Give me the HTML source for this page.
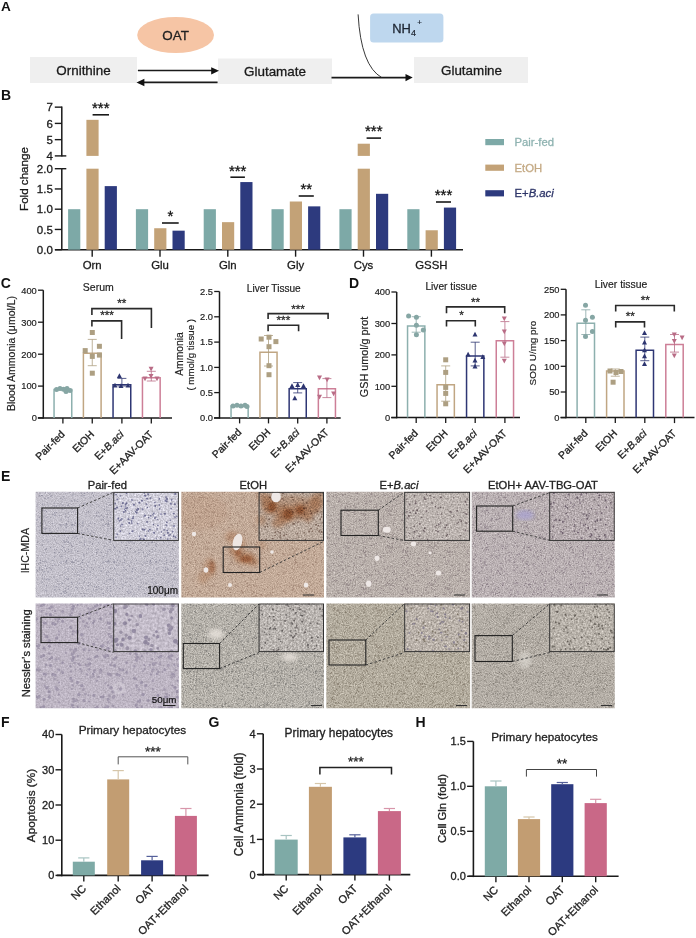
<!DOCTYPE html>
<html><head><meta charset="utf-8"><style>
html,body{margin:0;padding:0;background:#fff;}
svg{display:block;font-family:"Liberation Sans", sans-serif;will-change:transform;}
</style></head><body>
<svg width="696" height="938" viewBox="0 0 696 938">
<text x="1.1" y="10.8" font-size="13.6" text-anchor="start" font-weight="bold" fill="#111" stroke="#111" stroke-width="0" >A</text>
<rect x="30" y="57" width="107" height="26" fill="#efefef" />
<text x="83.5" y="74.5" font-size="13.4" text-anchor="middle" font-weight="normal" fill="#1a1a1a" stroke="#1a1a1a" stroke-width="0.3" >Ornithine</text>
<ellipse cx="175.6" cy="35" rx="38.4" ry="18.1" fill="#f6c5a5"/>
<text x="175.6" y="40.2" font-size="13.4" text-anchor="middle" font-weight="normal" fill="#222" stroke="#222" stroke-width="0.3" >OAT</text>
<rect x="218" y="58.5" width="114" height="25.5" fill="#efefef" />
<text x="275" y="76" font-size="13.45" text-anchor="middle" font-weight="normal" fill="#1a1a1a" stroke="#1a1a1a" stroke-width="0.3" >Glutamate</text>
<rect x="414" y="57" width="114" height="26" fill="#efefef" />
<text x="471.5" y="74.5" font-size="13.4" text-anchor="middle" font-weight="normal" fill="#1a1a1a" stroke="#1a1a1a" stroke-width="0.3" >Glutamine</text>
<rect x="370.1" y="13.6" width="73.3" height="28.8" rx="3.5" fill="#bed7ee"/>
<text x="392.3" y="33" font-size="12.9" text-anchor="start" font-weight="normal" fill="#1c2430" stroke="#1c2430" stroke-width="0.3" >NH</text>
<text x="411" y="35.8" font-size="9" text-anchor="start" font-weight="normal" fill="#1c2430" stroke="#1c2430" stroke-width="0.18" >4</text>
<text x="417.3" y="24.5" font-size="8" text-anchor="start" font-weight="normal" fill="#1c2430" stroke="#1c2430" stroke-width="0.18" >+</text>
<line x1="137.9" y1="70.5" x2="212" y2="70.5" stroke="#1a1a1a" stroke-width="1.6" />
<polygon points="219,70.8 211.2,67.2 211.2,74.4" fill="#111"/>
<line x1="144" y1="82.4" x2="217.6" y2="82.4" stroke="#1a1a1a" stroke-width="1.6" />
<polygon points="136.5,82.5 144.4,78.7 144.4,86.3" fill="#111"/>
<line x1="331.5" y1="77.6" x2="406" y2="77.6" stroke="#1a1a1a" stroke-width="1.6" />
<polygon points="412.7,77.6 405.5,74 405.5,81.2" fill="#111"/>
<path d="M358.1,14.4 Q361,66 381.8,77.6" fill="none" stroke="#222" stroke-width="0.9"/>
<text x="0.9" y="99.8" font-size="14" text-anchor="start" font-weight="bold" fill="#111" stroke="#111" stroke-width="0" >B</text>
<line x1="61.8" y1="106.5" x2="61.8" y2="156.6" stroke="#1a1a1a" stroke-width="1.5" />
<line x1="61.8" y1="168.3" x2="61.8" y2="250" stroke="#1a1a1a" stroke-width="1.5" />
<line x1="54.8" y1="107.15" x2="61.8" y2="107.15" stroke="#1a1a1a" stroke-width="1.4" />
<text x="52.8" y="111.25" font-size="11.5" text-anchor="end" font-weight="normal" fill="#1a1a1a" stroke="#1a1a1a" stroke-width="0.3" >7</text>
<line x1="54.8" y1="123.4" x2="61.8" y2="123.4" stroke="#1a1a1a" stroke-width="1.4" />
<text x="52.8" y="127.5" font-size="11.5" text-anchor="end" font-weight="normal" fill="#1a1a1a" stroke="#1a1a1a" stroke-width="0.3" >6</text>
<line x1="54.8" y1="139.65" x2="61.8" y2="139.65" stroke="#1a1a1a" stroke-width="1.4" />
<text x="52.8" y="143.75" font-size="11.5" text-anchor="end" font-weight="normal" fill="#1a1a1a" stroke="#1a1a1a" stroke-width="0.3" >5</text>
<line x1="54.8" y1="155.9" x2="61.8" y2="155.9" stroke="#1a1a1a" stroke-width="1.4" />
<text x="52.8" y="160.0" font-size="11.5" text-anchor="end" font-weight="normal" fill="#1a1a1a" stroke="#1a1a1a" stroke-width="0.3" >4</text>
<line x1="61.8" y1="155.9" x2="66.3" y2="155.9" stroke="#1a1a1a" stroke-width="1.4" />
<line x1="54.8" y1="168.7" x2="61.8" y2="168.7" stroke="#1a1a1a" stroke-width="1.4" />
<text x="52.8" y="172.79999999999998" font-size="11.5" text-anchor="end" font-weight="normal" fill="#1a1a1a" stroke="#1a1a1a" stroke-width="0.3" >2.0</text>
<line x1="54.8" y1="188.95" x2="61.8" y2="188.95" stroke="#1a1a1a" stroke-width="1.4" />
<text x="52.8" y="193.04999999999998" font-size="11.5" text-anchor="end" font-weight="normal" fill="#1a1a1a" stroke="#1a1a1a" stroke-width="0.3" >1.5</text>
<line x1="54.8" y1="209.2" x2="61.8" y2="209.2" stroke="#1a1a1a" stroke-width="1.4" />
<text x="52.8" y="213.29999999999998" font-size="11.5" text-anchor="end" font-weight="normal" fill="#1a1a1a" stroke="#1a1a1a" stroke-width="0.3" >1.0</text>
<line x1="54.8" y1="229.45" x2="61.8" y2="229.45" stroke="#1a1a1a" stroke-width="1.4" />
<text x="52.8" y="233.54999999999998" font-size="11.5" text-anchor="end" font-weight="normal" fill="#1a1a1a" stroke="#1a1a1a" stroke-width="0.3" >0.5</text>
<line x1="54.8" y1="249.7" x2="61.8" y2="249.7" stroke="#1a1a1a" stroke-width="1.4" />
<text x="52.8" y="253.79999999999998" font-size="11.5" text-anchor="end" font-weight="normal" fill="#1a1a1a" stroke="#1a1a1a" stroke-width="0.3" >0.0</text>
<line x1="61.8" y1="168.7" x2="66.3" y2="168.7" stroke="#1a1a1a" stroke-width="1.4" />
<line x1="55" y1="249.7" x2="463" y2="249.7" stroke="#1a1a1a" stroke-width="1.5" />
<text x="28" y="179" font-size="11.6" text-anchor="middle" font-weight="normal" fill="#1a1a1a" stroke="#1a1a1a" stroke-width="0.3" transform="rotate(-90 28 179)" >Fold change</text>
<line x1="92.2" y1="249.7" x2="92.2" y2="256.7" stroke="#1a1a1a" stroke-width="1.4" />
<text x="92.2" y="268.7" font-size="11.4" text-anchor="middle" font-weight="normal" fill="#1a1a1a" stroke="#1a1a1a" stroke-width="0.3" >Orn</text>
<rect x="68.1" y="209.2" width="12.2" height="40.5" fill="#7da9a7" />
<rect x="86.39999999999999" y="168.7" width="12.2" height="81.0" fill="#c3a277" />
<rect x="86.39999999999999" y="119.82500000000002" width="12.2" height="36.074999999999996" fill="#c3a277" />
<rect x="104.69999999999999" y="186.11499999999998" width="12.2" height="63.585" fill="#2d3a7e" />
<line x1="160.0" y1="249.7" x2="160.0" y2="256.7" stroke="#1a1a1a" stroke-width="1.4" />
<text x="160.0" y="268.7" font-size="11.4" text-anchor="middle" font-weight="normal" fill="#1a1a1a" stroke="#1a1a1a" stroke-width="0.3" >Glu</text>
<rect x="135.9" y="209.2" width="12.2" height="40.5" fill="#7da9a7" />
<rect x="154.20000000000002" y="228.23499999999999" width="12.2" height="21.465" fill="#c3a277" />
<rect x="172.5" y="230.665" width="12.2" height="19.035" fill="#2d3a7e" />
<line x1="227.8" y1="249.7" x2="227.8" y2="256.7" stroke="#1a1a1a" stroke-width="1.4" />
<text x="227.8" y="268.7" font-size="11.4" text-anchor="middle" font-weight="normal" fill="#1a1a1a" stroke="#1a1a1a" stroke-width="0.3" >Gln</text>
<rect x="203.70000000000002" y="209.2" width="12.2" height="40.5" fill="#7da9a7" />
<rect x="222.00000000000003" y="222.16" width="12.2" height="27.540000000000003" fill="#c3a277" />
<rect x="240.3" y="182.065" width="12.2" height="67.63499999999999" fill="#2d3a7e" />
<line x1="295.6" y1="249.7" x2="295.6" y2="256.7" stroke="#1a1a1a" stroke-width="1.4" />
<text x="295.6" y="268.7" font-size="11.4" text-anchor="middle" font-weight="normal" fill="#1a1a1a" stroke="#1a1a1a" stroke-width="0.3" >Gly</text>
<rect x="271.5" y="209.2" width="12.2" height="40.5" fill="#7da9a7" />
<rect x="289.8" y="201.505" width="12.2" height="48.195" fill="#c3a277" />
<rect x="308.1" y="206.36499999999998" width="12.2" height="43.335" fill="#2d3a7e" />
<line x1="363.5" y1="249.7" x2="363.5" y2="256.7" stroke="#1a1a1a" stroke-width="1.4" />
<text x="363.5" y="268.7" font-size="11.4" text-anchor="middle" font-weight="normal" fill="#1a1a1a" stroke="#1a1a1a" stroke-width="0.3" >Cys</text>
<rect x="339.4" y="209.2" width="12.2" height="40.5" fill="#7da9a7" />
<rect x="357.7" y="168.7" width="12.2" height="81.0" fill="#c3a277" />
<rect x="357.7" y="143.7125" width="12.2" height="12.1875" fill="#c3a277" />
<rect x="376.0" y="193.81" width="12.2" height="55.88999999999999" fill="#2d3a7e" />
<line x1="431.4" y1="249.7" x2="431.4" y2="256.7" stroke="#1a1a1a" stroke-width="1.4" />
<text x="431.4" y="268.7" font-size="11.4" text-anchor="middle" font-weight="normal" fill="#1a1a1a" stroke="#1a1a1a" stroke-width="0.3" >GSSH</text>
<rect x="407.29999999999995" y="209.2" width="12.2" height="40.5" fill="#7da9a7" />
<rect x="425.59999999999997" y="230.26" width="12.2" height="19.439999999999998" fill="#c3a277" />
<rect x="443.9" y="207.57999999999998" width="12.2" height="42.120000000000005" fill="#2d3a7e" />
<line x1="92.6" y1="114.8" x2="109" y2="114.8" stroke="#1a1a1a" stroke-width="1.6" />
<text x="100.8" y="113.1" font-size="15" text-anchor="middle" font-weight="normal" fill="#111" stroke="#111" stroke-width="0.3" >***</text>
<line x1="162" y1="223" x2="178.7" y2="223" stroke="#1a1a1a" stroke-width="1.6" />
<text x="170.35" y="221.3" font-size="15" text-anchor="middle" font-weight="normal" fill="#111" stroke="#111" stroke-width="0.3" >*</text>
<line x1="230.4" y1="177.2" x2="244.9" y2="177.2" stroke="#1a1a1a" stroke-width="1.6" />
<text x="237.65" y="175.5" font-size="15" text-anchor="middle" font-weight="normal" fill="#111" stroke="#111" stroke-width="0.3" >***</text>
<line x1="298.7" y1="196" x2="313.8" y2="196" stroke="#1a1a1a" stroke-width="1.6" />
<text x="306.25" y="194.3" font-size="15" text-anchor="middle" font-weight="normal" fill="#111" stroke="#111" stroke-width="0.3" >**</text>
<line x1="366.6" y1="138.1" x2="381" y2="138.1" stroke="#1a1a1a" stroke-width="1.6" />
<text x="373.8" y="136.4" font-size="15" text-anchor="middle" font-weight="normal" fill="#111" stroke="#111" stroke-width="0.3" >***</text>
<line x1="436" y1="202" x2="451" y2="202" stroke="#1a1a1a" stroke-width="1.6" />
<text x="443.5" y="200.3" font-size="15" text-anchor="middle" font-weight="normal" fill="#111" stroke="#111" stroke-width="0.3" >***</text>
<rect x="485.3" y="139.0" width="18.7" height="6.2" fill="#7da9a7" />
<text x="514.5" y="146.1" font-size="11.3" text-anchor="start" font-weight="normal" fill="#8fb3b1" stroke="#8fb3b1" stroke-width="0.3" >Pair-fed</text>
<rect x="485.3" y="164.6" width="18.7" height="6.2" fill="#c3a277" />
<text x="514.5" y="171.7" font-size="11.3" text-anchor="start" font-weight="normal" fill="#c4aa85" stroke="#c4aa85" stroke-width="0.3" >EtOH</text>
<rect x="485.3" y="190.20000000000002" width="18.7" height="6.2" fill="#2d3a7e" />
<text x="514.5" y="197.3" font-size="11.3" text-anchor="start" font-weight="normal" fill="#2d3468" stroke="#2d3468" stroke-width="0.3" >E+<tspan font-style="italic">B.aci</tspan></text>
<text x="0.7" y="287.7" font-size="14" text-anchor="start" font-weight="bold" fill="#111" stroke="#111" stroke-width="0" >C</text>
<text x="349" y="287.7" font-size="14" text-anchor="start" font-weight="bold" fill="#111" stroke="#111" stroke-width="0" >D</text>
<line x1="43.3" y1="290.2" x2="43.3" y2="418.59999999999997" stroke="#1a1a1a" stroke-width="1.5" />
<line x1="37.8" y1="417.9" x2="172" y2="417.9" stroke="#1a1a1a" stroke-width="1.5" />
<line x1="38.0" y1="290.2" x2="43.3" y2="290.2" stroke="#1a1a1a" stroke-width="1.3" />
<text x="36.8" y="293.5" font-size="9.3" text-anchor="end" font-weight="normal" fill="#222" stroke="#222" stroke-width="0.18" >400</text>
<line x1="38.0" y1="322.2" x2="43.3" y2="322.2" stroke="#1a1a1a" stroke-width="1.3" />
<text x="36.8" y="325.5" font-size="9.3" text-anchor="end" font-weight="normal" fill="#222" stroke="#222" stroke-width="0.18" >300</text>
<line x1="38.0" y1="354.2" x2="43.3" y2="354.2" stroke="#1a1a1a" stroke-width="1.3" />
<text x="36.8" y="357.5" font-size="9.3" text-anchor="end" font-weight="normal" fill="#222" stroke="#222" stroke-width="0.18" >200</text>
<line x1="38.0" y1="386.1" x2="43.3" y2="386.1" stroke="#1a1a1a" stroke-width="1.3" />
<text x="36.8" y="389.40000000000003" font-size="9.3" text-anchor="end" font-weight="normal" fill="#222" stroke="#222" stroke-width="0.18" >100</text>
<line x1="38.0" y1="417.9" x2="43.3" y2="417.9" stroke="#1a1a1a" stroke-width="1.3" />
<text x="36.8" y="421.2" font-size="9.3" text-anchor="end" font-weight="normal" fill="#222" stroke="#222" stroke-width="0.18" >0</text>
<line x1="62.9" y1="417.9" x2="62.9" y2="423.4" stroke="#1a1a1a" stroke-width="1.3" />
<path d="M54.05,417.9 L54.05,389.45 L71.75,389.45 L71.75,417.9" fill="none" stroke="#8db0ae" stroke-width="1.5"/>
<circle cx="56.5" cy="389.5" r="2.5" fill="#86a6a4"/>
<circle cx="60" cy="388.5" r="2.5" fill="#86a6a4"/>
<circle cx="63.5" cy="389.3" r="2.5" fill="#86a6a4"/>
<circle cx="67" cy="388.5" r="2.5" fill="#86a6a4"/>
<circle cx="70" cy="390.5" r="2.5" fill="#86a6a4"/>
<circle cx="66" cy="391.5" r="2.5" fill="#86a6a4"/>
<line x1="92.25" y1="417.9" x2="92.25" y2="423.4" stroke="#1a1a1a" stroke-width="1.3" />
<path d="M83.4,417.9 L83.4,353.25 L101.1,353.25 L101.1,417.9" fill="none" stroke="#c0a683" stroke-width="1.5"/>
<line x1="92.25" y1="339.4" x2="92.25" y2="365.7" stroke="#ad9f82" stroke-width="0.8" />
<line x1="87.75" y1="339.4" x2="96.75" y2="339.4" stroke="#ad9f82" stroke-width="0.8" />
<line x1="87.75" y1="365.7" x2="96.75" y2="365.7" stroke="#ad9f82" stroke-width="0.8" />
<rect x="89.8" y="330.0" width="5.0" height="5.0" fill="#ad9f82"/>
<rect x="96.9" y="343.8" width="5.0" height="5.0" fill="#ad9f82"/>
<rect x="82.7" y="348.1" width="5.0" height="5.0" fill="#ad9f82"/>
<rect x="89.8" y="353.9" width="5.0" height="5.0" fill="#ad9f82"/>
<rect x="96.9" y="352.6" width="5.0" height="5.0" fill="#ad9f82"/>
<rect x="89.8" y="370.7" width="5.0" height="5.0" fill="#ad9f82"/>
<line x1="121.9" y1="417.9" x2="121.9" y2="423.4" stroke="#1a1a1a" stroke-width="1.3" />
<path d="M113.05000000000001,417.9 L113.05000000000001,384.75 L130.75,384.75 L130.75,417.9" fill="none" stroke="#2e3674" stroke-width="1.5"/>
<line x1="121.9" y1="378.4" x2="121.9" y2="386" stroke="#2d3570" stroke-width="0.8" />
<line x1="117.4" y1="378.4" x2="126.4" y2="378.4" stroke="#2d3570" stroke-width="0.8" />
<line x1="117.4" y1="386" x2="126.4" y2="386" stroke="#2d3570" stroke-width="0.8" />
<polygon points="119.4,373.34999999999997 116.9,378.09999999999997 121.9,378.09999999999997" fill="#2d3570"/>
<polygon points="115,382.65 112.5,387.4 117.5,387.4" fill="#2d3570"/>
<polygon points="128,382.65 125.5,387.4 130.5,387.4" fill="#2d3570"/>
<polygon points="121,383.15 118.5,387.9 123.5,387.9" fill="#2d3570"/>
<line x1="151.3" y1="417.9" x2="151.3" y2="423.4" stroke="#1a1a1a" stroke-width="1.3" />
<path d="M142.45000000000002,417.9 L142.45000000000002,377.85 L160.15,377.85 L160.15,417.9" fill="none" stroke="#cd7f97" stroke-width="1.5"/>
<line x1="151.3" y1="371.3" x2="151.3" y2="381" stroke="#b96c86" stroke-width="0.8" />
<line x1="146.8" y1="371.3" x2="155.8" y2="371.3" stroke="#b96c86" stroke-width="0.8" />
<line x1="146.8" y1="381" x2="155.8" y2="381" stroke="#b96c86" stroke-width="0.8" />
<polygon points="151.1,371.55 148.6,366.8 153.6,366.8" fill="#b96c86"/>
<polygon points="145,381.35 142.5,376.6 147.5,376.6" fill="#b96c86"/>
<polygon points="157,381.35 154.5,376.6 159.5,376.6" fill="#b96c86"/>
<polygon points="151,378.85 148.5,374.1 153.5,374.1" fill="#b96c86"/>
<text x="98.3" y="290.8" font-size="10.5" text-anchor="middle" font-weight="normal" fill="#222" stroke="#222" stroke-width="0.18" >Serum</text>
<text x="15.2" y="353.5" font-size="10.5" text-anchor="middle" font-weight="normal" fill="#222" stroke="#222" stroke-width="0.18" transform="rotate(-90 15.2 353.5)" >Blood Ammonia (μmol/L)</text>
<path d="M91.9,326.4 L91.9,320.9 L121.6,320.9 L121.6,339" fill="none" stroke="#2a2a2a" stroke-width="1.6"/>
<text x="107" y="319.3" font-size="11.7" text-anchor="middle" font-weight="normal" fill="#2a2a2a" stroke="#2a2a2a" stroke-width="0.3" >***</text>
<path d="M91.9,315 L91.9,308.6 L151.4,308.6 L151.4,328" fill="none" stroke="#2a2a2a" stroke-width="1.6"/>
<text x="121.7" y="306.8" font-size="11.7" text-anchor="middle" font-weight="normal" fill="#2a2a2a" stroke="#2a2a2a" stroke-width="0.3" >**</text>
<text x="65.4" y="435" font-size="10.4" text-anchor="end" fill="#222" stroke="#222" stroke-width="0.3" transform="rotate(-45 65.4 435)">Pair-fed</text>
<text x="94.75" y="435" font-size="10.4" text-anchor="end" fill="#222" stroke="#222" stroke-width="0.3" transform="rotate(-45 94.75 435)">EtOH</text>
<text x="124.4" y="435" font-size="10.4" text-anchor="end" fill="#222" stroke="#222" stroke-width="0.3" transform="rotate(-45 124.4 435)">E+<tspan font-style="italic">B.aci</tspan></text>
<text x="153.8" y="435" font-size="10.4" text-anchor="end" fill="#222" stroke="#222" stroke-width="0.3" transform="rotate(-45 153.8 435)">E+AAV-OAT</text>
<line x1="219.5" y1="291.5" x2="219.5" y2="418.59999999999997" stroke="#1a1a1a" stroke-width="1.5" />
<line x1="214.0" y1="417.9" x2="340.7" y2="417.9" stroke="#1a1a1a" stroke-width="1.5" />
<line x1="214.2" y1="291.5" x2="219.5" y2="291.5" stroke="#1a1a1a" stroke-width="1.3" />
<text x="213.0" y="294.8" font-size="9.3" text-anchor="end" font-weight="normal" fill="#222" stroke="#222" stroke-width="0.18" >2.5</text>
<line x1="214.2" y1="316.8" x2="219.5" y2="316.8" stroke="#1a1a1a" stroke-width="1.3" />
<text x="213.0" y="320.1" font-size="9.3" text-anchor="end" font-weight="normal" fill="#222" stroke="#222" stroke-width="0.18" >2.0</text>
<line x1="214.2" y1="342.1" x2="219.5" y2="342.1" stroke="#1a1a1a" stroke-width="1.3" />
<text x="213.0" y="345.40000000000003" font-size="9.3" text-anchor="end" font-weight="normal" fill="#222" stroke="#222" stroke-width="0.18" >1.5</text>
<line x1="214.2" y1="367.4" x2="219.5" y2="367.4" stroke="#1a1a1a" stroke-width="1.3" />
<text x="213.0" y="370.7" font-size="9.3" text-anchor="end" font-weight="normal" fill="#222" stroke="#222" stroke-width="0.18" >1.0</text>
<line x1="214.2" y1="392.6" x2="219.5" y2="392.6" stroke="#1a1a1a" stroke-width="1.3" />
<text x="213.0" y="395.90000000000003" font-size="9.3" text-anchor="end" font-weight="normal" fill="#222" stroke="#222" stroke-width="0.18" >0.5</text>
<line x1="214.2" y1="417.9" x2="219.5" y2="417.9" stroke="#1a1a1a" stroke-width="1.3" />
<text x="213.0" y="421.2" font-size="9.3" text-anchor="end" font-weight="normal" fill="#222" stroke="#222" stroke-width="0.18" >0.0</text>
<line x1="239.6" y1="417.9" x2="239.6" y2="423.4" stroke="#1a1a1a" stroke-width="1.3" />
<path d="M231.04999999999998,417.9 L231.04999999999998,406.05 L248.15,406.05 L248.15,417.9" fill="none" stroke="#8db0ae" stroke-width="1.5"/>
<circle cx="233" cy="406" r="2.5" fill="#86a6a4"/>
<circle cx="237" cy="405.3" r="2.5" fill="#86a6a4"/>
<circle cx="241" cy="406" r="2.5" fill="#86a6a4"/>
<circle cx="245" cy="405.3" r="2.5" fill="#86a6a4"/>
<circle cx="247" cy="406.5" r="2.5" fill="#86a6a4"/>
<line x1="268.5" y1="417.9" x2="268.5" y2="423.4" stroke="#1a1a1a" stroke-width="1.3" />
<path d="M259.95,417.9 L259.95,352.35 L277.05,352.35 L277.05,417.9" fill="none" stroke="#c0a683" stroke-width="1.5"/>
<line x1="268.5" y1="335.5" x2="268.5" y2="366" stroke="#ad9f82" stroke-width="0.8" />
<line x1="264.0" y1="335.5" x2="273.0" y2="335.5" stroke="#ad9f82" stroke-width="0.8" />
<line x1="264.0" y1="366" x2="273.0" y2="366" stroke="#ad9f82" stroke-width="0.8" />
<rect x="258.7" y="336.5" width="5.0" height="5.0" fill="#ad9f82"/>
<rect x="266.5" y="334.7" width="5.0" height="5.0" fill="#ad9f82"/>
<rect x="273.4" y="339.1" width="5.0" height="5.0" fill="#ad9f82"/>
<rect x="266.5" y="344.2" width="5.0" height="5.0" fill="#ad9f82"/>
<rect x="266.5" y="363.2" width="5.0" height="5.0" fill="#ad9f82"/>
<rect x="266.5" y="372.2" width="5.0" height="5.0" fill="#ad9f82"/>
<line x1="297.7" y1="417.9" x2="297.7" y2="423.4" stroke="#1a1a1a" stroke-width="1.3" />
<path d="M289.15,417.9 L289.15,388.85 L306.25,388.85 L306.25,417.9" fill="none" stroke="#2e3674" stroke-width="1.5"/>
<line x1="297.7" y1="382.6" x2="297.7" y2="392.9" stroke="#2d3570" stroke-width="0.8" />
<line x1="293.2" y1="382.6" x2="302.2" y2="382.6" stroke="#2d3570" stroke-width="0.8" />
<line x1="293.2" y1="392.9" x2="302.2" y2="392.9" stroke="#2d3570" stroke-width="0.8" />
<polygon points="292,383.15 289.5,387.9 294.5,387.9" fill="#2d3570"/>
<polygon points="297.7,382.15 295.2,386.9 300.2,386.9" fill="#2d3570"/>
<polygon points="303.5,383.15 301.0,387.9 306.0,387.9" fill="#2d3570"/>
<polygon points="294.8,395.54999999999995 292.3,400.29999999999995 297.3,400.29999999999995" fill="#2d3570"/>
<line x1="326.9" y1="417.9" x2="326.9" y2="423.4" stroke="#1a1a1a" stroke-width="1.3" />
<path d="M318.34999999999997,417.9 L318.34999999999997,388.85 L335.45,388.85 L335.45,417.9" fill="none" stroke="#cd7f97" stroke-width="1.5"/>
<line x1="326.9" y1="378.6" x2="326.9" y2="397.6" stroke="#b96c86" stroke-width="0.8" />
<line x1="322.4" y1="378.6" x2="331.4" y2="378.6" stroke="#b96c86" stroke-width="0.8" />
<line x1="322.4" y1="397.6" x2="331.4" y2="397.6" stroke="#b96c86" stroke-width="0.8" />
<polygon points="319.5,380.25 317.0,375.5 322.0,375.5" fill="#b96c86"/>
<polygon points="327.1,382.35 324.6,377.6 329.6,377.6" fill="#b96c86"/>
<polygon points="319.5,399.55 317.0,394.8 322.0,394.8" fill="#b96c86"/>
<polygon points="333.6,396.15000000000003 331.1,391.40000000000003 336.1,391.40000000000003" fill="#b96c86"/>
<text x="273.8" y="291.5" font-size="10.1" text-anchor="middle" font-weight="normal" fill="#222" stroke="#222" stroke-width="0.18" >Liver Tissue</text>
<text x="182.5" y="354" font-size="10.3" text-anchor="middle" font-weight="normal" fill="#222" stroke="#222" stroke-width="0.18" transform="rotate(-90 182.5 354)" >Ammonia</text>
<text x="194.5" y="354.8" font-size="9.7" text-anchor="middle" font-weight="normal" fill="#222" stroke="#222" stroke-width="0.18" transform="rotate(-90 194.5 354.8)" >( mmol/g tissue )</text>
<path d="M268.1,331.2 L268.1,325.2 L298.6,325.2 L298.6,331.2" fill="none" stroke="#2a2a2a" stroke-width="1.6"/>
<text x="283.4" y="323.6" font-size="11.7" text-anchor="middle" font-weight="normal" fill="#2a2a2a" stroke="#2a2a2a" stroke-width="0.3" >***</text>
<path d="M268.1,319.1 L268.1,313.6 L328.1,313.6 L328.1,319.1" fill="none" stroke="#2a2a2a" stroke-width="1.6"/>
<text x="298" y="312.6" font-size="11.7" text-anchor="middle" font-weight="normal" fill="#2a2a2a" stroke="#2a2a2a" stroke-width="0.3" >***</text>
<text x="242.1" y="433" font-size="10.4" text-anchor="end" fill="#222" stroke="#222" stroke-width="0.3" transform="rotate(-45 242.1 433)">Pair-fed</text>
<text x="271.0" y="433" font-size="10.4" text-anchor="end" fill="#222" stroke="#222" stroke-width="0.3" transform="rotate(-45 271.0 433)">EtOH</text>
<text x="300.2" y="433" font-size="10.4" text-anchor="end" fill="#222" stroke="#222" stroke-width="0.3" transform="rotate(-45 300.2 433)">E+<tspan font-style="italic">B.aci</tspan></text>
<text x="329.4" y="433" font-size="10.4" text-anchor="end" fill="#222" stroke="#222" stroke-width="0.3" transform="rotate(-45 329.4 433)">E+AAV-OAT</text>
<line x1="396.7" y1="292" x2="396.7" y2="418.3" stroke="#1a1a1a" stroke-width="1.5" />
<line x1="391.2" y1="417.6" x2="520" y2="417.6" stroke="#1a1a1a" stroke-width="1.5" />
<line x1="391.4" y1="292" x2="396.7" y2="292" stroke="#1a1a1a" stroke-width="1.3" />
<text x="390.2" y="295.3" font-size="9.3" text-anchor="end" font-weight="normal" fill="#222" stroke="#222" stroke-width="0.18" >400</text>
<line x1="391.4" y1="323.5" x2="396.7" y2="323.5" stroke="#1a1a1a" stroke-width="1.3" />
<text x="390.2" y="326.8" font-size="9.3" text-anchor="end" font-weight="normal" fill="#222" stroke="#222" stroke-width="0.18" >300</text>
<line x1="391.4" y1="354.9" x2="396.7" y2="354.9" stroke="#1a1a1a" stroke-width="1.3" />
<text x="390.2" y="358.2" font-size="9.3" text-anchor="end" font-weight="normal" fill="#222" stroke="#222" stroke-width="0.18" >200</text>
<line x1="391.4" y1="386.3" x2="396.7" y2="386.3" stroke="#1a1a1a" stroke-width="1.3" />
<text x="390.2" y="389.6" font-size="9.3" text-anchor="end" font-weight="normal" fill="#222" stroke="#222" stroke-width="0.18" >100</text>
<line x1="391.4" y1="417.6" x2="396.7" y2="417.6" stroke="#1a1a1a" stroke-width="1.3" />
<text x="390.2" y="420.90000000000003" font-size="9.3" text-anchor="end" font-weight="normal" fill="#222" stroke="#222" stroke-width="0.18" >0</text>
<line x1="416.2" y1="417.6" x2="416.2" y2="423.1" stroke="#1a1a1a" stroke-width="1.3" />
<path d="M407.55,417.6 L407.55,326.05 L424.84999999999997,326.05 L424.84999999999997,417.6" fill="none" stroke="#8db0ae" stroke-width="1.5"/>
<line x1="416.2" y1="316.7" x2="416.2" y2="332.2" stroke="#86a6a4" stroke-width="0.8" />
<line x1="411.7" y1="316.7" x2="420.7" y2="316.7" stroke="#86a6a4" stroke-width="0.8" />
<line x1="411.7" y1="332.2" x2="420.7" y2="332.2" stroke="#86a6a4" stroke-width="0.8" />
<circle cx="408.6" cy="315.9" r="2.5" fill="#86a6a4"/>
<circle cx="416.4" cy="317.2" r="2.5" fill="#86a6a4"/>
<circle cx="416.4" cy="325.3" r="2.5" fill="#86a6a4"/>
<circle cx="423.3" cy="330" r="2.5" fill="#86a6a4"/>
<circle cx="416.4" cy="334.8" r="2.5" fill="#86a6a4"/>
<line x1="445.7" y1="417.6" x2="445.7" y2="423.1" stroke="#1a1a1a" stroke-width="1.3" />
<path d="M437.05,417.6 L437.05,384.75 L454.34999999999997,384.75 L454.34999999999997,417.6" fill="none" stroke="#c0a683" stroke-width="1.5"/>
<line x1="445.7" y1="365.9" x2="445.7" y2="401.2" stroke="#ad9f82" stroke-width="0.8" />
<line x1="441.2" y1="365.9" x2="450.2" y2="365.9" stroke="#ad9f82" stroke-width="0.8" />
<line x1="441.2" y1="401.2" x2="450.2" y2="401.2" stroke="#ad9f82" stroke-width="0.8" />
<rect x="443.2" y="357.3" width="5.0" height="5.0" fill="#ad9f82"/>
<rect x="443.2" y="369.9" width="5.0" height="5.0" fill="#ad9f82"/>
<rect x="443.2" y="384.9" width="5.0" height="5.0" fill="#ad9f82"/>
<rect x="443.2" y="390.9" width="5.0" height="5.0" fill="#ad9f82"/>
<rect x="443.2" y="401.3" width="5.0" height="5.0" fill="#ad9f82"/>
<line x1="475.2" y1="417.6" x2="475.2" y2="423.1" stroke="#1a1a1a" stroke-width="1.3" />
<path d="M466.55,417.6 L466.55,355.95 L483.84999999999997,355.95 L483.84999999999997,417.6" fill="none" stroke="#2e3674" stroke-width="1.5"/>
<line x1="475.2" y1="342.2" x2="475.2" y2="365.9" stroke="#2d3570" stroke-width="0.8" />
<line x1="470.7" y1="342.2" x2="479.7" y2="342.2" stroke="#2d3570" stroke-width="0.8" />
<line x1="470.7" y1="365.9" x2="479.7" y2="365.9" stroke="#2d3570" stroke-width="0.8" />
<polygon points="475,331.65 472.5,336.4 477.5,336.4" fill="#2d3570"/>
<polygon points="468.1,351.84999999999997 465.6,356.59999999999997 470.6,356.59999999999997" fill="#2d3570"/>
<polygon points="482.8,354.34999999999997 480.3,359.09999999999997 485.3,359.09999999999997" fill="#2d3570"/>
<polygon points="475,357.84999999999997 472.5,362.59999999999997 477.5,362.59999999999997" fill="#2d3570"/>
<polygon points="475,363.84999999999997 472.5,368.59999999999997 477.5,368.59999999999997" fill="#2d3570"/>
<line x1="504.9" y1="417.6" x2="504.9" y2="423.1" stroke="#1a1a1a" stroke-width="1.3" />
<path d="M496.25,417.6 L496.25,340.75 L513.55,340.75 L513.55,417.6" fill="none" stroke="#cd7f97" stroke-width="1.5"/>
<line x1="504.9" y1="321.6" x2="504.9" y2="357.2" stroke="#b96c86" stroke-width="0.8" />
<line x1="500.4" y1="321.6" x2="509.4" y2="321.6" stroke="#b96c86" stroke-width="0.8" />
<line x1="500.4" y1="357.2" x2="509.4" y2="357.2" stroke="#b96c86" stroke-width="0.8" />
<polygon points="504.3,321.25 501.8,316.5 506.8,316.5" fill="#b96c86"/>
<polygon points="504.3,334.25 501.8,329.5 506.8,329.5" fill="#b96c86"/>
<polygon points="504.3,346.25 501.8,341.5 506.8,341.5" fill="#b96c86"/>
<polygon points="504.3,363.55 501.8,358.8 506.8,358.8" fill="#b96c86"/>
<text x="451.2" y="289.5" font-size="10.2" text-anchor="middle" font-weight="normal" fill="#222" stroke="#222" stroke-width="0.18" >Liver tissue</text>
<text x="367.5" y="357" font-size="10.8" text-anchor="middle" font-weight="normal" fill="#222" stroke="#222" stroke-width="0.18" transform="rotate(-90 367.5 357)" >GSH umol/g prot</text>
<path d="M446.5,326.6 L446.5,320.7 L475.3,320.7 L475.3,326.6" fill="none" stroke="#2a2a2a" stroke-width="1.6"/>
<text x="461.6" y="318.8" font-size="11.7" text-anchor="middle" font-weight="normal" fill="#2a2a2a" stroke="#2a2a2a" stroke-width="0.3" >*</text>
<path d="M446.5,313.3 L446.5,306.9 L504.7,306.9 L504.7,313.3" fill="none" stroke="#2a2a2a" stroke-width="1.6"/>
<text x="475.6" y="306.1" font-size="11.7" text-anchor="middle" font-weight="normal" fill="#2a2a2a" stroke="#2a2a2a" stroke-width="0.3" >**</text>
<text x="418.7" y="434" font-size="10.4" text-anchor="end" fill="#222" stroke="#222" stroke-width="0.3" transform="rotate(-45 418.7 434)">Pair-fed</text>
<text x="448.2" y="434" font-size="10.4" text-anchor="end" fill="#222" stroke="#222" stroke-width="0.3" transform="rotate(-45 448.2 434)">EtOH</text>
<text x="477.7" y="434" font-size="10.4" text-anchor="end" fill="#222" stroke="#222" stroke-width="0.3" transform="rotate(-45 477.7 434)">E+<tspan font-style="italic">B.aci</tspan></text>
<text x="507.4" y="434" font-size="10.4" text-anchor="end" fill="#222" stroke="#222" stroke-width="0.3" transform="rotate(-45 507.4 434)">E+AAV-OAT</text>
<line x1="566" y1="289.3" x2="566" y2="418.3" stroke="#1a1a1a" stroke-width="1.5" />
<line x1="560.5" y1="417.6" x2="694.5" y2="417.6" stroke="#1a1a1a" stroke-width="1.5" />
<line x1="560.7" y1="289.3" x2="566" y2="289.3" stroke="#1a1a1a" stroke-width="1.3" />
<text x="559.5" y="292.6" font-size="9.3" text-anchor="end" font-weight="normal" fill="#222" stroke="#222" stroke-width="0.18" >250</text>
<line x1="560.7" y1="314.9" x2="566" y2="314.9" stroke="#1a1a1a" stroke-width="1.3" />
<text x="559.5" y="318.2" font-size="9.3" text-anchor="end" font-weight="normal" fill="#222" stroke="#222" stroke-width="0.18" >200</text>
<line x1="560.7" y1="340.6" x2="566" y2="340.6" stroke="#1a1a1a" stroke-width="1.3" />
<text x="559.5" y="343.90000000000003" font-size="9.3" text-anchor="end" font-weight="normal" fill="#222" stroke="#222" stroke-width="0.18" >150</text>
<line x1="560.7" y1="366.3" x2="566" y2="366.3" stroke="#1a1a1a" stroke-width="1.3" />
<text x="559.5" y="369.6" font-size="9.3" text-anchor="end" font-weight="normal" fill="#222" stroke="#222" stroke-width="0.18" >100</text>
<line x1="560.7" y1="392" x2="566" y2="392" stroke="#1a1a1a" stroke-width="1.3" />
<text x="559.5" y="395.3" font-size="9.3" text-anchor="end" font-weight="normal" fill="#222" stroke="#222" stroke-width="0.18" >50</text>
<line x1="560.7" y1="417.6" x2="566" y2="417.6" stroke="#1a1a1a" stroke-width="1.3" />
<text x="559.5" y="420.90000000000003" font-size="9.3" text-anchor="end" font-weight="normal" fill="#222" stroke="#222" stroke-width="0.18" >0</text>
<line x1="585.8" y1="417.6" x2="585.8" y2="423.1" stroke="#1a1a1a" stroke-width="1.3" />
<path d="M577.0999999999999,417.6 L577.0999999999999,323.15 L594.5,323.15 L594.5,417.6" fill="none" stroke="#8db0ae" stroke-width="1.5"/>
<line x1="585.8" y1="309.8" x2="585.8" y2="334.5" stroke="#86a6a4" stroke-width="0.8" />
<line x1="581.3" y1="309.8" x2="590.3" y2="309.8" stroke="#86a6a4" stroke-width="0.8" />
<line x1="581.3" y1="334.5" x2="590.3" y2="334.5" stroke="#86a6a4" stroke-width="0.8" />
<circle cx="585.5" cy="305.2" r="2.5" fill="#86a6a4"/>
<circle cx="592.4" cy="317.2" r="2.5" fill="#86a6a4"/>
<circle cx="585.5" cy="320.2" r="2.5" fill="#86a6a4"/>
<circle cx="592.4" cy="331.4" r="2.5" fill="#86a6a4"/>
<circle cx="585.5" cy="336.6" r="2.5" fill="#86a6a4"/>
<line x1="615.3" y1="417.6" x2="615.3" y2="423.1" stroke="#1a1a1a" stroke-width="1.3" />
<path d="M606.5999999999999,417.6 L606.5999999999999,370.95 L624.0,370.95 L624.0,417.6" fill="none" stroke="#c0a683" stroke-width="1.5"/>
<line x1="615.3" y1="369" x2="615.3" y2="376.2" stroke="#ad9f82" stroke-width="0.8" />
<line x1="610.8" y1="369" x2="619.8" y2="369" stroke="#ad9f82" stroke-width="0.8" />
<line x1="610.8" y1="376.2" x2="619.8" y2="376.2" stroke="#ad9f82" stroke-width="0.8" />
<rect x="607.5" y="368.5" width="5.0" height="5.0" fill="#ad9f82"/>
<rect x="613.5" y="370.0" width="5.0" height="5.0" fill="#ad9f82"/>
<rect x="618.5" y="369.0" width="5.0" height="5.0" fill="#ad9f82"/>
<rect x="610.6" y="379.7" width="5.0" height="5.0" fill="#ad9f82"/>
<line x1="644.8" y1="417.6" x2="644.8" y2="423.1" stroke="#1a1a1a" stroke-width="1.3" />
<path d="M636.0999999999999,417.6 L636.0999999999999,350.25 L653.5,350.25 L653.5,417.6" fill="none" stroke="#2e3674" stroke-width="1.5"/>
<line x1="644.8" y1="337.1" x2="644.8" y2="360.7" stroke="#2d3570" stroke-width="0.8" />
<line x1="640.3" y1="337.1" x2="649.3" y2="337.1" stroke="#2d3570" stroke-width="0.8" />
<line x1="640.3" y1="360.7" x2="649.3" y2="360.7" stroke="#2d3570" stroke-width="0.8" />
<polygon points="644.5,330.25 642.0,335.0 647.0,335.0" fill="#2d3570"/>
<polygon points="644.5,339.75 642.0,344.5 647.0,344.5" fill="#2d3570"/>
<polygon points="644.5,347.45 642.0,352.2 647.0,352.2" fill="#2d3570"/>
<polygon points="644.5,353.54999999999995 642.0,358.29999999999995 647.0,358.29999999999995" fill="#2d3570"/>
<polygon points="644.5,361.25 642.0,366.0 647.0,366.0" fill="#2d3570"/>
<line x1="674.5" y1="417.6" x2="674.5" y2="423.1" stroke="#1a1a1a" stroke-width="1.3" />
<path d="M665.8,417.6 L665.8,344.55 L683.2,344.55 L683.2,417.6" fill="none" stroke="#cd7f97" stroke-width="1.5"/>
<line x1="674.5" y1="334.5" x2="674.5" y2="352.1" stroke="#b96c86" stroke-width="0.8" />
<line x1="670.0" y1="334.5" x2="679.0" y2="334.5" stroke="#b96c86" stroke-width="0.8" />
<line x1="670.0" y1="352.1" x2="679.0" y2="352.1" stroke="#b96c86" stroke-width="0.8" />
<polygon points="674.3,337.35 671.8,332.6 676.8,332.6" fill="#b96c86"/>
<polygon points="682.1,340.25 679.6,335.5 684.6,335.5" fill="#b96c86"/>
<polygon points="674.3,343.75 671.8,339.0 676.8,339.0" fill="#b96c86"/>
<polygon points="674.3,358.35 671.8,353.6 676.8,353.6" fill="#b96c86"/>
<text x="621" y="287.5" font-size="10.4" text-anchor="middle" font-weight="normal" fill="#222" stroke="#222" stroke-width="0.18" >Liver tissue</text>
<text x="536" y="353" font-size="9.9" text-anchor="middle" font-weight="normal" fill="#222" stroke="#222" stroke-width="0.18" transform="rotate(-90 536 353)" >SOD U/mg pro</text>
<path d="M615.7,327.6 L615.7,321.9 L644.5,321.9 L644.5,327.6" fill="none" stroke="#2a2a2a" stroke-width="1.6"/>
<text x="630.3" y="320.3" font-size="11.7" text-anchor="middle" font-weight="normal" fill="#2a2a2a" stroke="#2a2a2a" stroke-width="0.3" >**</text>
<path d="M615.7,311.6 L615.7,305.5 L674.3,305.5 L674.3,311.6" fill="none" stroke="#2a2a2a" stroke-width="1.6"/>
<text x="645.2" y="303.8" font-size="11.7" text-anchor="middle" font-weight="normal" fill="#2a2a2a" stroke="#2a2a2a" stroke-width="0.3" >**</text>
<text x="588.3" y="434" font-size="10.4" text-anchor="end" fill="#222" stroke="#222" stroke-width="0.3" transform="rotate(-45 588.3 434)">Pair-fed</text>
<text x="617.8" y="434" font-size="10.4" text-anchor="end" fill="#222" stroke="#222" stroke-width="0.3" transform="rotate(-45 617.8 434)">EtOH</text>
<text x="647.3" y="434" font-size="10.4" text-anchor="end" fill="#222" stroke="#222" stroke-width="0.3" transform="rotate(-45 647.3 434)">E+<tspan font-style="italic">B.aci</tspan></text>
<text x="677.0" y="434" font-size="10.4" text-anchor="end" fill="#222" stroke="#222" stroke-width="0.3" transform="rotate(-45 677.0 434)">E+AAV-OAT</text>
<text x="0.9" y="480.7" font-size="14" text-anchor="start" font-weight="bold" fill="#111" stroke="#111" stroke-width="0" >E</text>
<text x="107.3" y="488.5" font-size="11.2" text-anchor="middle" font-weight="normal" fill="#222" stroke="#222" stroke-width="0.3" >Pair-fed</text>
<text x="253.3" y="488.5" font-size="11.2" text-anchor="middle" font-weight="normal" fill="#222" stroke="#222" stroke-width="0.3" >EtOH</text>
<text x="399" y="488.5" font-size="11.2" text-anchor="middle" font-weight="normal" fill="#222" stroke="#222" stroke-width="0.3" >E+<tspan font-style="italic">B.aci</tspan></text>
<text x="543" y="488.5" font-size="11.2" text-anchor="middle" font-weight="normal" fill="#222" stroke="#222" stroke-width="0.3" >EtOH+ AAV-TBG-OAT</text>
<text x="29.5" y="550.7" font-size="10.6" text-anchor="middle" font-weight="normal" fill="#222" stroke="#222" stroke-width="0.18" transform="rotate(-90 29.5 550.7)" >IHC-MDA</text>
<text x="30" y="653.3" font-size="11.2" text-anchor="middle" font-weight="normal" fill="#222" stroke="#222" stroke-width="0.3" transform="rotate(-90 30 653.3)" >Nessler’s  staining</text>
<defs>
<filter id="pf1" x="0" y="0" width="100%" height="100%" filterUnits="objectBoundingBox" color-interpolation-filters="sRGB"><feTurbulence type="fractalNoise" baseFrequency="0.9" numOctaves="2" seed="7"/><feColorMatrix type="matrix" values="0.333 0 0 0 0.6020  0.333 0 0 0 0.5902  0.333 0 0 0 0.6294  0 0 0 0 1"/></filter>
<filter id="pf1i" x="0" y="0" width="100%" height="100%" filterUnits="objectBoundingBox" color-interpolation-filters="sRGB"><feTurbulence type="fractalNoise" baseFrequency="0.6" numOctaves="2" seed="8"/><feColorMatrix type="matrix" values="0.467 0 0 0 0.5824  0.467 0 0 0 0.5745  0.467 0 0 0 0.6216  0 0 0 0 1"/></filter>
<filter id="et1" x="0" y="0" width="100%" height="100%" filterUnits="objectBoundingBox" color-interpolation-filters="sRGB"><feTurbulence type="fractalNoise" baseFrequency="0.9" numOctaves="2" seed="9"/><feColorMatrix type="matrix" values="0.333 0 0 0 0.6020  0.333 0 0 0 0.5078  0.333 0 0 0 0.4373  0 0 0 0 1"/></filter>
<filter id="et1i" x="0" y="0" width="100%" height="100%" filterUnits="objectBoundingBox" color-interpolation-filters="sRGB"><feTurbulence type="fractalNoise" baseFrequency="0.65" numOctaves="2" seed="10"/><feColorMatrix type="matrix" values="0.467 0 0 0 0.4961  0.467 0 0 0 0.4333  0.467 0 0 0 0.3863  0 0 0 0 1"/></filter>
<filter id="ba1" x="0" y="0" width="100%" height="100%" filterUnits="objectBoundingBox" color-interpolation-filters="sRGB"><feTurbulence type="fractalNoise" baseFrequency="0.9" numOctaves="2" seed="11"/><feColorMatrix type="matrix" values="0.367 0 0 0 0.5461  0.367 0 0 0 0.5108  0.367 0 0 0 0.4912  0 0 0 0 1"/></filter>
<filter id="ba1i" x="0" y="0" width="100%" height="100%" filterUnits="objectBoundingBox" color-interpolation-filters="sRGB"><feTurbulence type="fractalNoise" baseFrequency="0.65" numOctaves="2" seed="12"/><feColorMatrix type="matrix" values="0.467 0 0 0 0.5039  0.467 0 0 0 0.4725  0.467 0 0 0 0.4569  0 0 0 0 1"/></filter>
<filter id="aa1" x="0" y="0" width="100%" height="100%" filterUnits="objectBoundingBox" color-interpolation-filters="sRGB"><feTurbulence type="fractalNoise" baseFrequency="0.9" numOctaves="2" seed="13"/><feColorMatrix type="matrix" values="0.367 0 0 0 0.5500  0.367 0 0 0 0.5147  0.367 0 0 0 0.5225  0 0 0 0 1"/></filter>
<filter id="aa1i" x="0" y="0" width="100%" height="100%" filterUnits="objectBoundingBox" color-interpolation-filters="sRGB"><feTurbulence type="fractalNoise" baseFrequency="0.65" numOctaves="2" seed="14"/><feColorMatrix type="matrix" values="0.467 0 0 0 0.4804  0.467 0 0 0 0.4412  0.467 0 0 0 0.4529  0 0 0 0 1"/></filter>
<filter id="pf2" x="0" y="0" width="100%" height="100%" filterUnits="objectBoundingBox" color-interpolation-filters="sRGB"><feTurbulence type="fractalNoise" baseFrequency="0.6" numOctaves="2" seed="15"/><feColorMatrix type="matrix" values="0.267 0 0 0 0.6118  0.267 0 0 0 0.5804  0.267 0 0 0 0.6353  0 0 0 0 1"/></filter>
<filter id="pf2i" x="0" y="0" width="100%" height="100%" filterUnits="objectBoundingBox" color-interpolation-filters="sRGB"><feTurbulence type="fractalNoise" baseFrequency="0.4" numOctaves="2" seed="16"/><feColorMatrix type="matrix" values="0.300 0 0 0 0.6186  0.300 0 0 0 0.5912  0.300 0 0 0 0.6422  0 0 0 0 1"/></filter>
<filter id="et2" x="0" y="0" width="100%" height="100%" filterUnits="objectBoundingBox" color-interpolation-filters="sRGB"><feTurbulence type="fractalNoise" baseFrequency="0.9" numOctaves="2" seed="17"/><feColorMatrix type="matrix" values="0.433 0 0 0 0.4971  0.433 0 0 0 0.4814  0.433 0 0 0 0.4539  0 0 0 0 1"/></filter>
<filter id="et2i" x="0" y="0" width="100%" height="100%" filterUnits="objectBoundingBox" color-interpolation-filters="sRGB"><feTurbulence type="fractalNoise" baseFrequency="0.55" numOctaves="2" seed="18"/><feColorMatrix type="matrix" values="0.500 0 0 0 0.4794  0.500 0 0 0 0.4598  0.500 0 0 0 0.4441  0 0 0 0 1"/></filter>
<filter id="ba2" x="0" y="0" width="100%" height="100%" filterUnits="objectBoundingBox" color-interpolation-filters="sRGB"><feTurbulence type="fractalNoise" baseFrequency="0.9" numOctaves="2" seed="19"/><feColorMatrix type="matrix" values="0.433 0 0 0 0.4892  0.433 0 0 0 0.4618  0.433 0 0 0 0.4069  0 0 0 0 1"/></filter>
<filter id="ba2i" x="0" y="0" width="100%" height="100%" filterUnits="objectBoundingBox" color-interpolation-filters="sRGB"><feTurbulence type="fractalNoise" baseFrequency="0.55" numOctaves="2" seed="20"/><feColorMatrix type="matrix" values="0.500 0 0 0 0.4794  0.500 0 0 0 0.4480  0.500 0 0 0 0.4167  0 0 0 0 1"/></filter>
<filter id="aa2" x="0" y="0" width="100%" height="100%" filterUnits="objectBoundingBox" color-interpolation-filters="sRGB"><feTurbulence type="fractalNoise" baseFrequency="0.9" numOctaves="2" seed="21"/><feColorMatrix type="matrix" values="0.400 0 0 0 0.5059  0.400 0 0 0 0.4824  0.400 0 0 0 0.4510  0 0 0 0 1"/></filter>
<filter id="aa2i" x="0" y="0" width="100%" height="100%" filterUnits="objectBoundingBox" color-interpolation-filters="sRGB"><feTurbulence type="fractalNoise" baseFrequency="0.55" numOctaves="2" seed="22"/><feColorMatrix type="matrix" values="0.467 0 0 0 0.4882  0.467 0 0 0 0.4647  0.467 0 0 0 0.4333  0 0 0 0 1"/></filter>
<pattern id="pf1s0" patternUnits="userSpaceOnUse" width="42" height="37"><g fill="#66667e"><circle cx="6.1" cy="16.8" r="0.68"/><circle cx="29.6" cy="27.1" r="0.58"/><circle cx="33.6" cy="19.7" r="0.47"/><circle cx="19.1" cy="1.8" r="0.73"/><circle cx="39.8" cy="12.4" r="0.54"/><circle cx="32.3" cy="7.5" r="0.50"/><circle cx="7.9" cy="12.8" r="0.64"/><circle cx="40.5" cy="7.8" r="0.74"/><circle cx="23.3" cy="33.3" r="0.70"/><circle cx="6.7" cy="24.0" r="0.49"/><circle cx="0.2" cy="14.6" r="0.68"/><circle cx="42.2" cy="14.6" r="0.68"/><circle cx="23.8" cy="7.1" r="0.70"/><circle cx="38.4" cy="8.8" r="0.58"/><circle cx="26.8" cy="33.4" r="0.49"/><circle cx="23.3" cy="35.8" r="0.63"/><circle cx="30.1" cy="28.7" r="0.60"/><circle cx="12.2" cy="21.8" r="0.61"/><circle cx="14.4" cy="31.6" r="0.56"/><circle cx="20.3" cy="28.2" r="0.69"/><circle cx="37.4" cy="24.1" r="0.53"/><circle cx="35.6" cy="33.6" r="0.66"/><circle cx="32.2" cy="19.0" r="0.60"/><circle cx="24.5" cy="5.4" r="0.65"/><circle cx="36.2" cy="6.1" r="0.68"/><circle cx="29.7" cy="4.5" r="0.47"/><circle cx="25.0" cy="8.1" r="0.54"/><circle cx="26.1" cy="24.1" r="0.67"/><circle cx="23.9" cy="12.3" r="0.45"/><circle cx="4.8" cy="7.1" r="0.61"/><circle cx="30.2" cy="7.7" r="0.57"/><circle cx="39.3" cy="14.8" r="0.66"/><circle cx="26.0" cy="24.4" r="0.59"/><circle cx="22.9" cy="25.9" r="0.50"/><circle cx="33.5" cy="32.3" r="0.46"/><circle cx="8.3" cy="9.2" r="0.48"/><circle cx="5.9" cy="23.7" r="0.49"/><circle cx="2.8" cy="35.0" r="0.57"/><circle cx="22.7" cy="17.5" r="0.55"/><circle cx="19.1" cy="7.2" r="0.62"/><circle cx="10.6" cy="5.4" r="0.51"/><circle cx="17.3" cy="34.4" r="0.63"/><circle cx="41.2" cy="14.8" r="0.53"/><circle cx="29.8" cy="7.0" r="0.75"/><circle cx="16.4" cy="10.0" r="0.53"/><circle cx="12.8" cy="34.7" r="0.75"/><circle cx="23.5" cy="8.6" r="0.45"/><circle cx="3.4" cy="11.0" r="0.64"/><circle cx="26.3" cy="31.6" r="0.70"/><circle cx="14.8" cy="24.9" r="0.58"/><circle cx="30.6" cy="6.8" r="0.74"/><circle cx="1.0" cy="22.9" r="0.56"/><circle cx="33.6" cy="5.3" r="0.72"/><circle cx="0.1" cy="27.2" r="0.66"/><circle cx="42.1" cy="27.2" r="0.66"/><circle cx="21.3" cy="6.5" r="0.56"/><circle cx="18.8" cy="7.9" r="0.50"/><circle cx="35.4" cy="20.3" r="0.53"/><circle cx="26.3" cy="23.4" r="0.49"/><circle cx="24.6" cy="21.6" r="0.48"/><circle cx="12.6" cy="31.9" r="0.62"/><circle cx="9.4" cy="14.6" r="0.59"/><circle cx="29.7" cy="31.8" r="0.48"/><circle cx="2.0" cy="16.3" r="0.46"/><circle cx="6.5" cy="3.9" r="0.48"/><circle cx="26.3" cy="3.5" r="0.62"/><circle cx="40.6" cy="5.2" r="0.68"/><circle cx="24.5" cy="6.3" r="0.73"/><circle cx="30.9" cy="14.0" r="0.72"/><circle cx="4.4" cy="30.8" r="0.70"/></g></pattern>
<pattern id="pf1s1" patternUnits="userSpaceOnUse" width="64" height="51"><g fill="#74748a"><circle cx="37.2" cy="9.9" r="0.79"/><circle cx="59.1" cy="23.8" r="0.68"/><circle cx="13.7" cy="11.3" r="0.55"/><circle cx="44.3" cy="10.8" r="0.79"/><circle cx="4.5" cy="9.9" r="0.48"/><circle cx="49.3" cy="18.7" r="0.62"/><circle cx="20.9" cy="32.5" r="0.59"/><circle cx="13.3" cy="21.9" r="0.56"/><circle cx="7.1" cy="42.0" r="0.69"/><circle cx="42.5" cy="45.0" r="0.59"/><circle cx="24.3" cy="21.6" r="0.59"/><circle cx="42.8" cy="0.3" r="0.61"/><circle cx="42.8" cy="51.3" r="0.61"/><circle cx="34.2" cy="17.6" r="0.46"/><circle cx="45.1" cy="0.5" r="0.65"/><circle cx="45.1" cy="51.5" r="0.65"/><circle cx="9.8" cy="1.8" r="0.51"/><circle cx="4.2" cy="7.7" r="0.69"/><circle cx="46.6" cy="18.5" r="0.68"/><circle cx="30.4" cy="25.4" r="0.76"/><circle cx="19.9" cy="44.4" r="0.69"/><circle cx="43.7" cy="0.3" r="0.48"/><circle cx="43.7" cy="51.3" r="0.48"/><circle cx="2.0" cy="17.6" r="0.78"/><circle cx="56.0" cy="42.8" r="0.49"/><circle cx="45.2" cy="39.5" r="0.73"/><circle cx="50.7" cy="7.2" r="0.51"/><circle cx="50.7" cy="37.6" r="0.76"/><circle cx="28.6" cy="45.4" r="0.50"/><circle cx="61.3" cy="45.1" r="0.57"/><circle cx="4.3" cy="28.0" r="0.69"/><circle cx="22.4" cy="2.9" r="0.55"/><circle cx="52.8" cy="4.6" r="0.78"/><circle cx="16.0" cy="10.4" r="0.49"/><circle cx="62.8" cy="46.0" r="0.56"/><circle cx="6.1" cy="33.3" r="0.76"/><circle cx="0.8" cy="32.3" r="0.75"/><circle cx="29.4" cy="29.0" r="0.73"/><circle cx="15.3" cy="13.9" r="0.68"/><circle cx="35.3" cy="27.3" r="0.57"/><circle cx="60.0" cy="14.7" r="0.69"/><circle cx="57.2" cy="20.4" r="0.47"/><circle cx="14.1" cy="3.4" r="0.50"/><circle cx="7.7" cy="17.5" r="0.58"/><circle cx="28.6" cy="33.9" r="0.69"/><circle cx="44.0" cy="18.6" r="0.68"/><circle cx="35.2" cy="6.5" r="0.64"/><circle cx="20.4" cy="34.5" r="0.71"/><circle cx="15.4" cy="22.2" r="0.61"/><circle cx="19.0" cy="2.1" r="0.47"/><circle cx="-0.5" cy="37.7" r="0.60"/><circle cx="63.5" cy="37.7" r="0.60"/><circle cx="42.7" cy="13.7" r="0.70"/><circle cx="60.9" cy="39.4" r="0.61"/><circle cx="62.9" cy="47.0" r="0.47"/><circle cx="26.4" cy="23.1" r="0.55"/><circle cx="39.5" cy="7.3" r="0.71"/><circle cx="54.9" cy="3.1" r="0.69"/><circle cx="17.0" cy="32.6" r="0.69"/><circle cx="62.5" cy="40.7" r="0.57"/><circle cx="46.7" cy="7.5" r="0.70"/><circle cx="26.7" cy="13.5" r="0.53"/><circle cx="13.9" cy="40.6" r="0.48"/><circle cx="14.9" cy="9.8" r="0.51"/><circle cx="46.7" cy="30.0" r="0.68"/><circle cx="57.6" cy="22.9" r="0.46"/><circle cx="12.1" cy="26.3" r="0.70"/><circle cx="58.8" cy="26.1" r="0.53"/><circle cx="37.9" cy="47.7" r="0.57"/><circle cx="59.6" cy="46.1" r="0.65"/><circle cx="30.8" cy="6.6" r="0.49"/><circle cx="2.6" cy="31.2" r="0.70"/><circle cx="-0.4" cy="30.7" r="0.80"/><circle cx="63.6" cy="30.7" r="0.80"/><circle cx="25.8" cy="6.8" r="0.47"/><circle cx="18.4" cy="27.1" r="0.80"/><circle cx="19.0" cy="12.0" r="0.70"/><circle cx="24.9" cy="28.5" r="0.50"/><circle cx="54.6" cy="46.9" r="0.71"/><circle cx="59.9" cy="17.0" r="0.46"/><circle cx="19.5" cy="45.8" r="0.61"/><circle cx="12.8" cy="7.7" r="0.51"/></g></pattern>
<pattern id="pf1is0" patternUnits="userSpaceOnUse" width="64" height="51"><g fill="#464676"><circle cx="15.8" cy="29.6" r="1.09"/><circle cx="42.1" cy="24.6" r="0.82"/><circle cx="8.8" cy="-0.1" r="1.00"/><circle cx="8.8" cy="50.9" r="1.00"/><circle cx="16.0" cy="30.3" r="0.98"/><circle cx="58.0" cy="14.3" r="0.83"/><circle cx="12.0" cy="30.1" r="1.07"/><circle cx="47.0" cy="7.1" r="0.85"/><circle cx="4.9" cy="8.2" r="0.90"/><circle cx="9.8" cy="13.8" r="0.80"/><circle cx="27.0" cy="43.6" r="0.79"/><circle cx="39.2" cy="20.4" r="0.82"/><circle cx="19.1" cy="39.7" r="1.04"/><circle cx="46.9" cy="45.3" r="0.99"/><circle cx="19.1" cy="11.9" r="0.93"/><circle cx="39.0" cy="40.0" r="1.06"/><circle cx="51.1" cy="49.8" r="0.97"/><circle cx="43.7" cy="40.8" r="0.90"/><circle cx="51.1" cy="44.6" r="0.90"/><circle cx="21.9" cy="19.4" r="0.94"/><circle cx="36.2" cy="25.2" r="0.86"/><circle cx="47.2" cy="34.9" r="1.07"/><circle cx="61.6" cy="0.7" r="0.86"/><circle cx="61.6" cy="51.7" r="0.86"/><circle cx="47.6" cy="27.3" r="0.95"/><circle cx="16.4" cy="19.7" r="1.04"/><circle cx="42.9" cy="44.8" r="1.07"/><circle cx="58.9" cy="44.1" r="1.07"/><circle cx="57.4" cy="47.4" r="0.87"/><circle cx="26.1" cy="22.7" r="1.01"/><circle cx="62.6" cy="34.3" r="0.87"/><circle cx="5.2" cy="6.7" r="0.73"/><circle cx="9.6" cy="0.0" r="0.86"/><circle cx="9.6" cy="51.0" r="0.86"/><circle cx="19.5" cy="48.4" r="0.76"/><circle cx="5.9" cy="45.8" r="1.07"/><circle cx="32.8" cy="27.5" r="0.84"/><circle cx="25.4" cy="14.4" r="0.74"/><circle cx="62.5" cy="44.2" r="1.05"/><circle cx="9.5" cy="32.5" r="0.72"/><circle cx="45.8" cy="3.6" r="0.94"/><circle cx="10.2" cy="49.9" r="1.07"/><circle cx="27.2" cy="46.9" r="1.01"/><circle cx="11.4" cy="43.8" r="1.05"/><circle cx="16.3" cy="34.1" r="0.82"/><circle cx="1.7" cy="23.4" r="0.75"/><circle cx="52.2" cy="35.7" r="0.80"/><circle cx="25.8" cy="3.3" r="0.84"/><circle cx="38.5" cy="42.3" r="1.09"/><circle cx="39.8" cy="22.7" r="1.05"/><circle cx="37.3" cy="41.4" r="0.84"/><circle cx="56.9" cy="9.9" r="0.86"/><circle cx="14.6" cy="19.2" r="0.95"/><circle cx="59.8" cy="2.0" r="0.93"/><circle cx="14.0" cy="41.8" r="1.00"/><circle cx="62.0" cy="49.2" r="0.96"/><circle cx="16.6" cy="36.6" r="0.88"/><circle cx="17.0" cy="5.5" r="1.06"/><circle cx="27.9" cy="7.2" r="0.79"/><circle cx="8.7" cy="2.8" r="1.00"/><circle cx="30.0" cy="15.4" r="0.83"/><circle cx="17.5" cy="26.0" r="0.93"/><circle cx="4.5" cy="21.2" r="1.05"/><circle cx="45.7" cy="26.2" r="0.86"/><circle cx="20.7" cy="7.5" r="0.82"/><circle cx="7.5" cy="1.8" r="0.75"/><circle cx="-0.6" cy="48.8" r="0.72"/><circle cx="63.4" cy="48.8" r="0.72"/><circle cx="22.6" cy="5.8" r="0.84"/><circle cx="38.9" cy="12.3" r="0.88"/><circle cx="11.3" cy="26.2" r="0.76"/><circle cx="20.5" cy="21.1" r="0.81"/><circle cx="31.4" cy="39.8" r="0.87"/><circle cx="54.3" cy="8.6" r="0.98"/><circle cx="53.0" cy="48.5" r="0.98"/><circle cx="20.1" cy="35.2" r="0.95"/><circle cx="25.5" cy="30.6" r="0.72"/><circle cx="0.6" cy="9.3" r="1.07"/><circle cx="64.6" cy="9.3" r="1.07"/><circle cx="1.3" cy="13.1" r="1.01"/><circle cx="56.4" cy="21.2" r="0.90"/><circle cx="58.1" cy="14.7" r="0.74"/><circle cx="17.7" cy="36.9" r="0.83"/><circle cx="36.8" cy="3.8" r="1.03"/><circle cx="61.5" cy="45.9" r="0.76"/><circle cx="61.6" cy="45.3" r="0.79"/><circle cx="26.8" cy="8.1" r="0.85"/></g></pattern>
<pattern id="pf1is1" patternUnits="userSpaceOnUse" width="81" height="68"><g fill="#5a5a86"><circle cx="10.6" cy="55.5" r="0.95"/><circle cx="31.2" cy="18.8" r="0.68"/><circle cx="6.6" cy="14.6" r="0.68"/><circle cx="69.2" cy="13.0" r="0.68"/><circle cx="75.2" cy="62.4" r="0.64"/><circle cx="26.1" cy="67.2" r="0.76"/><circle cx="50.8" cy="47.0" r="0.86"/><circle cx="4.5" cy="49.2" r="0.93"/><circle cx="36.3" cy="23.5" r="0.89"/><circle cx="80.1" cy="64.1" r="0.68"/><circle cx="61.5" cy="33.3" r="0.99"/><circle cx="78.6" cy="32.9" r="0.96"/><circle cx="71.7" cy="7.6" r="0.76"/><circle cx="76.7" cy="16.0" r="0.78"/><circle cx="51.0" cy="24.0" r="0.91"/><circle cx="14.8" cy="40.6" r="0.82"/><circle cx="2.2" cy="53.8" r="0.92"/><circle cx="69.0" cy="13.0" r="0.81"/><circle cx="12.2" cy="49.9" r="0.85"/><circle cx="72.2" cy="9.3" r="0.70"/><circle cx="5.8" cy="63.0" r="0.86"/><circle cx="11.4" cy="50.2" r="0.78"/><circle cx="32.6" cy="53.2" r="0.89"/><circle cx="39.3" cy="19.9" r="0.76"/><circle cx="31.5" cy="12.6" r="0.67"/><circle cx="45.3" cy="66.0" r="0.83"/><circle cx="32.7" cy="2.1" r="0.97"/><circle cx="25.7" cy="20.0" r="0.89"/><circle cx="71.5" cy="7.5" r="0.63"/><circle cx="17.5" cy="-0.4" r="0.81"/><circle cx="17.5" cy="67.6" r="0.81"/><circle cx="8.3" cy="44.2" r="0.80"/><circle cx="8.6" cy="4.5" r="0.75"/><circle cx="78.4" cy="29.1" r="1.00"/><circle cx="30.4" cy="22.0" r="0.64"/><circle cx="49.0" cy="11.0" r="0.98"/><circle cx="50.5" cy="1.4" r="0.85"/><circle cx="38.3" cy="44.8" r="0.84"/><circle cx="9.1" cy="32.6" r="0.85"/><circle cx="6.9" cy="59.6" r="0.88"/><circle cx="15.5" cy="5.1" r="0.76"/><circle cx="50.9" cy="42.8" r="0.65"/><circle cx="48.2" cy="37.4" r="0.67"/><circle cx="40.8" cy="42.8" r="0.89"/><circle cx="9.1" cy="5.0" r="0.88"/><circle cx="80.0" cy="38.1" r="0.96"/><circle cx="30.8" cy="10.9" r="0.87"/><circle cx="22.5" cy="58.4" r="0.90"/><circle cx="4.1" cy="21.2" r="0.92"/><circle cx="4.4" cy="15.2" r="0.61"/><circle cx="56.2" cy="65.7" r="0.88"/><circle cx="72.3" cy="13.4" r="0.92"/><circle cx="-0.6" cy="55.8" r="0.69"/><circle cx="80.4" cy="55.8" r="0.69"/><circle cx="24.1" cy="63.9" r="0.88"/><circle cx="33.2" cy="17.8" r="0.62"/><circle cx="62.9" cy="40.6" r="0.66"/><circle cx="10.4" cy="-0.7" r="0.97"/><circle cx="10.4" cy="67.3" r="0.97"/><circle cx="0.6" cy="11.5" r="0.95"/><circle cx="81.6" cy="11.5" r="0.95"/><circle cx="36.3" cy="58.4" r="0.79"/><circle cx="30.7" cy="65.0" r="0.72"/><circle cx="76.2" cy="52.7" r="0.65"/><circle cx="75.4" cy="64.8" r="0.65"/><circle cx="43.5" cy="33.3" r="0.70"/><circle cx="59.7" cy="62.8" r="0.95"/><circle cx="65.5" cy="28.2" r="0.86"/><circle cx="69.5" cy="22.0" r="0.90"/><circle cx="35.1" cy="61.6" r="0.74"/><circle cx="44.2" cy="30.7" r="0.66"/><circle cx="39.6" cy="50.0" r="0.85"/><circle cx="76.0" cy="53.9" r="0.65"/><circle cx="40.4" cy="30.4" r="0.61"/><circle cx="76.4" cy="43.6" r="0.73"/><circle cx="50.6" cy="45.0" r="0.91"/><circle cx="72.0" cy="38.9" r="0.81"/></g></pattern>
<pattern id="et1s0" patternUnits="userSpaceOnUse" width="42" height="37"><g fill="#806050"><circle cx="10.1" cy="3.6" r="0.65"/><circle cx="10.2" cy="23.1" r="0.50"/><circle cx="41.2" cy="25.0" r="0.54"/><circle cx="2.7" cy="31.0" r="0.72"/><circle cx="14.2" cy="3.9" r="0.74"/><circle cx="37.6" cy="17.1" r="0.48"/><circle cx="31.6" cy="35.9" r="0.54"/><circle cx="15.5" cy="32.2" r="0.67"/><circle cx="38.5" cy="23.0" r="0.52"/><circle cx="39.9" cy="30.0" r="0.71"/><circle cx="14.1" cy="11.2" r="0.74"/><circle cx="38.9" cy="3.7" r="0.47"/><circle cx="5.6" cy="24.5" r="0.53"/><circle cx="7.0" cy="19.2" r="0.74"/><circle cx="20.1" cy="3.0" r="0.49"/><circle cx="12.6" cy="12.3" r="0.51"/><circle cx="3.5" cy="12.6" r="0.52"/><circle cx="8.7" cy="3.1" r="0.62"/><circle cx="31.8" cy="13.0" r="0.48"/><circle cx="17.8" cy="2.8" r="0.49"/><circle cx="11.0" cy="33.4" r="0.47"/><circle cx="20.5" cy="0.5" r="0.56"/><circle cx="20.5" cy="37.5" r="0.56"/><circle cx="41.2" cy="31.1" r="0.59"/><circle cx="11.1" cy="9.7" r="0.61"/><circle cx="18.4" cy="9.8" r="0.46"/><circle cx="32.8" cy="-0.0" r="0.74"/><circle cx="32.8" cy="37.0" r="0.74"/><circle cx="21.3" cy="14.8" r="0.48"/><circle cx="41.5" cy="16.2" r="0.47"/><circle cx="40.7" cy="24.1" r="0.67"/><circle cx="22.6" cy="7.9" r="0.69"/><circle cx="31.3" cy="18.9" r="0.73"/><circle cx="7.5" cy="35.5" r="0.62"/><circle cx="4.7" cy="31.0" r="0.71"/><circle cx="34.4" cy="16.3" r="0.63"/><circle cx="25.4" cy="26.5" r="0.57"/><circle cx="5.1" cy="12.5" r="0.56"/><circle cx="1.8" cy="6.5" r="0.65"/><circle cx="21.7" cy="7.0" r="0.70"/><circle cx="2.0" cy="0.0" r="0.65"/><circle cx="2.0" cy="37.0" r="0.65"/><circle cx="37.6" cy="31.7" r="0.64"/><circle cx="19.0" cy="9.5" r="0.73"/><circle cx="27.7" cy="7.4" r="0.71"/><circle cx="31.3" cy="35.9" r="0.56"/><circle cx="18.4" cy="21.3" r="0.54"/><circle cx="12.5" cy="34.4" r="0.70"/><circle cx="37.2" cy="27.9" r="0.65"/><circle cx="1.7" cy="30.3" r="0.51"/><circle cx="26.5" cy="24.0" r="0.51"/><circle cx="30.0" cy="2.9" r="0.48"/><circle cx="32.0" cy="12.0" r="0.60"/><circle cx="26.7" cy="19.9" r="0.71"/><circle cx="34.1" cy="9.6" r="0.48"/><circle cx="20.1" cy="34.5" r="0.52"/><circle cx="33.1" cy="16.8" r="0.74"/><circle cx="2.3" cy="7.4" r="0.68"/><circle cx="41.1" cy="35.2" r="0.71"/><circle cx="12.1" cy="19.8" r="0.45"/><circle cx="19.5" cy="18.3" r="0.48"/><circle cx="7.8" cy="32.3" r="0.61"/><circle cx="28.1" cy="31.4" r="0.73"/><circle cx="40.0" cy="8.8" r="0.63"/><circle cx="3.3" cy="8.9" r="0.56"/><circle cx="1.8" cy="4.6" r="0.64"/><circle cx="34.2" cy="14.0" r="0.50"/><circle cx="27.3" cy="5.5" r="0.71"/><circle cx="1.0" cy="8.3" r="0.72"/><circle cx="29.8" cy="11.6" r="0.47"/><circle cx="27.1" cy="17.2" r="0.47"/></g></pattern>
<pattern id="et1s1" patternUnits="userSpaceOnUse" width="64" height="51"><g fill="#8a6a5a"><circle cx="57.3" cy="10.0" r="0.49"/><circle cx="7.2" cy="38.5" r="0.75"/><circle cx="-0.5" cy="34.6" r="0.67"/><circle cx="63.5" cy="34.6" r="0.67"/><circle cx="44.0" cy="24.6" r="0.64"/><circle cx="9.2" cy="2.1" r="0.75"/><circle cx="51.3" cy="49.2" r="0.71"/><circle cx="37.6" cy="8.4" r="0.75"/><circle cx="33.9" cy="44.3" r="0.72"/><circle cx="50.3" cy="32.2" r="0.73"/><circle cx="27.4" cy="36.4" r="0.63"/><circle cx="39.0" cy="49.7" r="0.76"/><circle cx="45.8" cy="30.6" r="0.53"/><circle cx="53.7" cy="20.9" r="0.58"/><circle cx="55.2" cy="24.3" r="0.69"/><circle cx="11.8" cy="38.4" r="0.78"/><circle cx="39.3" cy="43.2" r="0.65"/><circle cx="46.0" cy="22.7" r="0.56"/><circle cx="59.7" cy="33.2" r="0.77"/><circle cx="21.3" cy="13.1" r="0.64"/><circle cx="37.9" cy="3.0" r="0.48"/><circle cx="38.6" cy="1.3" r="0.50"/><circle cx="60.8" cy="48.8" r="0.77"/><circle cx="18.6" cy="49.6" r="0.58"/><circle cx="51.8" cy="15.1" r="0.78"/><circle cx="10.9" cy="3.2" r="0.52"/><circle cx="38.7" cy="3.5" r="0.68"/><circle cx="52.5" cy="41.1" r="0.74"/><circle cx="43.7" cy="25.9" r="0.64"/><circle cx="17.1" cy="27.6" r="0.66"/><circle cx="31.9" cy="45.6" r="0.73"/><circle cx="19.6" cy="45.6" r="0.57"/><circle cx="32.7" cy="5.3" r="0.69"/><circle cx="3.8" cy="7.9" r="0.76"/><circle cx="58.9" cy="26.7" r="0.73"/><circle cx="31.4" cy="1.8" r="0.50"/><circle cx="39.1" cy="40.6" r="0.62"/><circle cx="60.0" cy="46.8" r="0.46"/><circle cx="5.8" cy="34.1" r="0.78"/><circle cx="37.2" cy="38.8" r="0.66"/><circle cx="41.6" cy="4.1" r="0.74"/><circle cx="52.6" cy="43.6" r="0.79"/><circle cx="46.8" cy="6.2" r="0.65"/><circle cx="0.7" cy="37.8" r="0.78"/><circle cx="64.7" cy="37.8" r="0.78"/><circle cx="14.7" cy="6.0" r="0.74"/><circle cx="58.1" cy="12.3" r="0.74"/><circle cx="47.0" cy="4.3" r="0.66"/><circle cx="62.4" cy="18.6" r="0.45"/><circle cx="0.7" cy="32.4" r="0.79"/><circle cx="64.7" cy="32.4" r="0.79"/><circle cx="12.2" cy="33.7" r="0.63"/><circle cx="30.0" cy="33.1" r="0.59"/><circle cx="21.5" cy="23.1" r="0.71"/><circle cx="38.9" cy="14.7" r="0.57"/><circle cx="5.3" cy="43.0" r="0.60"/><circle cx="8.9" cy="47.8" r="0.67"/><circle cx="52.7" cy="20.8" r="0.53"/><circle cx="14.6" cy="32.6" r="0.78"/><circle cx="18.8" cy="24.8" r="0.62"/><circle cx="38.6" cy="41.6" r="0.67"/><circle cx="0.5" cy="34.9" r="0.61"/><circle cx="64.5" cy="34.9" r="0.61"/><circle cx="58.8" cy="42.0" r="0.72"/><circle cx="63.4" cy="43.9" r="0.53"/><circle cx="61.1" cy="30.6" r="0.64"/><circle cx="21.1" cy="42.2" r="0.66"/><circle cx="37.6" cy="27.7" r="0.78"/><circle cx="35.8" cy="33.3" r="0.45"/><circle cx="1.0" cy="18.6" r="0.73"/><circle cx="50.1" cy="26.0" r="0.56"/><circle cx="39.0" cy="47.9" r="0.56"/><circle cx="43.9" cy="3.6" r="0.63"/><circle cx="14.3" cy="-0.4" r="0.64"/><circle cx="14.3" cy="50.6" r="0.64"/><circle cx="48.7" cy="46.3" r="0.63"/><circle cx="36.3" cy="29.2" r="0.71"/><circle cx="55.5" cy="28.8" r="0.63"/><circle cx="15.1" cy="39.5" r="0.78"/><circle cx="47.6" cy="11.4" r="0.80"/><circle cx="35.3" cy="44.9" r="0.50"/><circle cx="36.1" cy="7.0" r="0.65"/></g></pattern>
<pattern id="et1is0" patternUnits="userSpaceOnUse" width="64" height="51"><g fill="#5a4034"><circle cx="5.6" cy="29.8" r="0.76"/><circle cx="58.5" cy="31.3" r="0.81"/><circle cx="60.0" cy="14.6" r="0.94"/><circle cx="27.0" cy="34.5" r="0.99"/><circle cx="51.6" cy="30.8" r="0.92"/><circle cx="1.6" cy="21.9" r="0.94"/><circle cx="48.2" cy="23.0" r="0.69"/><circle cx="22.2" cy="21.9" r="0.65"/><circle cx="60.0" cy="33.0" r="0.81"/><circle cx="11.7" cy="16.4" r="0.77"/><circle cx="9.3" cy="17.1" r="0.75"/><circle cx="47.1" cy="46.3" r="0.60"/><circle cx="8.7" cy="43.6" r="0.60"/><circle cx="16.5" cy="28.7" r="0.81"/><circle cx="13.9" cy="38.4" r="0.89"/><circle cx="0.3" cy="36.3" r="0.75"/><circle cx="64.3" cy="36.3" r="0.75"/><circle cx="31.5" cy="29.4" r="0.86"/><circle cx="51.3" cy="9.2" r="0.68"/><circle cx="13.1" cy="9.3" r="0.92"/><circle cx="55.0" cy="18.5" r="0.87"/><circle cx="50.7" cy="43.9" r="0.91"/><circle cx="37.2" cy="40.7" r="0.73"/><circle cx="38.0" cy="13.8" r="0.76"/><circle cx="24.3" cy="25.4" r="0.60"/><circle cx="28.0" cy="25.4" r="0.96"/><circle cx="45.4" cy="7.7" r="0.76"/><circle cx="48.4" cy="4.3" r="0.95"/><circle cx="3.0" cy="34.4" r="0.83"/><circle cx="61.3" cy="18.8" r="0.72"/><circle cx="11.5" cy="14.2" r="0.73"/><circle cx="37.0" cy="14.2" r="0.67"/><circle cx="55.5" cy="3.5" r="0.98"/><circle cx="16.5" cy="39.0" r="0.89"/><circle cx="61.1" cy="39.3" r="0.60"/><circle cx="48.6" cy="49.4" r="0.92"/><circle cx="33.2" cy="2.4" r="0.61"/><circle cx="15.8" cy="36.8" r="0.66"/><circle cx="35.9" cy="38.3" r="0.83"/><circle cx="46.7" cy="40.8" r="0.89"/><circle cx="0.4" cy="33.7" r="0.83"/><circle cx="64.4" cy="33.7" r="0.83"/><circle cx="52.5" cy="13.2" r="0.66"/><circle cx="3.3" cy="23.0" r="0.67"/><circle cx="49.4" cy="29.7" r="0.75"/><circle cx="21.8" cy="4.6" r="0.65"/><circle cx="57.0" cy="8.7" r="0.81"/><circle cx="36.6" cy="38.3" r="0.67"/><circle cx="25.2" cy="6.9" r="0.65"/><circle cx="24.0" cy="27.1" r="0.73"/><circle cx="24.9" cy="28.5" r="0.61"/><circle cx="54.6" cy="0.9" r="0.76"/><circle cx="45.7" cy="0.4" r="0.66"/><circle cx="45.7" cy="51.4" r="0.66"/><circle cx="1.3" cy="7.0" r="0.83"/><circle cx="47.6" cy="49.3" r="0.81"/><circle cx="56.3" cy="21.2" r="0.81"/><circle cx="61.3" cy="1.4" r="0.96"/><circle cx="19.3" cy="22.4" r="0.97"/><circle cx="28.0" cy="47.0" r="0.87"/><circle cx="9.4" cy="49.8" r="0.61"/></g></pattern>
<pattern id="et1is1" patternUnits="userSpaceOnUse" width="81" height="68"><g fill="#6a5046"><circle cx="41.3" cy="40.6" r="0.72"/><circle cx="75.3" cy="49.6" r="0.90"/><circle cx="37.1" cy="56.8" r="0.89"/><circle cx="48.0" cy="7.2" r="0.78"/><circle cx="78.6" cy="37.9" r="0.75"/><circle cx="50.9" cy="9.7" r="0.73"/><circle cx="63.1" cy="32.0" r="0.75"/><circle cx="78.9" cy="35.5" r="0.78"/><circle cx="6.6" cy="40.5" r="0.80"/><circle cx="22.9" cy="63.4" r="0.85"/><circle cx="43.7" cy="58.6" r="0.76"/><circle cx="79.2" cy="46.7" r="0.75"/><circle cx="36.9" cy="65.8" r="0.84"/><circle cx="1.1" cy="58.0" r="0.77"/><circle cx="24.3" cy="32.9" r="0.68"/><circle cx="54.0" cy="42.1" r="0.78"/><circle cx="39.0" cy="22.7" r="0.88"/><circle cx="67.5" cy="3.5" r="0.85"/><circle cx="65.3" cy="-0.6" r="0.91"/><circle cx="65.3" cy="67.4" r="0.91"/><circle cx="77.2" cy="43.4" r="0.94"/><circle cx="59.8" cy="17.1" r="0.89"/><circle cx="50.2" cy="36.2" r="0.70"/><circle cx="76.4" cy="55.0" r="0.91"/><circle cx="19.7" cy="11.5" r="0.67"/><circle cx="30.8" cy="23.1" r="0.90"/><circle cx="32.3" cy="-0.4" r="0.62"/><circle cx="32.3" cy="67.6" r="0.62"/><circle cx="32.1" cy="59.6" r="0.80"/><circle cx="54.4" cy="57.7" r="0.85"/><circle cx="13.9" cy="3.5" r="0.99"/><circle cx="33.4" cy="35.2" r="0.64"/><circle cx="40.9" cy="24.0" r="0.67"/><circle cx="55.0" cy="46.2" r="0.84"/><circle cx="67.4" cy="65.8" r="0.94"/><circle cx="5.8" cy="35.6" r="0.87"/><circle cx="72.1" cy="36.7" r="0.78"/><circle cx="23.4" cy="15.4" r="0.93"/><circle cx="1.4" cy="50.3" r="0.99"/><circle cx="4.4" cy="12.5" r="0.71"/><circle cx="66.0" cy="55.4" r="0.97"/><circle cx="49.3" cy="35.4" r="0.80"/><circle cx="45.2" cy="49.9" r="0.72"/><circle cx="73.3" cy="12.7" r="0.99"/><circle cx="38.0" cy="2.5" r="0.64"/><circle cx="53.9" cy="61.8" r="0.63"/><circle cx="1.9" cy="22.7" r="0.91"/><circle cx="15.9" cy="27.2" r="0.71"/><circle cx="0.2" cy="7.3" r="0.74"/><circle cx="81.2" cy="7.3" r="0.74"/><circle cx="50.8" cy="47.9" r="0.86"/></g></pattern>
<pattern id="ba1s0" patternUnits="userSpaceOnUse" width="42" height="37"><g fill="#605058"><circle cx="39.5" cy="8.8" r="0.60"/><circle cx="5.6" cy="1.1" r="0.50"/><circle cx="26.8" cy="9.3" r="0.65"/><circle cx="30.0" cy="20.5" r="0.47"/><circle cx="4.7" cy="10.8" r="0.56"/><circle cx="38.2" cy="26.5" r="0.58"/><circle cx="7.0" cy="14.8" r="0.73"/><circle cx="35.3" cy="12.0" r="0.55"/><circle cx="14.6" cy="25.1" r="0.70"/><circle cx="8.3" cy="20.9" r="0.45"/><circle cx="23.6" cy="2.5" r="0.62"/><circle cx="11.2" cy="28.3" r="0.56"/><circle cx="31.0" cy="21.0" r="0.55"/><circle cx="33.6" cy="14.9" r="0.49"/><circle cx="0.3" cy="16.6" r="0.53"/><circle cx="42.3" cy="16.6" r="0.53"/><circle cx="13.3" cy="29.9" r="0.68"/><circle cx="39.3" cy="15.3" r="0.70"/><circle cx="17.7" cy="24.9" r="0.60"/><circle cx="32.5" cy="33.8" r="0.53"/><circle cx="27.5" cy="34.0" r="0.61"/><circle cx="7.9" cy="29.2" r="0.63"/><circle cx="27.4" cy="5.7" r="0.48"/><circle cx="2.9" cy="20.4" r="0.72"/><circle cx="31.7" cy="10.7" r="0.56"/><circle cx="2.8" cy="1.1" r="0.71"/><circle cx="25.1" cy="8.0" r="0.50"/><circle cx="27.3" cy="33.0" r="0.64"/><circle cx="22.4" cy="22.1" r="0.72"/><circle cx="30.0" cy="9.6" r="0.46"/><circle cx="40.2" cy="3.5" r="0.62"/><circle cx="25.2" cy="32.3" r="0.69"/><circle cx="16.4" cy="31.6" r="0.48"/><circle cx="29.6" cy="-0.1" r="0.71"/><circle cx="29.6" cy="36.9" r="0.71"/><circle cx="30.0" cy="17.6" r="0.66"/><circle cx="29.4" cy="29.7" r="0.71"/><circle cx="28.7" cy="6.8" r="0.61"/><circle cx="24.8" cy="2.3" r="0.74"/><circle cx="14.6" cy="28.2" r="0.52"/><circle cx="29.7" cy="5.8" r="0.50"/><circle cx="9.5" cy="13.0" r="0.52"/><circle cx="5.7" cy="35.4" r="0.59"/><circle cx="15.2" cy="6.1" r="0.50"/><circle cx="9.4" cy="27.7" r="0.65"/><circle cx="35.6" cy="20.3" r="0.60"/><circle cx="11.5" cy="25.3" r="0.56"/><circle cx="30.4" cy="14.9" r="0.65"/><circle cx="11.3" cy="32.8" r="0.63"/><circle cx="30.2" cy="1.2" r="0.50"/><circle cx="30.1" cy="22.3" r="0.46"/><circle cx="12.5" cy="34.1" r="0.67"/><circle cx="33.7" cy="20.0" r="0.75"/><circle cx="20.0" cy="12.5" r="0.53"/><circle cx="14.6" cy="17.5" r="0.60"/><circle cx="11.2" cy="15.8" r="0.55"/><circle cx="18.8" cy="23.2" r="0.55"/><circle cx="10.3" cy="29.8" r="0.67"/><circle cx="6.4" cy="13.7" r="0.56"/><circle cx="6.9" cy="7.2" r="0.59"/><circle cx="40.3" cy="25.7" r="0.67"/><circle cx="29.9" cy="33.3" r="0.70"/><circle cx="18.4" cy="30.1" r="0.64"/><circle cx="27.4" cy="24.5" r="0.55"/><circle cx="41.0" cy="35.5" r="0.48"/><circle cx="13.0" cy="11.4" r="0.59"/><circle cx="28.8" cy="34.5" r="0.75"/><circle cx="18.3" cy="19.2" r="0.59"/><circle cx="32.3" cy="36.2" r="0.51"/><circle cx="12.2" cy="29.9" r="0.74"/></g></pattern>
<pattern id="ba1s1" patternUnits="userSpaceOnUse" width="64" height="51"><g fill="#6a5a62"><circle cx="37.5" cy="39.9" r="0.55"/><circle cx="56.6" cy="45.3" r="0.78"/><circle cx="40.4" cy="16.8" r="0.74"/><circle cx="7.2" cy="28.0" r="0.50"/><circle cx="50.4" cy="28.9" r="0.72"/><circle cx="8.9" cy="37.2" r="0.73"/><circle cx="8.6" cy="5.3" r="0.48"/><circle cx="16.7" cy="37.2" r="0.48"/><circle cx="59.8" cy="21.5" r="0.53"/><circle cx="11.2" cy="5.0" r="0.62"/><circle cx="3.4" cy="31.5" r="0.56"/><circle cx="9.4" cy="24.6" r="0.67"/><circle cx="54.2" cy="5.2" r="0.63"/><circle cx="9.3" cy="46.6" r="0.51"/><circle cx="28.5" cy="32.3" r="0.71"/><circle cx="21.9" cy="45.5" r="0.58"/><circle cx="58.5" cy="16.7" r="0.57"/><circle cx="42.6" cy="26.6" r="0.58"/><circle cx="43.2" cy="38.4" r="0.45"/><circle cx="9.9" cy="13.6" r="0.77"/><circle cx="34.6" cy="4.4" r="0.67"/><circle cx="10.1" cy="10.0" r="0.78"/><circle cx="23.2" cy="9.0" r="0.50"/><circle cx="32.6" cy="28.8" r="0.58"/><circle cx="16.6" cy="19.6" r="0.75"/><circle cx="19.9" cy="11.9" r="0.52"/><circle cx="1.4" cy="19.1" r="0.65"/><circle cx="44.0" cy="9.8" r="0.61"/><circle cx="59.0" cy="24.1" r="0.52"/><circle cx="7.5" cy="42.0" r="0.68"/><circle cx="7.5" cy="33.6" r="0.49"/><circle cx="28.2" cy="28.8" r="0.61"/><circle cx="35.9" cy="3.8" r="0.49"/><circle cx="15.8" cy="35.9" r="0.60"/><circle cx="44.3" cy="31.9" r="0.70"/><circle cx="57.9" cy="28.1" r="0.58"/><circle cx="16.2" cy="33.3" r="0.51"/><circle cx="60.6" cy="47.5" r="0.68"/><circle cx="61.5" cy="27.3" r="0.80"/><circle cx="41.9" cy="28.5" r="0.56"/><circle cx="61.4" cy="20.7" r="0.52"/><circle cx="22.1" cy="0.9" r="0.64"/><circle cx="7.0" cy="7.1" r="0.46"/><circle cx="30.5" cy="19.9" r="0.66"/><circle cx="0.7" cy="50.3" r="0.46"/><circle cx="45.6" cy="44.7" r="0.75"/><circle cx="37.5" cy="34.6" r="0.77"/><circle cx="21.0" cy="17.8" r="0.64"/><circle cx="18.8" cy="4.8" r="0.77"/><circle cx="19.8" cy="39.9" r="0.59"/><circle cx="35.7" cy="48.5" r="0.68"/><circle cx="50.3" cy="42.8" r="0.58"/><circle cx="12.5" cy="17.4" r="0.56"/><circle cx="1.4" cy="16.8" r="0.66"/><circle cx="39.3" cy="9.3" r="0.64"/><circle cx="26.8" cy="30.4" r="0.46"/><circle cx="59.0" cy="12.3" r="0.80"/><circle cx="33.7" cy="2.3" r="0.59"/><circle cx="21.1" cy="45.8" r="0.49"/><circle cx="19.0" cy="42.0" r="0.71"/><circle cx="3.1" cy="42.4" r="0.54"/><circle cx="41.6" cy="4.1" r="0.49"/><circle cx="51.2" cy="35.6" r="0.78"/><circle cx="26.6" cy="44.6" r="0.61"/><circle cx="51.0" cy="28.7" r="0.52"/><circle cx="25.3" cy="48.5" r="0.65"/><circle cx="52.0" cy="35.5" r="0.62"/><circle cx="18.0" cy="9.9" r="0.63"/><circle cx="3.2" cy="13.0" r="0.62"/><circle cx="2.0" cy="24.0" r="0.66"/><circle cx="35.1" cy="11.7" r="0.62"/><circle cx="29.0" cy="44.9" r="0.55"/><circle cx="51.3" cy="20.9" r="0.76"/><circle cx="53.6" cy="28.7" r="0.49"/><circle cx="20.7" cy="47.3" r="0.56"/><circle cx="3.8" cy="4.9" r="0.75"/><circle cx="18.2" cy="29.6" r="0.58"/></g></pattern>
<pattern id="ba1is0" patternUnits="userSpaceOnUse" width="64" height="51"><g fill="#4a3a40"><circle cx="42.9" cy="31.9" r="0.83"/><circle cx="31.2" cy="41.9" r="0.65"/><circle cx="18.1" cy="30.3" r="0.66"/><circle cx="40.7" cy="18.4" r="0.94"/><circle cx="17.4" cy="42.7" r="0.97"/><circle cx="18.0" cy="13.1" r="0.61"/><circle cx="18.1" cy="12.9" r="0.81"/><circle cx="62.7" cy="15.1" r="0.89"/><circle cx="22.7" cy="17.5" r="0.69"/><circle cx="54.0" cy="49.3" r="0.69"/><circle cx="46.0" cy="36.6" r="0.88"/><circle cx="24.9" cy="6.0" r="0.89"/><circle cx="30.3" cy="21.7" r="0.92"/><circle cx="10.3" cy="12.2" r="0.72"/><circle cx="-0.6" cy="24.6" r="0.81"/><circle cx="63.4" cy="24.6" r="0.81"/><circle cx="51.0" cy="16.8" r="0.63"/><circle cx="18.4" cy="4.1" r="0.89"/><circle cx="52.1" cy="20.5" r="0.61"/><circle cx="5.4" cy="6.2" r="0.67"/><circle cx="33.0" cy="0.6" r="0.78"/><circle cx="33.0" cy="51.6" r="0.78"/><circle cx="23.8" cy="7.9" r="0.69"/><circle cx="42.5" cy="35.3" r="0.69"/><circle cx="31.6" cy="44.4" r="0.81"/><circle cx="51.4" cy="47.5" r="0.78"/><circle cx="9.1" cy="0.9" r="0.84"/><circle cx="61.4" cy="31.2" r="0.74"/><circle cx="5.7" cy="39.0" r="0.64"/><circle cx="40.2" cy="38.3" r="0.83"/><circle cx="53.8" cy="4.3" r="0.64"/><circle cx="62.4" cy="26.0" r="0.71"/><circle cx="48.2" cy="43.7" r="0.73"/><circle cx="13.3" cy="11.1" r="0.86"/><circle cx="56.9" cy="13.1" r="0.81"/><circle cx="9.1" cy="13.3" r="0.77"/><circle cx="31.7" cy="3.2" r="0.95"/><circle cx="56.8" cy="38.6" r="0.99"/><circle cx="35.7" cy="13.6" r="0.69"/><circle cx="30.4" cy="16.4" r="0.82"/><circle cx="25.5" cy="23.6" r="0.72"/><circle cx="39.5" cy="20.4" r="0.85"/><circle cx="22.6" cy="40.2" r="0.67"/><circle cx="61.1" cy="17.4" r="0.91"/><circle cx="57.6" cy="3.9" r="0.65"/><circle cx="30.2" cy="36.8" r="0.68"/><circle cx="52.8" cy="15.5" r="0.78"/><circle cx="37.7" cy="7.5" r="0.69"/><circle cx="12.0" cy="9.8" r="0.80"/><circle cx="41.7" cy="40.2" r="0.76"/><circle cx="12.2" cy="25.8" r="0.69"/><circle cx="29.6" cy="27.9" r="0.71"/><circle cx="53.2" cy="32.8" r="0.66"/><circle cx="2.3" cy="1.9" r="0.97"/><circle cx="15.8" cy="2.2" r="0.76"/><circle cx="30.7" cy="36.4" r="0.73"/><circle cx="56.6" cy="48.4" r="0.76"/><circle cx="29.1" cy="0.5" r="0.65"/><circle cx="29.1" cy="51.5" r="0.65"/><circle cx="19.3" cy="40.0" r="0.70"/><circle cx="33.3" cy="0.1" r="0.90"/><circle cx="33.3" cy="51.1" r="0.90"/></g></pattern>
<pattern id="ba1is1" patternUnits="userSpaceOnUse" width="81" height="68"><g fill="#5a4a52"><circle cx="46.6" cy="35.9" r="0.77"/><circle cx="61.9" cy="28.7" r="0.66"/><circle cx="51.6" cy="3.2" r="1.00"/><circle cx="57.1" cy="3.6" r="0.68"/><circle cx="78.4" cy="53.5" r="0.85"/><circle cx="32.9" cy="55.6" r="0.91"/><circle cx="5.8" cy="51.9" r="0.70"/><circle cx="61.9" cy="2.1" r="0.92"/><circle cx="14.5" cy="60.3" r="0.98"/><circle cx="41.4" cy="13.9" r="0.70"/><circle cx="70.9" cy="45.4" r="0.90"/><circle cx="65.7" cy="17.8" r="0.86"/><circle cx="5.1" cy="36.4" r="0.82"/><circle cx="1.9" cy="35.8" r="0.86"/><circle cx="19.9" cy="23.0" r="0.89"/><circle cx="73.7" cy="10.1" r="0.60"/><circle cx="55.1" cy="31.8" r="0.64"/><circle cx="78.2" cy="15.2" r="0.85"/><circle cx="15.8" cy="65.0" r="0.79"/><circle cx="19.4" cy="55.5" r="0.72"/><circle cx="10.7" cy="27.4" r="0.97"/><circle cx="11.9" cy="54.7" r="0.79"/><circle cx="76.3" cy="33.5" r="0.74"/><circle cx="60.3" cy="37.3" r="0.63"/><circle cx="64.6" cy="54.9" r="0.95"/><circle cx="74.1" cy="32.5" r="0.68"/><circle cx="66.5" cy="39.8" r="0.63"/><circle cx="40.0" cy="3.3" r="0.83"/><circle cx="14.8" cy="48.2" r="0.83"/><circle cx="4.5" cy="28.5" r="0.95"/><circle cx="22.5" cy="63.4" r="0.69"/><circle cx="67.0" cy="44.6" r="0.74"/><circle cx="77.0" cy="60.6" r="0.81"/><circle cx="65.4" cy="36.5" r="0.78"/><circle cx="1.5" cy="66.0" r="0.68"/><circle cx="56.2" cy="5.6" r="0.88"/><circle cx="69.3" cy="32.8" r="0.74"/><circle cx="42.8" cy="64.0" r="0.81"/><circle cx="60.4" cy="54.5" r="0.91"/><circle cx="78.0" cy="51.0" r="0.64"/><circle cx="21.5" cy="35.2" r="0.84"/><circle cx="33.8" cy="48.4" r="0.87"/><circle cx="28.9" cy="21.4" r="0.66"/><circle cx="74.9" cy="13.8" r="0.83"/><circle cx="68.0" cy="37.7" r="0.77"/><circle cx="71.1" cy="5.1" r="0.76"/><circle cx="37.7" cy="61.5" r="0.62"/><circle cx="67.1" cy="16.7" r="0.98"/></g></pattern>
<pattern id="aa1s0" patternUnits="userSpaceOnUse" width="42" height="37"><g fill="#605060"><circle cx="24.5" cy="25.2" r="0.60"/><circle cx="20.4" cy="12.8" r="0.70"/><circle cx="11.0" cy="3.6" r="0.50"/><circle cx="23.4" cy="32.1" r="0.61"/><circle cx="1.6" cy="9.2" r="0.48"/><circle cx="13.2" cy="12.2" r="0.72"/><circle cx="20.3" cy="30.3" r="0.69"/><circle cx="5.0" cy="5.0" r="0.73"/><circle cx="0.2" cy="16.3" r="0.69"/><circle cx="42.2" cy="16.3" r="0.69"/><circle cx="10.2" cy="28.1" r="0.71"/><circle cx="35.3" cy="10.9" r="0.53"/><circle cx="14.7" cy="1.1" r="0.46"/><circle cx="9.9" cy="6.9" r="0.67"/><circle cx="14.1" cy="2.0" r="0.54"/><circle cx="5.3" cy="0.8" r="0.63"/><circle cx="10.1" cy="9.9" r="0.51"/><circle cx="25.5" cy="29.3" r="0.73"/><circle cx="38.7" cy="8.7" r="0.64"/><circle cx="12.0" cy="4.7" r="0.60"/><circle cx="39.2" cy="12.8" r="0.60"/><circle cx="32.3" cy="3.1" r="0.45"/><circle cx="36.6" cy="32.5" r="0.64"/><circle cx="33.7" cy="33.0" r="0.67"/><circle cx="40.5" cy="30.6" r="0.74"/><circle cx="34.8" cy="1.4" r="0.59"/><circle cx="3.1" cy="26.9" r="0.46"/><circle cx="30.9" cy="28.4" r="0.46"/><circle cx="3.1" cy="19.1" r="0.74"/><circle cx="41.0" cy="28.5" r="0.69"/><circle cx="13.6" cy="28.8" r="0.62"/><circle cx="19.0" cy="24.9" r="0.46"/><circle cx="13.7" cy="17.7" r="0.51"/><circle cx="29.8" cy="36.2" r="0.53"/><circle cx="11.5" cy="25.2" r="0.63"/><circle cx="16.4" cy="18.1" r="0.54"/><circle cx="30.2" cy="0.7" r="0.69"/><circle cx="30.2" cy="37.7" r="0.69"/><circle cx="9.9" cy="15.4" r="0.58"/><circle cx="24.2" cy="12.0" r="0.51"/><circle cx="37.4" cy="0.3" r="0.74"/><circle cx="37.4" cy="37.3" r="0.74"/><circle cx="11.5" cy="14.0" r="0.62"/><circle cx="12.6" cy="27.3" r="0.52"/><circle cx="30.1" cy="8.6" r="0.59"/><circle cx="23.2" cy="6.9" r="0.74"/><circle cx="38.3" cy="19.3" r="0.74"/><circle cx="6.9" cy="2.7" r="0.68"/><circle cx="15.7" cy="15.9" r="0.49"/><circle cx="25.1" cy="14.6" r="0.63"/><circle cx="13.2" cy="-0.2" r="0.73"/><circle cx="13.2" cy="36.8" r="0.73"/><circle cx="28.9" cy="2.1" r="0.56"/><circle cx="24.6" cy="10.3" r="0.58"/><circle cx="19.3" cy="9.0" r="0.55"/><circle cx="33.6" cy="1.8" r="0.62"/><circle cx="7.7" cy="34.9" r="0.54"/><circle cx="17.6" cy="17.4" r="0.57"/><circle cx="37.5" cy="18.3" r="0.53"/><circle cx="18.8" cy="6.1" r="0.74"/><circle cx="23.2" cy="9.8" r="0.68"/><circle cx="26.4" cy="31.8" r="0.68"/><circle cx="22.7" cy="8.7" r="0.63"/><circle cx="36.9" cy="34.3" r="0.57"/><circle cx="3.7" cy="26.1" r="0.49"/><circle cx="31.7" cy="28.8" r="0.66"/><circle cx="19.0" cy="16.1" r="0.57"/><circle cx="24.6" cy="29.5" r="0.68"/><circle cx="31.5" cy="20.5" r="0.56"/><circle cx="35.1" cy="17.7" r="0.56"/><circle cx="2.1" cy="6.9" r="0.52"/><circle cx="36.5" cy="16.3" r="0.69"/></g></pattern>
<pattern id="aa1s1" patternUnits="userSpaceOnUse" width="64" height="51"><g fill="#6a5a6a"><circle cx="58.0" cy="43.4" r="0.47"/><circle cx="14.5" cy="12.5" r="0.71"/><circle cx="31.7" cy="29.2" r="0.72"/><circle cx="37.5" cy="42.9" r="0.48"/><circle cx="38.9" cy="48.9" r="0.67"/><circle cx="7.3" cy="44.1" r="0.79"/><circle cx="18.6" cy="23.6" r="0.60"/><circle cx="6.0" cy="31.1" r="0.56"/><circle cx="12.5" cy="32.5" r="0.75"/><circle cx="38.3" cy="39.5" r="0.69"/><circle cx="32.7" cy="48.4" r="0.72"/><circle cx="36.7" cy="18.1" r="0.54"/><circle cx="59.6" cy="36.6" r="0.57"/><circle cx="8.5" cy="25.7" r="0.48"/><circle cx="6.7" cy="22.4" r="0.46"/><circle cx="53.2" cy="8.1" r="0.78"/><circle cx="36.6" cy="1.0" r="0.68"/><circle cx="2.4" cy="1.3" r="0.62"/><circle cx="33.0" cy="28.0" r="0.72"/><circle cx="13.7" cy="22.6" r="0.73"/><circle cx="58.9" cy="27.6" r="0.62"/><circle cx="62.0" cy="0.1" r="0.71"/><circle cx="62.0" cy="51.1" r="0.71"/><circle cx="51.9" cy="11.4" r="0.46"/><circle cx="21.2" cy="20.8" r="0.80"/><circle cx="33.6" cy="5.9" r="0.67"/><circle cx="12.7" cy="35.9" r="0.56"/><circle cx="62.8" cy="29.3" r="0.70"/><circle cx="15.3" cy="36.9" r="0.75"/><circle cx="22.5" cy="5.0" r="0.71"/><circle cx="18.9" cy="40.4" r="0.78"/><circle cx="60.9" cy="42.5" r="0.70"/><circle cx="39.0" cy="16.4" r="0.56"/><circle cx="27.1" cy="25.3" r="0.56"/><circle cx="13.0" cy="16.9" r="0.61"/><circle cx="49.9" cy="9.5" r="0.69"/><circle cx="57.5" cy="48.0" r="0.63"/><circle cx="12.4" cy="42.2" r="0.68"/><circle cx="30.9" cy="18.2" r="0.55"/><circle cx="2.8" cy="9.2" r="0.54"/><circle cx="24.0" cy="6.9" r="0.67"/><circle cx="23.8" cy="29.6" r="0.60"/><circle cx="14.5" cy="44.4" r="0.49"/><circle cx="53.2" cy="34.0" r="0.49"/><circle cx="26.1" cy="49.3" r="0.78"/><circle cx="2.8" cy="3.4" r="0.49"/><circle cx="11.7" cy="49.1" r="0.74"/><circle cx="28.9" cy="33.6" r="0.64"/><circle cx="50.0" cy="48.2" r="0.66"/><circle cx="8.5" cy="24.6" r="0.46"/><circle cx="39.5" cy="34.4" r="0.52"/><circle cx="36.1" cy="30.3" r="0.63"/><circle cx="4.8" cy="21.8" r="0.72"/><circle cx="47.3" cy="38.2" r="0.46"/><circle cx="54.3" cy="2.7" r="0.46"/><circle cx="45.8" cy="31.3" r="0.54"/><circle cx="9.9" cy="40.9" r="0.58"/><circle cx="43.3" cy="10.6" r="0.67"/><circle cx="46.9" cy="28.8" r="0.80"/><circle cx="21.0" cy="3.5" r="0.69"/><circle cx="12.5" cy="12.3" r="0.62"/><circle cx="27.0" cy="20.2" r="0.52"/><circle cx="8.6" cy="48.7" r="0.78"/><circle cx="42.4" cy="16.7" r="0.77"/><circle cx="39.9" cy="18.2" r="0.72"/><circle cx="57.6" cy="38.6" r="0.78"/><circle cx="9.3" cy="16.4" r="0.69"/><circle cx="25.7" cy="15.0" r="0.56"/><circle cx="19.1" cy="36.0" r="0.72"/><circle cx="26.5" cy="28.7" r="0.63"/><circle cx="53.6" cy="36.1" r="0.74"/><circle cx="30.2" cy="19.6" r="0.53"/><circle cx="3.4" cy="22.7" r="0.64"/><circle cx="50.0" cy="34.7" r="0.59"/><circle cx="33.7" cy="20.2" r="0.63"/><circle cx="43.5" cy="9.0" r="0.69"/><circle cx="17.8" cy="47.8" r="0.47"/><circle cx="23.6" cy="42.3" r="0.67"/></g></pattern>
<pattern id="aa1is0" patternUnits="userSpaceOnUse" width="64" height="51"><g fill="#4a3a4c"><circle cx="4.6" cy="12.8" r="0.66"/><circle cx="3.5" cy="41.0" r="0.83"/><circle cx="25.6" cy="3.1" r="0.92"/><circle cx="12.0" cy="7.0" r="0.75"/><circle cx="10.1" cy="20.7" r="0.79"/><circle cx="62.4" cy="21.0" r="0.86"/><circle cx="9.4" cy="14.5" r="0.74"/><circle cx="62.0" cy="9.8" r="0.68"/><circle cx="23.2" cy="26.5" r="0.83"/><circle cx="10.4" cy="34.4" r="0.74"/><circle cx="38.3" cy="21.5" r="0.72"/><circle cx="10.5" cy="5.5" r="0.89"/><circle cx="18.0" cy="32.2" r="0.70"/><circle cx="53.7" cy="38.5" r="0.62"/><circle cx="50.8" cy="23.1" r="0.98"/><circle cx="47.5" cy="10.3" r="0.96"/><circle cx="55.9" cy="40.4" r="0.69"/><circle cx="5.3" cy="35.2" r="0.83"/><circle cx="15.8" cy="25.0" r="0.96"/><circle cx="34.8" cy="43.9" r="0.85"/><circle cx="12.3" cy="18.0" r="0.88"/><circle cx="55.7" cy="49.2" r="0.61"/><circle cx="49.0" cy="21.8" r="0.85"/><circle cx="1.4" cy="39.3" r="0.80"/><circle cx="54.2" cy="3.4" r="0.82"/><circle cx="19.3" cy="11.4" r="0.92"/><circle cx="12.1" cy="31.5" r="0.61"/><circle cx="22.8" cy="46.2" r="0.78"/><circle cx="53.6" cy="47.2" r="1.00"/><circle cx="1.3" cy="38.4" r="0.93"/><circle cx="7.8" cy="15.1" r="0.84"/><circle cx="56.1" cy="6.9" r="0.72"/><circle cx="51.6" cy="19.4" r="0.74"/><circle cx="21.3" cy="10.3" r="0.99"/><circle cx="29.6" cy="41.2" r="0.94"/><circle cx="41.4" cy="16.5" r="0.91"/><circle cx="41.9" cy="34.4" r="0.70"/><circle cx="62.5" cy="15.0" r="0.78"/><circle cx="53.2" cy="9.0" r="0.62"/><circle cx="35.1" cy="20.7" r="0.87"/><circle cx="20.9" cy="3.0" r="0.80"/><circle cx="4.1" cy="44.2" r="0.83"/><circle cx="11.1" cy="8.9" r="0.89"/><circle cx="23.1" cy="38.8" r="0.74"/><circle cx="14.9" cy="23.7" r="0.69"/><circle cx="41.8" cy="43.7" r="0.84"/><circle cx="23.6" cy="36.3" r="0.95"/><circle cx="42.1" cy="10.6" r="0.73"/><circle cx="13.2" cy="3.6" r="0.72"/><circle cx="29.8" cy="14.6" r="0.83"/><circle cx="19.6" cy="31.4" r="0.99"/><circle cx="28.8" cy="24.9" r="0.86"/><circle cx="55.1" cy="48.7" r="0.65"/><circle cx="40.1" cy="47.7" r="0.82"/><circle cx="19.4" cy="19.5" r="0.89"/><circle cx="23.9" cy="29.7" r="0.92"/><circle cx="38.9" cy="45.0" r="0.94"/><circle cx="18.4" cy="40.7" r="0.67"/></g></pattern>
<pattern id="aa1is1" patternUnits="userSpaceOnUse" width="81" height="68"><g fill="#5a4a5c"><circle cx="66.7" cy="60.9" r="0.68"/><circle cx="24.6" cy="32.5" r="0.67"/><circle cx="7.4" cy="50.6" r="0.73"/><circle cx="60.0" cy="63.3" r="0.78"/><circle cx="60.8" cy="3.5" r="0.93"/><circle cx="11.3" cy="56.5" r="0.80"/><circle cx="76.8" cy="46.2" r="0.79"/><circle cx="10.4" cy="3.8" r="0.92"/><circle cx="46.0" cy="14.0" r="0.71"/><circle cx="50.5" cy="33.6" r="0.82"/><circle cx="44.7" cy="58.1" r="0.61"/><circle cx="70.0" cy="43.8" r="0.99"/><circle cx="13.8" cy="2.3" r="0.72"/><circle cx="16.1" cy="37.9" r="0.72"/><circle cx="1.4" cy="18.4" r="0.98"/><circle cx="76.6" cy="45.4" r="0.72"/><circle cx="10.7" cy="56.4" r="0.65"/><circle cx="21.8" cy="39.1" r="0.67"/><circle cx="36.7" cy="4.5" r="0.74"/><circle cx="63.3" cy="58.3" r="0.93"/><circle cx="53.6" cy="66.6" r="0.64"/><circle cx="14.5" cy="18.5" r="0.93"/><circle cx="66.7" cy="39.2" r="0.75"/><circle cx="29.7" cy="62.8" r="0.84"/><circle cx="16.5" cy="1.2" r="0.63"/><circle cx="3.9" cy="27.0" r="0.72"/><circle cx="53.9" cy="1.7" r="0.74"/><circle cx="14.7" cy="62.3" r="0.92"/><circle cx="46.6" cy="-0.4" r="0.72"/><circle cx="46.6" cy="67.6" r="0.72"/><circle cx="67.7" cy="17.0" r="0.99"/><circle cx="38.7" cy="61.0" r="0.85"/><circle cx="12.1" cy="53.8" r="0.71"/><circle cx="33.7" cy="43.7" r="0.97"/><circle cx="15.9" cy="24.1" r="0.67"/><circle cx="77.7" cy="45.3" r="0.61"/><circle cx="22.2" cy="60.3" r="0.61"/><circle cx="44.9" cy="31.8" r="0.69"/><circle cx="70.2" cy="11.0" r="0.65"/><circle cx="14.7" cy="44.0" r="0.71"/><circle cx="23.6" cy="60.4" r="0.88"/><circle cx="66.9" cy="10.9" r="0.64"/><circle cx="6.0" cy="30.7" r="0.73"/><circle cx="39.4" cy="31.2" r="0.88"/><circle cx="30.4" cy="17.4" r="0.63"/><circle cx="66.7" cy="61.0" r="0.73"/><circle cx="7.4" cy="29.0" r="0.77"/><circle cx="51.4" cy="7.9" r="0.68"/><circle cx="17.6" cy="37.9" r="0.68"/></g></pattern>
<pattern id="pf2s0" patternUnits="userSpaceOnUse" width="64" height="51"><g fill="#7e7490"><circle cx="31.2" cy="45.3" r="1.20"/><circle cx="22.9" cy="11.4" r="1.13"/><circle cx="58.8" cy="6.9" r="1.45"/><circle cx="24.1" cy="47.3" r="1.07"/><circle cx="8.6" cy="22.3" r="1.03"/><circle cx="25.2" cy="38.6" r="1.00"/><circle cx="36.8" cy="33.8" r="1.08"/><circle cx="50.5" cy="2.6" r="1.68"/><circle cx="9.3" cy="45.4" r="1.72"/><circle cx="16.1" cy="2.1" r="1.06"/><circle cx="9.8" cy="38.4" r="1.21"/><circle cx="8.1" cy="42.1" r="1.50"/><circle cx="6.4" cy="3.2" r="1.20"/><circle cx="51.7" cy="45.7" r="1.55"/><circle cx="30.3" cy="8.8" r="1.27"/><circle cx="41.1" cy="44.8" r="1.62"/><circle cx="21.7" cy="2.1" r="1.05"/><circle cx="25.5" cy="1.0" r="1.76"/><circle cx="25.5" cy="52.0" r="1.76"/><circle cx="33.0" cy="44.3" r="1.53"/><circle cx="6.7" cy="15.4" r="1.57"/><circle cx="29.8" cy="32.4" r="1.48"/><circle cx="56.7" cy="26.0" r="1.63"/><circle cx="58.9" cy="31.6" r="1.01"/><circle cx="17.8" cy="22.8" r="1.77"/><circle cx="29.1" cy="11.1" r="1.24"/><circle cx="11.7" cy="37.6" r="1.45"/><circle cx="36.7" cy="6.7" r="1.50"/><circle cx="-1.4" cy="9.5" r="1.40"/><circle cx="62.6" cy="9.5" r="1.40"/><circle cx="53.1" cy="11.4" r="1.76"/><circle cx="38.9" cy="33.3" r="1.15"/><circle cx="62.6" cy="-0.4" r="1.34"/><circle cx="62.6" cy="50.6" r="1.34"/><circle cx="49.1" cy="28.7" r="1.63"/><circle cx="15.0" cy="31.5" r="1.76"/><circle cx="39.5" cy="33.5" r="1.12"/><circle cx="13.4" cy="19.5" r="1.65"/><circle cx="8.6" cy="48.0" r="1.76"/><circle cx="49.3" cy="34.3" r="1.44"/><circle cx="44.4" cy="22.5" r="1.06"/><circle cx="46.3" cy="1.9" r="1.14"/><circle cx="25.3" cy="6.5" r="1.31"/><circle cx="8.5" cy="42.6" r="1.12"/><circle cx="58.9" cy="19.5" r="1.01"/><circle cx="16.4" cy="6.2" r="1.10"/><circle cx="47.0" cy="24.8" r="1.73"/><circle cx="43.6" cy="43.6" r="1.60"/><circle cx="55.3" cy="12.4" r="1.41"/><circle cx="13.7" cy="43.9" r="1.11"/><circle cx="45.5" cy="11.3" r="1.50"/><circle cx="20.1" cy="37.5" r="1.55"/><circle cx="49.5" cy="47.2" r="1.17"/><circle cx="44.1" cy="36.2" r="1.51"/><circle cx="38.0" cy="34.3" r="1.46"/><circle cx="44.0" cy="11.0" r="1.38"/></g></pattern>
<pattern id="pf2s1" patternUnits="userSpaceOnUse" width="81" height="68"><g fill="#8a8098"><circle cx="49.5" cy="15.3" r="0.91"/><circle cx="28.3" cy="15.7" r="1.47"/><circle cx="7.3" cy="15.2" r="0.97"/><circle cx="8.9" cy="47.1" r="1.51"/><circle cx="31.7" cy="25.9" r="1.11"/><circle cx="55.6" cy="6.9" r="1.23"/><circle cx="13.7" cy="58.3" r="1.35"/><circle cx="58.9" cy="22.5" r="1.14"/><circle cx="75.5" cy="38.9" r="1.32"/><circle cx="19.7" cy="59.7" r="1.51"/><circle cx="71.1" cy="59.5" r="1.14"/><circle cx="70.5" cy="37.4" r="1.26"/><circle cx="2.4" cy="9.5" r="1.40"/><circle cx="78.9" cy="52.0" r="1.43"/><circle cx="58.1" cy="9.5" r="1.34"/><circle cx="30.0" cy="63.2" r="1.39"/><circle cx="38.5" cy="36.2" r="1.01"/><circle cx="22.3" cy="43.7" r="1.10"/><circle cx="34.8" cy="3.1" r="1.13"/><circle cx="74.9" cy="51.0" r="1.36"/><circle cx="55.9" cy="47.6" r="1.40"/><circle cx="16.3" cy="27.6" r="1.14"/><circle cx="30.8" cy="50.9" r="0.99"/><circle cx="19.3" cy="60.5" r="1.24"/><circle cx="25.3" cy="37.7" r="1.17"/><circle cx="6.2" cy="53.3" r="1.59"/><circle cx="66.0" cy="40.9" r="1.11"/><circle cx="16.5" cy="37.8" r="1.42"/><circle cx="71.9" cy="0.7" r="1.36"/><circle cx="71.9" cy="68.7" r="1.36"/><circle cx="75.7" cy="57.4" r="0.95"/><circle cx="12.4" cy="64.3" r="1.29"/><circle cx="27.8" cy="22.1" r="1.19"/><circle cx="9.7" cy="65.2" r="1.27"/><circle cx="73.4" cy="19.2" r="1.44"/><circle cx="24.7" cy="42.7" r="1.07"/><circle cx="32.9" cy="16.4" r="1.42"/><circle cx="38.4" cy="56.7" r="1.12"/><circle cx="41.7" cy="-0.9" r="1.12"/><circle cx="41.7" cy="67.1" r="1.12"/><circle cx="71.8" cy="9.1" r="1.04"/><circle cx="0.5" cy="59.8" r="1.12"/><circle cx="81.5" cy="59.8" r="1.12"/><circle cx="73.9" cy="40.8" r="1.44"/><circle cx="17.5" cy="65.0" r="1.27"/><circle cx="61.7" cy="59.2" r="1.05"/><circle cx="49.2" cy="41.6" r="1.47"/><circle cx="39.4" cy="57.9" r="1.58"/><circle cx="26.9" cy="30.5" r="1.38"/><circle cx="54.9" cy="-1.1" r="1.22"/><circle cx="54.9" cy="66.9" r="1.22"/><circle cx="24.5" cy="3.0" r="1.12"/><circle cx="58.8" cy="46.7" r="1.17"/><circle cx="76.9" cy="20.4" r="1.30"/><circle cx="4.4" cy="14.1" r="1.39"/><circle cx="2.2" cy="27.9" r="0.96"/><circle cx="15.7" cy="0.8" r="1.21"/><circle cx="15.7" cy="68.8" r="1.21"/></g></pattern>
<pattern id="pf2is0" patternUnits="userSpaceOnUse" width="68" height="64"><g fill="#7e7490"><circle cx="36.8" cy="29.3" r="1.98"/><circle cx="33.5" cy="57.4" r="1.68"/><circle cx="24.0" cy="23.3" r="1.54"/><circle cx="12.1" cy="3.7" r="1.47"/><circle cx="10.1" cy="61.6" r="2.13"/><circle cx="53.5" cy="4.7" r="1.94"/><circle cx="41.5" cy="18.3" r="1.56"/><circle cx="35.8" cy="42.1" r="1.54"/><circle cx="4.4" cy="40.0" r="1.88"/><circle cx="21.8" cy="60.7" r="1.65"/><circle cx="39.3" cy="1.4" r="2.29"/><circle cx="39.3" cy="65.4" r="2.29"/><circle cx="34.9" cy="52.0" r="2.23"/><circle cx="49.4" cy="4.7" r="1.56"/><circle cx="8.2" cy="14.8" r="2.39"/><circle cx="55.0" cy="-0.4" r="1.79"/><circle cx="55.0" cy="63.6" r="1.79"/><circle cx="46.8" cy="35.1" r="2.40"/><circle cx="52.0" cy="22.7" r="2.11"/><circle cx="56.8" cy="47.3" r="2.08"/><circle cx="46.3" cy="47.7" r="1.93"/><circle cx="56.8" cy="31.4" r="1.64"/><circle cx="14.9" cy="9.6" r="1.61"/><circle cx="17.6" cy="28.4" r="1.44"/><circle cx="26.5" cy="20.8" r="2.15"/><circle cx="61.6" cy="61.8" r="2.11"/><circle cx="42.4" cy="3.7" r="1.76"/><circle cx="43.6" cy="11.4" r="1.42"/><circle cx="10.7" cy="28.5" r="1.60"/><circle cx="34.0" cy="53.9" r="1.85"/><circle cx="-0.5" cy="11.4" r="2.09"/><circle cx="67.5" cy="11.4" r="2.09"/><circle cx="32.7" cy="49.3" r="1.90"/><circle cx="44.1" cy="6.0" r="2.22"/><circle cx="59.0" cy="38.4" r="1.55"/><circle cx="20.5" cy="55.7" r="1.42"/><circle cx="61.3" cy="44.0" r="1.44"/><circle cx="65.8" cy="54.9" r="2.16"/><circle cx="9.5" cy="2.3" r="2.30"/><circle cx="9.5" cy="66.3" r="2.30"/><circle cx="42.1" cy="22.8" r="1.82"/><circle cx="43.4" cy="52.1" r="1.43"/><circle cx="48.5" cy="-0.3" r="2.12"/><circle cx="48.5" cy="63.7" r="2.12"/><circle cx="46.9" cy="22.7" r="2.36"/><circle cx="52.3" cy="19.5" r="1.70"/><circle cx="20.5" cy="17.5" r="2.33"/><circle cx="14.6" cy="14.4" r="1.74"/><circle cx="47.4" cy="0.6" r="2.39"/><circle cx="47.4" cy="64.6" r="2.39"/></g></pattern>
<pattern id="pf2is1" patternUnits="userSpaceOnUse" width="90" height="81"><g fill="#8a8298"><circle cx="8.6" cy="24.4" r="2.05"/><circle cx="41.7" cy="49.0" r="1.31"/><circle cx="37.3" cy="0.3" r="1.98"/><circle cx="37.3" cy="81.3" r="1.98"/><circle cx="17.0" cy="68.5" r="1.48"/><circle cx="9.9" cy="36.5" r="2.05"/><circle cx="63.8" cy="68.4" r="1.30"/><circle cx="7.9" cy="29.7" r="1.90"/><circle cx="25.4" cy="2.6" r="1.50"/><circle cx="80.5" cy="44.4" r="1.88"/><circle cx="-0.1" cy="35.9" r="1.31"/><circle cx="89.9" cy="35.9" r="1.31"/><circle cx="81.2" cy="22.3" r="1.38"/><circle cx="81.7" cy="3.3" r="1.81"/><circle cx="20.6" cy="4.6" r="1.97"/><circle cx="13.0" cy="31.1" r="1.25"/><circle cx="12.4" cy="56.1" r="1.85"/><circle cx="30.9" cy="65.3" r="1.75"/><circle cx="9.0" cy="31.7" r="1.49"/><circle cx="36.1" cy="68.2" r="1.70"/><circle cx="30.6" cy="20.7" r="1.49"/><circle cx="18.2" cy="3.5" r="1.79"/><circle cx="24.9" cy="17.9" r="1.91"/><circle cx="47.2" cy="57.5" r="1.78"/><circle cx="82.8" cy="27.4" r="2.04"/><circle cx="60.1" cy="10.0" r="1.77"/><circle cx="62.0" cy="78.6" r="1.75"/><circle cx="16.5" cy="8.8" r="1.77"/><circle cx="14.7" cy="38.8" r="2.02"/><circle cx="38.6" cy="5.8" r="1.62"/><circle cx="74.0" cy="42.4" r="1.88"/><circle cx="36.3" cy="39.6" r="1.75"/><circle cx="59.0" cy="72.4" r="1.54"/><circle cx="43.8" cy="18.6" r="1.73"/><circle cx="35.0" cy="38.7" r="1.68"/><circle cx="13.5" cy="1.1" r="1.44"/><circle cx="13.5" cy="82.1" r="1.44"/><circle cx="81.6" cy="12.2" r="1.63"/><circle cx="57.6" cy="5.4" r="1.34"/><circle cx="54.1" cy="34.0" r="1.64"/><circle cx="82.0" cy="42.3" r="1.97"/><circle cx="30.3" cy="31.8" r="1.76"/><circle cx="-0.1" cy="35.7" r="2.01"/><circle cx="89.9" cy="35.7" r="2.01"/><circle cx="22.9" cy="53.8" r="1.49"/><circle cx="55.0" cy="2.8" r="1.62"/><circle cx="67.9" cy="0.3" r="1.47"/><circle cx="67.9" cy="81.3" r="1.47"/><circle cx="79.8" cy="59.7" r="1.40"/></g></pattern>
<pattern id="et2s0" patternUnits="userSpaceOnUse" width="42" height="37"><g fill="#505050"><circle cx="33.1" cy="33.7" r="0.63"/><circle cx="13.2" cy="9.0" r="0.53"/><circle cx="5.1" cy="29.5" r="0.45"/><circle cx="38.1" cy="11.3" r="0.60"/><circle cx="21.7" cy="21.3" r="0.45"/><circle cx="34.5" cy="17.0" r="0.50"/><circle cx="19.5" cy="6.6" r="0.50"/><circle cx="0.1" cy="16.4" r="0.45"/><circle cx="42.1" cy="16.4" r="0.45"/><circle cx="19.3" cy="20.2" r="0.62"/><circle cx="14.9" cy="1.4" r="0.61"/><circle cx="0.6" cy="14.6" r="0.47"/><circle cx="14.4" cy="36.1" r="0.47"/><circle cx="29.5" cy="6.8" r="0.54"/><circle cx="22.8" cy="5.3" r="0.55"/><circle cx="16.7" cy="6.1" r="0.72"/><circle cx="12.2" cy="18.7" r="0.63"/><circle cx="33.0" cy="20.8" r="0.45"/><circle cx="39.2" cy="34.3" r="0.66"/><circle cx="2.7" cy="25.9" r="0.49"/><circle cx="40.5" cy="2.6" r="0.53"/><circle cx="22.1" cy="4.9" r="0.63"/><circle cx="1.3" cy="12.4" r="0.65"/><circle cx="4.4" cy="8.1" r="0.64"/><circle cx="40.4" cy="2.9" r="0.61"/><circle cx="34.7" cy="2.0" r="0.55"/><circle cx="38.2" cy="9.8" r="0.66"/><circle cx="25.8" cy="5.2" r="0.49"/><circle cx="4.4" cy="31.9" r="0.66"/><circle cx="12.3" cy="2.2" r="0.68"/><circle cx="22.3" cy="15.8" r="0.51"/><circle cx="0.0" cy="18.8" r="0.72"/><circle cx="42.0" cy="18.8" r="0.72"/><circle cx="0.6" cy="9.3" r="0.66"/><circle cx="42.6" cy="9.3" r="0.66"/><circle cx="22.5" cy="12.4" r="0.61"/><circle cx="10.3" cy="5.3" r="0.52"/><circle cx="34.3" cy="1.8" r="0.46"/><circle cx="35.2" cy="8.4" r="0.62"/><circle cx="7.1" cy="4.1" r="0.62"/><circle cx="3.3" cy="17.1" r="0.46"/><circle cx="3.0" cy="6.3" r="0.56"/><circle cx="27.6" cy="16.2" r="0.57"/><circle cx="40.6" cy="24.4" r="0.61"/><circle cx="28.5" cy="14.0" r="0.74"/><circle cx="30.8" cy="12.6" r="0.57"/><circle cx="0.2" cy="26.8" r="0.71"/><circle cx="42.2" cy="26.8" r="0.71"/><circle cx="15.4" cy="0.3" r="0.59"/><circle cx="15.4" cy="37.3" r="0.59"/><circle cx="33.7" cy="18.2" r="0.71"/><circle cx="26.1" cy="5.7" r="0.63"/><circle cx="29.8" cy="4.9" r="0.72"/><circle cx="9.7" cy="20.7" r="0.55"/><circle cx="26.0" cy="34.1" r="0.51"/><circle cx="28.7" cy="32.8" r="0.72"/><circle cx="13.8" cy="10.8" r="0.57"/><circle cx="21.6" cy="5.9" r="0.73"/><circle cx="31.7" cy="33.4" r="0.61"/><circle cx="27.2" cy="19.9" r="0.70"/><circle cx="23.9" cy="10.5" r="0.53"/><circle cx="31.6" cy="16.1" r="0.54"/><circle cx="26.5" cy="19.2" r="0.54"/><circle cx="28.6" cy="10.3" r="0.73"/><circle cx="18.7" cy="3.5" r="0.51"/><circle cx="25.1" cy="13.3" r="0.73"/><circle cx="7.4" cy="3.4" r="0.58"/><circle cx="12.9" cy="3.8" r="0.71"/><circle cx="17.8" cy="24.5" r="0.57"/><circle cx="38.7" cy="21.6" r="0.74"/><circle cx="5.7" cy="4.5" r="0.47"/><circle cx="27.7" cy="1.7" r="0.75"/><circle cx="36.9" cy="21.2" r="0.53"/></g></pattern>
<pattern id="et2s1" patternUnits="userSpaceOnUse" width="64" height="51"><g fill="#5e5e5e"><circle cx="50.0" cy="28.7" r="0.79"/><circle cx="7.6" cy="30.1" r="0.77"/><circle cx="59.1" cy="8.9" r="0.80"/><circle cx="20.6" cy="8.9" r="0.50"/><circle cx="58.8" cy="44.1" r="0.79"/><circle cx="53.4" cy="39.0" r="0.67"/><circle cx="12.4" cy="5.4" r="0.47"/><circle cx="35.8" cy="47.0" r="0.56"/><circle cx="37.1" cy="43.3" r="0.72"/><circle cx="45.5" cy="24.3" r="0.68"/><circle cx="33.3" cy="46.6" r="0.60"/><circle cx="36.2" cy="21.6" r="0.50"/><circle cx="14.3" cy="25.1" r="0.58"/><circle cx="4.0" cy="26.3" r="0.80"/><circle cx="51.6" cy="15.3" r="0.64"/><circle cx="26.7" cy="26.2" r="0.59"/><circle cx="43.4" cy="48.9" r="0.61"/><circle cx="8.6" cy="40.3" r="0.67"/><circle cx="30.8" cy="16.4" r="0.54"/><circle cx="30.4" cy="42.9" r="0.63"/><circle cx="44.7" cy="0.4" r="0.61"/><circle cx="44.7" cy="51.4" r="0.61"/><circle cx="43.4" cy="2.5" r="0.47"/><circle cx="50.4" cy="33.0" r="0.64"/><circle cx="14.8" cy="39.5" r="0.75"/><circle cx="31.1" cy="30.8" r="0.61"/><circle cx="11.7" cy="42.5" r="0.62"/><circle cx="22.1" cy="22.6" r="0.67"/><circle cx="0.2" cy="6.4" r="0.77"/><circle cx="64.2" cy="6.4" r="0.77"/><circle cx="45.2" cy="17.6" r="0.48"/><circle cx="54.0" cy="24.3" r="0.51"/><circle cx="53.3" cy="7.5" r="0.63"/><circle cx="27.0" cy="1.0" r="0.63"/><circle cx="61.1" cy="1.3" r="0.63"/><circle cx="36.8" cy="12.2" r="0.78"/><circle cx="29.1" cy="7.1" r="0.59"/><circle cx="7.1" cy="21.1" r="0.45"/><circle cx="18.5" cy="22.5" r="0.69"/><circle cx="14.8" cy="20.3" r="0.59"/><circle cx="62.7" cy="50.3" r="0.48"/><circle cx="40.2" cy="6.0" r="0.69"/><circle cx="37.0" cy="0.0" r="0.54"/><circle cx="37.0" cy="51.0" r="0.54"/><circle cx="59.8" cy="10.9" r="0.68"/><circle cx="54.1" cy="39.4" r="0.46"/><circle cx="11.1" cy="19.2" r="0.61"/><circle cx="1.6" cy="42.2" r="0.58"/><circle cx="8.8" cy="7.6" r="0.73"/><circle cx="62.4" cy="44.7" r="0.62"/><circle cx="22.5" cy="1.4" r="0.79"/><circle cx="31.5" cy="5.8" r="0.46"/><circle cx="18.5" cy="42.7" r="0.46"/><circle cx="-0.4" cy="26.6" r="0.75"/><circle cx="63.6" cy="26.6" r="0.75"/><circle cx="36.3" cy="40.2" r="0.52"/><circle cx="48.6" cy="50.2" r="0.62"/><circle cx="55.3" cy="3.1" r="0.74"/><circle cx="24.0" cy="3.9" r="0.53"/><circle cx="31.7" cy="17.7" r="0.68"/><circle cx="21.5" cy="19.6" r="0.67"/><circle cx="29.0" cy="6.1" r="0.75"/><circle cx="19.8" cy="14.1" r="0.64"/><circle cx="50.1" cy="6.1" r="0.74"/><circle cx="5.1" cy="42.1" r="0.58"/><circle cx="14.9" cy="20.4" r="0.58"/><circle cx="41.9" cy="25.5" r="0.60"/><circle cx="61.9" cy="9.1" r="0.57"/><circle cx="1.9" cy="12.4" r="0.76"/><circle cx="55.9" cy="29.6" r="0.78"/><circle cx="21.9" cy="42.9" r="0.71"/><circle cx="34.9" cy="19.1" r="0.65"/><circle cx="62.3" cy="25.4" r="0.67"/><circle cx="0.7" cy="45.7" r="0.53"/><circle cx="29.6" cy="36.4" r="0.51"/><circle cx="21.3" cy="42.1" r="0.55"/><circle cx="45.0" cy="9.5" r="0.49"/><circle cx="34.7" cy="8.5" r="0.63"/><circle cx="25.7" cy="16.0" r="0.79"/><circle cx="11.1" cy="32.3" r="0.70"/><circle cx="7.5" cy="16.5" r="0.75"/></g></pattern>
<pattern id="et2is0" patternUnits="userSpaceOnUse" width="64" height="51"><g fill="#423e3e"><circle cx="61.9" cy="25.4" r="0.89"/><circle cx="45.4" cy="41.2" r="0.62"/><circle cx="53.1" cy="42.8" r="0.90"/><circle cx="52.3" cy="41.7" r="0.97"/><circle cx="17.5" cy="4.6" r="0.66"/><circle cx="52.2" cy="35.5" r="0.78"/><circle cx="26.2" cy="18.8" r="1.09"/><circle cx="29.3" cy="41.5" r="0.80"/><circle cx="46.3" cy="3.8" r="1.03"/><circle cx="36.2" cy="11.7" r="0.96"/><circle cx="10.2" cy="22.0" r="0.64"/><circle cx="43.2" cy="46.7" r="0.78"/><circle cx="49.8" cy="17.8" r="0.77"/><circle cx="22.4" cy="35.8" r="0.61"/><circle cx="35.1" cy="23.7" r="0.90"/><circle cx="13.9" cy="16.8" r="0.94"/><circle cx="3.4" cy="7.3" r="0.90"/><circle cx="37.0" cy="25.4" r="1.08"/><circle cx="39.7" cy="42.9" r="0.76"/><circle cx="19.2" cy="16.8" r="0.99"/><circle cx="40.5" cy="14.6" r="0.61"/><circle cx="21.0" cy="43.3" r="0.90"/><circle cx="44.1" cy="48.4" r="0.97"/><circle cx="40.8" cy="13.4" r="0.62"/><circle cx="42.0" cy="48.2" r="0.73"/><circle cx="12.9" cy="39.7" r="1.07"/><circle cx="47.0" cy="39.6" r="1.09"/><circle cx="21.0" cy="38.3" r="0.83"/><circle cx="1.3" cy="40.5" r="0.78"/><circle cx="9.2" cy="31.0" r="0.88"/><circle cx="11.4" cy="28.1" r="0.72"/><circle cx="44.6" cy="3.1" r="0.74"/><circle cx="46.2" cy="9.7" r="1.04"/><circle cx="2.9" cy="48.5" r="0.94"/><circle cx="16.8" cy="48.2" r="0.98"/><circle cx="54.8" cy="40.9" r="0.62"/><circle cx="20.1" cy="49.3" r="0.61"/><circle cx="38.1" cy="8.4" r="1.01"/><circle cx="13.6" cy="22.4" r="0.65"/><circle cx="39.1" cy="18.3" r="0.65"/><circle cx="2.3" cy="3.8" r="0.99"/><circle cx="55.9" cy="25.7" r="1.07"/><circle cx="8.3" cy="20.2" r="0.80"/><circle cx="31.2" cy="43.5" r="0.63"/><circle cx="6.2" cy="2.8" r="0.82"/><circle cx="23.0" cy="27.3" r="0.88"/><circle cx="24.7" cy="29.3" r="0.78"/><circle cx="51.9" cy="32.9" r="1.04"/><circle cx="37.2" cy="48.8" r="0.95"/><circle cx="22.6" cy="37.3" r="0.87"/><circle cx="14.4" cy="15.7" r="0.72"/><circle cx="45.9" cy="3.6" r="0.81"/><circle cx="49.0" cy="20.3" r="1.00"/><circle cx="13.5" cy="4.7" r="0.80"/><circle cx="40.0" cy="15.8" r="0.74"/><circle cx="60.5" cy="33.7" r="0.68"/><circle cx="51.7" cy="41.2" r="1.02"/><circle cx="39.9" cy="0.7" r="0.91"/><circle cx="39.9" cy="51.7" r="0.91"/></g></pattern>
<pattern id="et2is1" patternUnits="userSpaceOnUse" width="81" height="68"><g fill="#585252"><circle cx="76.8" cy="65.0" r="1.06"/><circle cx="52.2" cy="51.3" r="0.83"/><circle cx="59.1" cy="67.0" r="0.77"/><circle cx="76.7" cy="57.6" r="0.80"/><circle cx="18.0" cy="66.2" r="0.89"/><circle cx="74.6" cy="11.4" r="0.90"/><circle cx="31.0" cy="7.7" r="0.96"/><circle cx="60.3" cy="8.0" r="0.81"/><circle cx="52.4" cy="1.1" r="0.97"/><circle cx="44.7" cy="35.2" r="0.80"/><circle cx="47.5" cy="64.6" r="0.84"/><circle cx="8.8" cy="59.5" r="0.79"/><circle cx="8.4" cy="53.0" r="0.97"/><circle cx="69.4" cy="59.1" r="0.85"/><circle cx="42.2" cy="9.1" r="0.98"/><circle cx="49.1" cy="58.8" r="1.08"/><circle cx="43.2" cy="3.0" r="1.08"/><circle cx="30.5" cy="37.9" r="0.97"/><circle cx="54.1" cy="16.0" r="0.81"/><circle cx="-0.1" cy="63.1" r="0.94"/><circle cx="80.9" cy="63.1" r="0.94"/><circle cx="47.4" cy="19.2" r="0.90"/><circle cx="30.8" cy="39.5" r="1.01"/><circle cx="61.0" cy="28.4" r="0.74"/><circle cx="61.4" cy="-0.5" r="1.07"/><circle cx="61.4" cy="67.5" r="1.07"/><circle cx="45.3" cy="62.1" r="0.91"/><circle cx="0.2" cy="42.2" r="0.99"/><circle cx="81.2" cy="42.2" r="0.99"/><circle cx="26.2" cy="48.6" r="0.84"/><circle cx="6.5" cy="56.4" r="0.97"/><circle cx="3.9" cy="16.7" r="0.86"/><circle cx="52.9" cy="21.8" r="1.07"/><circle cx="30.4" cy="16.7" r="0.94"/><circle cx="4.1" cy="-0.6" r="0.96"/><circle cx="4.1" cy="67.4" r="0.96"/><circle cx="0.3" cy="46.2" r="1.03"/><circle cx="81.3" cy="46.2" r="1.03"/><circle cx="22.2" cy="16.8" r="0.89"/><circle cx="17.2" cy="54.3" r="1.09"/><circle cx="71.8" cy="36.5" r="0.86"/><circle cx="46.2" cy="53.2" r="0.78"/><circle cx="67.7" cy="11.3" r="1.07"/><circle cx="5.3" cy="-0.9" r="0.97"/><circle cx="5.3" cy="67.1" r="0.97"/><circle cx="38.0" cy="12.0" r="0.80"/><circle cx="18.6" cy="36.1" r="0.85"/><circle cx="15.9" cy="40.8" r="0.84"/><circle cx="48.3" cy="10.8" r="1.06"/><circle cx="69.0" cy="28.7" r="0.94"/><circle cx="51.5" cy="24.0" r="0.94"/><circle cx="71.3" cy="54.7" r="0.74"/><circle cx="43.4" cy="6.1" r="0.74"/><circle cx="44.2" cy="61.4" r="0.93"/></g></pattern>
<pattern id="ba2s0" patternUnits="userSpaceOnUse" width="42" height="37"><g fill="#605545"><circle cx="11.6" cy="8.9" r="0.73"/><circle cx="29.4" cy="12.3" r="0.69"/><circle cx="37.9" cy="34.9" r="0.64"/><circle cx="38.9" cy="31.3" r="0.63"/><circle cx="0.3" cy="18.9" r="0.55"/><circle cx="42.3" cy="18.9" r="0.55"/><circle cx="15.0" cy="2.5" r="0.64"/><circle cx="6.6" cy="28.9" r="0.48"/><circle cx="40.4" cy="2.7" r="0.68"/><circle cx="13.4" cy="36.0" r="0.69"/><circle cx="25.0" cy="2.7" r="0.54"/><circle cx="1.3" cy="28.6" r="0.69"/><circle cx="34.2" cy="12.9" r="0.61"/><circle cx="22.8" cy="25.5" r="0.65"/><circle cx="14.6" cy="27.2" r="0.65"/><circle cx="30.6" cy="4.1" r="0.64"/><circle cx="32.4" cy="7.6" r="0.65"/><circle cx="12.6" cy="16.8" r="0.62"/><circle cx="36.7" cy="7.5" r="0.68"/><circle cx="28.2" cy="4.9" r="0.66"/><circle cx="26.3" cy="14.7" r="0.63"/><circle cx="27.7" cy="20.6" r="0.55"/><circle cx="1.1" cy="29.6" r="0.53"/><circle cx="13.6" cy="20.2" r="0.71"/><circle cx="26.4" cy="11.4" r="0.46"/><circle cx="0.8" cy="23.3" r="0.73"/><circle cx="19.9" cy="27.2" r="0.74"/><circle cx="6.8" cy="15.1" r="0.67"/><circle cx="39.8" cy="33.8" r="0.70"/><circle cx="37.7" cy="6.7" r="0.65"/><circle cx="36.8" cy="2.6" r="0.53"/><circle cx="40.2" cy="17.9" r="0.65"/><circle cx="36.7" cy="11.8" r="0.58"/><circle cx="17.3" cy="16.2" r="0.62"/><circle cx="27.6" cy="0.6" r="0.58"/><circle cx="19.2" cy="1.6" r="0.73"/><circle cx="37.9" cy="10.6" r="0.57"/><circle cx="14.1" cy="17.4" r="0.67"/><circle cx="25.7" cy="1.1" r="0.67"/><circle cx="26.0" cy="14.0" r="0.46"/><circle cx="30.5" cy="32.4" r="0.63"/><circle cx="21.3" cy="24.5" r="0.69"/><circle cx="24.3" cy="14.3" r="0.70"/><circle cx="8.6" cy="3.7" r="0.66"/><circle cx="25.3" cy="8.4" r="0.51"/><circle cx="40.3" cy="33.6" r="0.47"/><circle cx="9.8" cy="20.6" r="0.64"/><circle cx="2.7" cy="17.9" r="0.71"/><circle cx="22.8" cy="30.7" r="0.59"/><circle cx="27.2" cy="26.4" r="0.50"/><circle cx="39.6" cy="25.9" r="0.51"/><circle cx="28.6" cy="19.5" r="0.48"/><circle cx="40.1" cy="16.5" r="0.72"/><circle cx="12.6" cy="22.0" r="0.57"/><circle cx="16.4" cy="10.8" r="0.59"/><circle cx="11.6" cy="1.0" r="0.47"/><circle cx="1.6" cy="18.3" r="0.72"/><circle cx="31.3" cy="5.2" r="0.74"/><circle cx="24.7" cy="10.8" r="0.52"/><circle cx="26.3" cy="27.3" r="0.57"/><circle cx="7.2" cy="16.2" r="0.55"/><circle cx="27.3" cy="16.9" r="0.58"/><circle cx="17.2" cy="8.6" r="0.62"/><circle cx="33.5" cy="0.4" r="0.57"/><circle cx="33.5" cy="37.4" r="0.57"/><circle cx="33.0" cy="27.5" r="0.60"/><circle cx="40.6" cy="16.1" r="0.71"/><circle cx="10.3" cy="35.6" r="0.72"/><circle cx="18.9" cy="15.8" r="0.48"/><circle cx="3.4" cy="20.7" r="0.73"/></g></pattern>
<pattern id="ba2s1" patternUnits="userSpaceOnUse" width="64" height="51"><g fill="#6a6050"><circle cx="57.6" cy="41.0" r="0.50"/><circle cx="19.1" cy="30.2" r="0.62"/><circle cx="25.7" cy="0.1" r="0.65"/><circle cx="25.7" cy="51.1" r="0.65"/><circle cx="58.4" cy="43.2" r="0.54"/><circle cx="57.9" cy="1.4" r="0.67"/><circle cx="13.3" cy="43.9" r="0.54"/><circle cx="39.5" cy="24.5" r="0.51"/><circle cx="35.8" cy="17.7" r="0.66"/><circle cx="8.0" cy="9.6" r="0.63"/><circle cx="2.8" cy="20.6" r="0.72"/><circle cx="3.2" cy="48.8" r="0.68"/><circle cx="6.0" cy="41.4" r="0.77"/><circle cx="24.9" cy="8.4" r="0.69"/><circle cx="36.1" cy="21.4" r="0.53"/><circle cx="44.3" cy="26.0" r="0.60"/><circle cx="16.4" cy="15.8" r="0.79"/><circle cx="6.1" cy="1.2" r="0.54"/><circle cx="11.8" cy="35.3" r="0.70"/><circle cx="16.8" cy="39.5" r="0.47"/><circle cx="37.4" cy="49.4" r="0.49"/><circle cx="27.3" cy="3.0" r="0.65"/><circle cx="62.3" cy="17.2" r="0.49"/><circle cx="14.4" cy="7.4" r="0.51"/><circle cx="59.6" cy="19.5" r="0.47"/><circle cx="18.6" cy="39.6" r="0.72"/><circle cx="54.9" cy="14.2" r="0.58"/><circle cx="60.9" cy="4.1" r="0.60"/><circle cx="-0.3" cy="27.0" r="0.66"/><circle cx="63.7" cy="27.0" r="0.66"/><circle cx="24.0" cy="35.5" r="0.47"/><circle cx="17.9" cy="9.9" r="0.59"/><circle cx="54.2" cy="31.2" r="0.51"/><circle cx="56.8" cy="3.6" r="0.56"/><circle cx="22.8" cy="24.2" r="0.78"/><circle cx="44.9" cy="3.7" r="0.72"/><circle cx="48.4" cy="37.6" r="0.60"/><circle cx="14.8" cy="27.8" r="0.71"/><circle cx="16.1" cy="40.1" r="0.73"/><circle cx="15.6" cy="40.0" r="0.72"/><circle cx="12.3" cy="36.5" r="0.77"/><circle cx="43.6" cy="13.6" r="0.71"/><circle cx="52.6" cy="23.8" r="0.66"/><circle cx="19.0" cy="37.0" r="0.51"/><circle cx="52.2" cy="19.7" r="0.73"/><circle cx="6.2" cy="30.0" r="0.72"/><circle cx="58.4" cy="44.2" r="0.78"/><circle cx="44.6" cy="48.9" r="0.75"/><circle cx="4.6" cy="34.8" r="0.77"/><circle cx="3.9" cy="43.7" r="0.73"/><circle cx="43.2" cy="11.6" r="0.74"/><circle cx="49.8" cy="43.5" r="0.52"/><circle cx="1.5" cy="36.4" r="0.53"/><circle cx="38.5" cy="24.5" r="0.50"/><circle cx="41.5" cy="15.8" r="0.69"/><circle cx="39.0" cy="3.3" r="0.77"/><circle cx="40.4" cy="20.5" r="0.58"/><circle cx="29.5" cy="45.8" r="0.57"/><circle cx="25.9" cy="44.8" r="0.58"/><circle cx="28.7" cy="43.7" r="0.53"/><circle cx="13.3" cy="31.1" r="0.59"/><circle cx="34.8" cy="33.7" r="0.67"/><circle cx="18.6" cy="29.1" r="0.59"/><circle cx="31.0" cy="4.2" r="0.70"/><circle cx="27.4" cy="36.0" r="0.70"/><circle cx="63.3" cy="49.8" r="0.64"/><circle cx="40.4" cy="42.8" r="0.57"/><circle cx="12.9" cy="31.3" r="0.53"/><circle cx="63.0" cy="49.8" r="0.66"/><circle cx="58.9" cy="39.8" r="0.53"/><circle cx="2.6" cy="42.7" r="0.75"/><circle cx="29.4" cy="49.7" r="0.54"/><circle cx="55.2" cy="43.8" r="0.77"/><circle cx="19.5" cy="12.2" r="0.65"/><circle cx="9.4" cy="16.9" r="0.57"/><circle cx="31.5" cy="34.6" r="0.54"/><circle cx="27.6" cy="7.7" r="0.46"/><circle cx="51.1" cy="23.9" r="0.74"/><circle cx="52.9" cy="48.0" r="0.71"/></g></pattern>
<pattern id="ba2is0" patternUnits="userSpaceOnUse" width="64" height="51"><g fill="#706880"><circle cx="48.6" cy="40.1" r="1.14"/><circle cx="32.9" cy="7.4" r="0.90"/><circle cx="40.9" cy="24.4" r="1.01"/><circle cx="57.6" cy="20.7" r="0.88"/><circle cx="23.6" cy="37.0" r="1.01"/><circle cx="53.2" cy="1.2" r="0.96"/><circle cx="51.4" cy="44.4" r="0.85"/><circle cx="23.5" cy="43.0" r="0.71"/><circle cx="49.3" cy="40.6" r="1.04"/><circle cx="56.3" cy="11.5" r="1.02"/><circle cx="63.0" cy="24.7" r="0.82"/><circle cx="25.5" cy="20.9" r="0.94"/><circle cx="51.6" cy="2.7" r="0.74"/><circle cx="14.6" cy="9.7" r="0.85"/><circle cx="11.4" cy="8.5" r="1.03"/><circle cx="61.3" cy="34.3" r="1.04"/><circle cx="49.0" cy="39.0" r="0.99"/><circle cx="62.2" cy="34.5" r="0.78"/><circle cx="53.6" cy="4.9" r="1.03"/><circle cx="56.7" cy="20.6" r="0.93"/><circle cx="61.6" cy="5.4" r="0.92"/><circle cx="13.6" cy="18.2" r="0.82"/><circle cx="37.7" cy="21.0" r="1.00"/><circle cx="46.9" cy="-0.8" r="0.90"/><circle cx="46.9" cy="50.2" r="0.90"/><circle cx="44.4" cy="47.6" r="1.01"/><circle cx="44.5" cy="27.0" r="0.86"/><circle cx="5.0" cy="43.4" r="1.19"/><circle cx="46.8" cy="42.6" r="1.18"/><circle cx="36.3" cy="39.4" r="1.16"/><circle cx="30.6" cy="41.7" r="0.71"/><circle cx="16.2" cy="28.0" r="1.03"/><circle cx="10.3" cy="36.3" r="0.88"/><circle cx="46.8" cy="26.1" r="0.70"/><circle cx="1.1" cy="36.9" r="0.80"/><circle cx="14.4" cy="47.0" r="1.11"/><circle cx="6.0" cy="30.5" r="1.14"/><circle cx="30.2" cy="11.8" r="1.01"/><circle cx="22.7" cy="-0.7" r="0.95"/><circle cx="22.7" cy="50.3" r="0.95"/><circle cx="28.7" cy="12.1" r="0.73"/><circle cx="1.8" cy="6.2" r="0.84"/><circle cx="49.6" cy="27.8" r="1.18"/><circle cx="10.7" cy="22.6" r="0.99"/><circle cx="20.7" cy="41.5" r="0.99"/><circle cx="59.6" cy="10.2" r="0.83"/><circle cx="39.6" cy="15.8" r="1.18"/><circle cx="57.7" cy="28.3" r="0.73"/><circle cx="58.1" cy="9.7" r="0.94"/><circle cx="17.9" cy="21.3" r="1.18"/><circle cx="59.7" cy="47.4" r="1.08"/><circle cx="32.3" cy="6.5" r="0.73"/><circle cx="55.4" cy="17.4" r="0.91"/><circle cx="48.5" cy="-0.6" r="1.08"/><circle cx="48.5" cy="50.4" r="1.08"/><circle cx="14.9" cy="41.9" r="1.08"/><circle cx="13.3" cy="47.6" r="1.18"/><circle cx="62.5" cy="40.7" r="0.75"/><circle cx="45.2" cy="24.7" r="1.08"/><circle cx="61.1" cy="2.3" r="1.09"/><circle cx="19.7" cy="-0.1" r="0.94"/><circle cx="19.7" cy="50.9" r="0.94"/></g></pattern>
<pattern id="ba2is1" patternUnits="userSpaceOnUse" width="81" height="68"><g fill="#6a6050"><circle cx="30.2" cy="20.4" r="0.89"/><circle cx="76.4" cy="22.7" r="0.87"/><circle cx="55.2" cy="25.3" r="1.01"/><circle cx="78.2" cy="12.5" r="0.77"/><circle cx="36.7" cy="53.5" r="1.06"/><circle cx="27.6" cy="19.4" r="0.98"/><circle cx="51.1" cy="58.1" r="0.79"/><circle cx="-0.6" cy="59.4" r="0.78"/><circle cx="80.4" cy="59.4" r="0.78"/><circle cx="18.2" cy="10.8" r="0.84"/><circle cx="18.2" cy="27.6" r="0.98"/><circle cx="59.7" cy="47.2" r="0.72"/><circle cx="48.3" cy="34.1" r="0.75"/><circle cx="52.5" cy="29.8" r="0.92"/><circle cx="52.8" cy="2.2" r="0.87"/><circle cx="45.8" cy="47.3" r="0.88"/><circle cx="42.8" cy="17.9" r="0.91"/><circle cx="57.2" cy="7.4" r="0.92"/><circle cx="77.3" cy="24.0" r="0.96"/><circle cx="20.7" cy="13.8" r="0.76"/><circle cx="70.9" cy="21.2" r="1.09"/><circle cx="10.9" cy="38.7" r="0.82"/><circle cx="42.5" cy="22.7" r="0.90"/><circle cx="55.0" cy="6.1" r="0.71"/><circle cx="19.1" cy="27.9" r="0.87"/><circle cx="65.3" cy="42.2" r="0.75"/><circle cx="57.4" cy="52.1" r="0.90"/><circle cx="61.3" cy="30.7" r="0.87"/><circle cx="6.3" cy="64.4" r="0.98"/><circle cx="51.5" cy="33.0" r="0.95"/><circle cx="19.9" cy="29.2" r="0.88"/><circle cx="49.9" cy="58.1" r="0.88"/><circle cx="13.6" cy="20.4" r="0.83"/><circle cx="11.5" cy="28.3" r="0.96"/><circle cx="70.5" cy="40.7" r="0.87"/><circle cx="39.2" cy="54.3" r="0.74"/><circle cx="36.2" cy="61.1" r="1.01"/><circle cx="51.0" cy="51.7" r="0.85"/><circle cx="27.9" cy="24.1" r="0.76"/><circle cx="40.5" cy="20.0" r="0.97"/><circle cx="50.1" cy="55.7" r="1.10"/><circle cx="58.5" cy="34.9" r="0.92"/><circle cx="51.0" cy="61.6" r="0.74"/><circle cx="31.8" cy="28.0" r="0.82"/><circle cx="77.1" cy="31.9" r="0.71"/><circle cx="70.3" cy="8.0" r="1.07"/><circle cx="11.0" cy="58.6" r="0.79"/><circle cx="57.5" cy="59.1" r="0.83"/><circle cx="63.2" cy="50.1" r="0.98"/></g></pattern>
<pattern id="aa2s0" patternUnits="userSpaceOnUse" width="42" height="37"><g fill="#58534d"><circle cx="2.2" cy="26.3" r="0.48"/><circle cx="31.3" cy="17.7" r="0.47"/><circle cx="12.2" cy="16.0" r="0.72"/><circle cx="34.7" cy="1.2" r="0.60"/><circle cx="37.9" cy="27.9" r="0.55"/><circle cx="13.7" cy="22.9" r="0.48"/><circle cx="28.5" cy="-0.4" r="0.65"/><circle cx="28.5" cy="36.6" r="0.65"/><circle cx="16.4" cy="7.2" r="0.67"/><circle cx="17.7" cy="4.2" r="0.54"/><circle cx="34.4" cy="14.0" r="0.66"/><circle cx="9.7" cy="35.4" r="0.51"/><circle cx="2.4" cy="8.6" r="0.71"/><circle cx="15.7" cy="22.5" r="0.60"/><circle cx="14.1" cy="16.8" r="0.55"/><circle cx="-0.2" cy="32.1" r="0.71"/><circle cx="41.8" cy="32.1" r="0.71"/><circle cx="24.8" cy="28.5" r="0.46"/><circle cx="26.3" cy="0.5" r="0.57"/><circle cx="26.3" cy="37.5" r="0.57"/><circle cx="7.7" cy="10.1" r="0.46"/><circle cx="9.4" cy="4.0" r="0.64"/><circle cx="33.3" cy="25.6" r="0.67"/><circle cx="4.8" cy="29.3" r="0.63"/><circle cx="17.0" cy="11.7" r="0.47"/><circle cx="24.7" cy="27.0" r="0.56"/><circle cx="37.3" cy="6.3" r="0.75"/><circle cx="37.2" cy="15.7" r="0.56"/><circle cx="29.3" cy="24.8" r="0.60"/><circle cx="14.4" cy="7.7" r="0.59"/><circle cx="12.2" cy="14.3" r="0.56"/><circle cx="9.5" cy="13.0" r="0.55"/><circle cx="36.0" cy="7.7" r="0.46"/><circle cx="9.3" cy="20.3" r="0.49"/><circle cx="13.1" cy="15.0" r="0.60"/><circle cx="22.5" cy="14.7" r="0.60"/><circle cx="-0.7" cy="9.7" r="0.74"/><circle cx="41.3" cy="9.7" r="0.74"/><circle cx="31.4" cy="17.9" r="0.64"/><circle cx="8.9" cy="21.5" r="0.72"/><circle cx="27.5" cy="18.7" r="0.58"/><circle cx="5.1" cy="5.8" r="0.69"/><circle cx="0.3" cy="28.4" r="0.54"/><circle cx="42.3" cy="28.4" r="0.54"/><circle cx="11.0" cy="27.5" r="0.60"/><circle cx="19.1" cy="9.3" r="0.62"/><circle cx="7.9" cy="28.9" r="0.67"/><circle cx="21.1" cy="3.5" r="0.59"/><circle cx="22.8" cy="10.5" r="0.64"/><circle cx="35.8" cy="25.4" r="0.59"/><circle cx="12.1" cy="11.4" r="0.52"/><circle cx="0.7" cy="7.8" r="0.47"/><circle cx="33.7" cy="16.2" r="0.73"/><circle cx="29.3" cy="28.6" r="0.45"/><circle cx="10.3" cy="19.5" r="0.50"/><circle cx="18.6" cy="6.7" r="0.58"/><circle cx="14.3" cy="23.6" r="0.50"/><circle cx="3.8" cy="26.8" r="0.46"/><circle cx="25.1" cy="7.8" r="0.50"/><circle cx="36.9" cy="17.1" r="0.59"/><circle cx="3.5" cy="22.6" r="0.67"/><circle cx="3.6" cy="31.6" r="0.52"/><circle cx="38.9" cy="2.1" r="0.51"/><circle cx="7.0" cy="6.6" r="0.63"/><circle cx="3.7" cy="14.3" r="0.71"/><circle cx="4.1" cy="28.2" r="0.64"/><circle cx="9.6" cy="13.0" r="0.74"/><circle cx="34.8" cy="20.7" r="0.60"/><circle cx="5.1" cy="26.4" r="0.58"/><circle cx="35.8" cy="10.7" r="0.64"/><circle cx="36.6" cy="1.8" r="0.57"/><circle cx="2.8" cy="20.6" r="0.47"/><circle cx="39.5" cy="7.6" r="0.71"/></g></pattern>
<pattern id="aa2s1" patternUnits="userSpaceOnUse" width="64" height="51"><g fill="#68635c"><circle cx="22.0" cy="20.1" r="0.55"/><circle cx="45.6" cy="0.6" r="0.69"/><circle cx="45.6" cy="51.6" r="0.69"/><circle cx="22.4" cy="12.2" r="0.65"/><circle cx="49.3" cy="19.2" r="0.63"/><circle cx="50.4" cy="35.5" r="0.62"/><circle cx="14.9" cy="25.3" r="0.66"/><circle cx="54.5" cy="16.0" r="0.58"/><circle cx="47.1" cy="22.3" r="0.73"/><circle cx="24.4" cy="9.7" r="0.73"/><circle cx="18.8" cy="40.7" r="0.79"/><circle cx="41.1" cy="28.0" r="0.71"/><circle cx="35.6" cy="43.5" r="0.77"/><circle cx="27.4" cy="29.3" r="0.48"/><circle cx="34.0" cy="28.9" r="0.78"/><circle cx="48.9" cy="0.7" r="0.72"/><circle cx="48.9" cy="51.7" r="0.72"/><circle cx="11.4" cy="37.3" r="0.80"/><circle cx="48.9" cy="29.3" r="0.47"/><circle cx="54.7" cy="5.0" r="0.49"/><circle cx="55.0" cy="31.0" r="0.70"/><circle cx="16.4" cy="25.8" r="0.58"/><circle cx="30.9" cy="22.5" r="0.75"/><circle cx="28.5" cy="25.8" r="0.78"/><circle cx="61.4" cy="11.0" r="0.57"/><circle cx="2.3" cy="48.1" r="0.69"/><circle cx="36.7" cy="21.5" r="0.55"/><circle cx="58.5" cy="11.8" r="0.46"/><circle cx="7.8" cy="6.7" r="0.57"/><circle cx="19.9" cy="11.2" r="0.57"/><circle cx="28.2" cy="26.4" r="0.46"/><circle cx="45.1" cy="30.4" r="0.70"/><circle cx="2.4" cy="18.4" r="0.73"/><circle cx="18.3" cy="10.9" r="0.74"/><circle cx="12.2" cy="-0.2" r="0.77"/><circle cx="12.2" cy="50.8" r="0.77"/><circle cx="21.2" cy="27.3" r="0.72"/><circle cx="9.1" cy="45.1" r="0.66"/><circle cx="37.0" cy="43.5" r="0.64"/><circle cx="43.4" cy="49.1" r="0.77"/><circle cx="45.2" cy="43.8" r="0.55"/><circle cx="59.2" cy="7.2" r="0.45"/><circle cx="-0.3" cy="22.0" r="0.63"/><circle cx="63.7" cy="22.0" r="0.63"/><circle cx="6.4" cy="16.4" r="0.80"/><circle cx="21.6" cy="2.4" r="0.47"/><circle cx="8.9" cy="6.8" r="0.64"/><circle cx="24.1" cy="27.3" r="0.62"/><circle cx="23.4" cy="23.8" r="0.57"/><circle cx="57.8" cy="19.4" r="0.59"/><circle cx="33.2" cy="39.5" r="0.54"/><circle cx="48.7" cy="23.3" r="0.65"/><circle cx="41.6" cy="10.5" r="0.75"/><circle cx="57.0" cy="10.9" r="0.64"/><circle cx="12.6" cy="43.8" r="0.72"/><circle cx="30.1" cy="17.3" r="0.63"/><circle cx="33.1" cy="17.4" r="0.62"/><circle cx="62.3" cy="3.5" r="0.79"/><circle cx="57.6" cy="10.0" r="0.61"/><circle cx="31.1" cy="0.3" r="0.46"/><circle cx="31.1" cy="51.3" r="0.46"/><circle cx="4.4" cy="37.0" r="0.71"/><circle cx="58.8" cy="36.4" r="0.68"/><circle cx="48.2" cy="31.8" r="0.45"/><circle cx="56.1" cy="15.4" r="0.58"/><circle cx="42.4" cy="18.5" r="0.56"/><circle cx="8.8" cy="48.1" r="0.65"/><circle cx="54.6" cy="34.3" r="0.75"/><circle cx="55.7" cy="13.4" r="0.77"/><circle cx="52.3" cy="14.9" r="0.64"/><circle cx="19.3" cy="3.9" r="0.55"/><circle cx="18.3" cy="15.3" r="0.54"/><circle cx="8.2" cy="26.3" r="0.73"/><circle cx="28.0" cy="17.7" r="0.47"/><circle cx="13.6" cy="13.8" r="0.56"/><circle cx="10.6" cy="0.2" r="0.57"/><circle cx="10.6" cy="51.2" r="0.57"/><circle cx="39.5" cy="32.4" r="0.54"/><circle cx="52.0" cy="6.8" r="0.73"/><circle cx="49.5" cy="31.0" r="0.76"/><circle cx="1.6" cy="3.1" r="0.68"/><circle cx="10.2" cy="11.8" r="0.49"/><circle cx="51.2" cy="38.6" r="0.50"/></g></pattern>
<pattern id="aa2is0" patternUnits="userSpaceOnUse" width="64" height="51"><g fill="#48433d"><circle cx="27.8" cy="37.0" r="0.87"/><circle cx="31.8" cy="42.3" r="0.71"/><circle cx="62.4" cy="26.4" r="0.65"/><circle cx="47.2" cy="11.6" r="1.09"/><circle cx="43.7" cy="10.4" r="1.08"/><circle cx="20.6" cy="48.6" r="0.60"/><circle cx="19.1" cy="32.0" r="0.74"/><circle cx="21.4" cy="5.3" r="0.90"/><circle cx="54.2" cy="15.5" r="0.94"/><circle cx="34.1" cy="35.7" r="1.10"/><circle cx="34.4" cy="18.6" r="0.84"/><circle cx="45.6" cy="-0.1" r="1.09"/><circle cx="45.6" cy="50.9" r="1.09"/><circle cx="19.4" cy="4.8" r="1.07"/><circle cx="13.1" cy="34.7" r="0.67"/><circle cx="32.1" cy="36.9" r="1.08"/><circle cx="23.0" cy="21.7" r="1.00"/><circle cx="33.2" cy="5.5" r="0.77"/><circle cx="15.3" cy="38.6" r="0.92"/><circle cx="5.5" cy="25.5" r="0.99"/><circle cx="53.7" cy="36.9" r="0.89"/><circle cx="31.1" cy="48.6" r="0.83"/><circle cx="16.4" cy="15.4" r="0.79"/><circle cx="26.0" cy="13.9" r="0.79"/><circle cx="55.1" cy="7.8" r="0.67"/><circle cx="14.5" cy="8.7" r="1.09"/><circle cx="53.3" cy="42.1" r="0.60"/><circle cx="43.0" cy="37.2" r="0.70"/><circle cx="16.9" cy="26.0" r="0.80"/><circle cx="26.0" cy="26.8" r="0.99"/><circle cx="49.2" cy="44.6" r="1.01"/><circle cx="12.1" cy="31.8" r="0.72"/><circle cx="35.1" cy="18.8" r="1.06"/><circle cx="29.7" cy="24.3" r="0.75"/><circle cx="32.7" cy="30.3" r="0.66"/><circle cx="61.2" cy="26.1" r="0.72"/><circle cx="53.4" cy="2.5" r="0.95"/><circle cx="24.2" cy="47.9" r="0.64"/><circle cx="57.5" cy="32.2" r="0.96"/><circle cx="26.7" cy="16.7" r="0.90"/><circle cx="18.4" cy="45.9" r="0.86"/><circle cx="48.9" cy="37.9" r="0.70"/><circle cx="30.7" cy="3.9" r="0.65"/><circle cx="4.4" cy="50.0" r="0.83"/><circle cx="25.1" cy="36.3" r="0.71"/><circle cx="7.0" cy="3.9" r="0.67"/><circle cx="18.5" cy="12.1" r="0.83"/><circle cx="21.3" cy="45.4" r="0.86"/><circle cx="55.6" cy="29.3" r="0.88"/><circle cx="-0.8" cy="3.2" r="1.07"/><circle cx="63.2" cy="3.2" r="1.07"/><circle cx="56.3" cy="3.0" r="0.62"/><circle cx="22.5" cy="14.3" r="0.93"/><circle cx="21.3" cy="37.0" r="0.85"/><circle cx="22.9" cy="12.4" r="0.93"/><circle cx="11.9" cy="25.1" r="0.70"/><circle cx="42.0" cy="34.5" r="0.84"/><circle cx="49.6" cy="37.6" r="0.63"/><circle cx="37.4" cy="25.7" r="0.89"/><circle cx="30.2" cy="43.7" r="0.97"/></g></pattern>
<pattern id="aa2is1" patternUnits="userSpaceOnUse" width="81" height="68"><g fill="#5a554e"><circle cx="0.7" cy="20.7" r="0.99"/><circle cx="81.7" cy="20.7" r="0.99"/><circle cx="68.2" cy="60.9" r="1.09"/><circle cx="15.0" cy="17.7" r="0.91"/><circle cx="52.7" cy="13.1" r="1.00"/><circle cx="22.2" cy="46.2" r="0.96"/><circle cx="24.7" cy="28.9" r="0.97"/><circle cx="44.8" cy="20.6" r="1.08"/><circle cx="28.0" cy="21.5" r="0.74"/><circle cx="76.8" cy="47.3" r="0.97"/><circle cx="41.2" cy="12.9" r="0.71"/><circle cx="45.3" cy="55.6" r="1.10"/><circle cx="7.6" cy="4.4" r="0.73"/><circle cx="12.5" cy="51.2" r="0.97"/><circle cx="65.9" cy="26.3" r="0.77"/><circle cx="70.2" cy="-0.3" r="0.75"/><circle cx="70.2" cy="67.7" r="0.75"/><circle cx="4.7" cy="7.4" r="0.83"/><circle cx="53.3" cy="47.1" r="0.79"/><circle cx="13.9" cy="36.4" r="1.09"/><circle cx="80.0" cy="3.8" r="0.75"/><circle cx="3.0" cy="36.9" r="0.88"/><circle cx="59.9" cy="22.6" r="1.04"/><circle cx="62.5" cy="19.6" r="1.07"/><circle cx="48.6" cy="0.3" r="1.00"/><circle cx="48.6" cy="68.3" r="1.00"/><circle cx="53.1" cy="48.8" r="0.93"/><circle cx="32.2" cy="49.7" r="0.96"/><circle cx="3.3" cy="28.9" r="0.88"/><circle cx="23.1" cy="45.3" r="0.80"/><circle cx="75.6" cy="43.4" r="0.78"/><circle cx="28.5" cy="12.2" r="0.90"/><circle cx="32.9" cy="16.4" r="0.81"/><circle cx="26.2" cy="66.8" r="0.76"/><circle cx="78.0" cy="17.2" r="0.85"/><circle cx="7.3" cy="37.0" r="1.06"/><circle cx="52.4" cy="0.4" r="0.90"/><circle cx="52.4" cy="68.4" r="0.90"/><circle cx="9.8" cy="7.2" r="0.77"/><circle cx="54.0" cy="14.5" r="1.03"/><circle cx="38.4" cy="12.3" r="0.72"/><circle cx="66.7" cy="34.6" r="1.04"/><circle cx="17.0" cy="45.5" r="1.05"/><circle cx="42.1" cy="-0.0" r="0.96"/><circle cx="42.1" cy="68.0" r="0.96"/><circle cx="28.4" cy="60.3" r="0.94"/><circle cx="56.2" cy="62.1" r="1.07"/><circle cx="39.2" cy="38.1" r="1.08"/><circle cx="67.7" cy="16.4" r="1.09"/><circle cx="62.3" cy="33.3" r="0.77"/><circle cx="66.5" cy="45.3" r="0.94"/><circle cx="40.8" cy="59.0" r="0.92"/><circle cx="58.5" cy="23.4" r="0.72"/></g></pattern>
<filter id="soft" x="-5%" y="-5%" width="110%" height="110%"><feGaussianBlur stdDeviation="0.45"/></filter>
<filter id="blur2"><feGaussianBlur stdDeviation="2.2"/></filter>
<filter id="blur1"><feGaussianBlur stdDeviation="1"/></filter>
</defs>
<clipPath id="clip00"><rect x="35.6" y="491.8" width="143.3" height="105.7"/></clipPath>
<g clip-path="url(#clip00)">
<rect x="35.6" y="491.8" width="143.3" height="105.7" fill="#000" filter="url(#pf1)"/>
<g filter="url(#soft)" opacity="0.5"><rect x="35.6" y="491.8" width="143.3" height="105.7" fill="url(#pf1s0)"/><rect x="35.6" y="491.8" width="143.3" height="105.7" fill="url(#pf1s1)"/></g>


<rect x="113.69850000000002" y="491.8" width="65.20149999999998" height="48.622000000000014" fill="#000" filter="url(#pf1i)"/>
<g filter="url(#soft)" opacity="0.7"><rect x="113.69850000000002" y="491.8" width="65.20149999999998" height="48.622000000000014" fill="url(#pf1is0)"/><rect x="113.69850000000002" y="491.8" width="65.20149999999998" height="48.622000000000014" fill="url(#pf1is1)"/></g>


<rect x="113.69850000000002" y="492.3" width="64.70149999999998" height="48.122000000000014" fill="none" stroke="#333" stroke-width="1"/>
<rect x="41.9" y="508" width="35.699999999999996" height="25.399999999999977" fill="none" stroke="#222" stroke-width="1.1"/>
<line x1="77.6" y1="508" x2="113" y2="492.5" stroke="#333" stroke-width="0.9" stroke-dasharray="2.5,2"/>
<line x1="77.6" y1="533.4" x2="113" y2="540.3" stroke="#333" stroke-width="0.9" stroke-dasharray="2.5,2"/>
</g>
<text x="178" y="594" font-size="10" text-anchor="end" font-weight="normal" fill="#111" stroke="#111" stroke-width="0.18" >100μm</text>
<clipPath id="clip10"><rect x="181.3" y="491.8" width="142.7" height="105.7"/></clipPath>
<g clip-path="url(#clip10)">
<rect x="181.3" y="491.8" width="142.7" height="105.7" fill="#000" filter="url(#et1)"/>
<g filter="url(#soft)" opacity="0.5"><rect x="181.3" y="491.8" width="142.7" height="105.7" fill="url(#et1s0)"/><rect x="181.3" y="491.8" width="142.7" height="105.7" fill="url(#et1s1)"/></g>
<g filter="url(#blur2)" style="mix-blend-mode:multiply"><ellipse cx="232" cy="537" rx="7" ry="6" fill="#e2bc9e" opacity="0.6"/><ellipse cx="203" cy="578" rx="5" ry="6" fill="#e2bc9e" opacity="0.5"/><ellipse cx="262" cy="545" rx="5" ry="4" fill="#e2bc9e" opacity="0.4"/><ellipse cx="245" cy="558" rx="11" ry="6" fill="#e2bc9e" opacity="0.9"/><ellipse cx="235" cy="551" rx="6" ry="5" fill="#e2bc9e" opacity="0.8"/><ellipse cx="253" cy="562" rx="6" ry="4" fill="#e2bc9e" opacity="0.8"/><ellipse cx="240" cy="545" rx="6" ry="8" fill="#e2bc9e" opacity="0.55"/><ellipse cx="210" cy="568" rx="6" ry="10" fill="#e2bc9e" opacity="0.6"/><ellipse cx="200" cy="512" rx="28" ry="18" fill="#e2bc9e" opacity="0.15"/></g><g filter="url(#blur1)" style="mix-blend-mode:multiply"><ellipse cx="246" cy="559" rx="6" ry="3.5" fill="#d09c76" opacity="0.7"/><ellipse cx="238" cy="553" rx="3" ry="3" fill="#d09c76" opacity="0.6"/><ellipse cx="212" cy="567" rx="3" ry="6" fill="#d09c76" opacity="0.5"/></g>
<ellipse cx="237.5" cy="542" rx="4.6" ry="8.5" fill="#eee6e2" transform="rotate(15 237.5 542)"/><ellipse cx="194" cy="534" rx="2.2" ry="2.2" fill="#eee8e6"/><ellipse cx="206" cy="570" rx="2.3" ry="2.8" fill="#eee8e6"/><ellipse cx="230" cy="585" rx="2" ry="2" fill="#eee8e6"/><ellipse cx="272" cy="552" rx="1.8" ry="1.8" fill="#eee8e6"/><ellipse cx="306" cy="585" rx="2.3" ry="2.5" fill="#eee8e6"/>
<rect x="259.0715" y="491.8" width="64.92849999999999" height="48.622000000000014" fill="#000" filter="url(#et1i)"/>
<g filter="url(#soft)" opacity="0.7"><rect x="259.0715" y="491.8" width="64.92849999999999" height="48.622000000000014" fill="url(#et1is0)"/><rect x="259.0715" y="491.8" width="64.92849999999999" height="48.622000000000014" fill="url(#et1is1)"/></g>
<g filter="url(#blur2)" style="mix-blend-mode:multiply"><ellipse cx="292" cy="508" rx="26" ry="13" fill="#dcaa84" opacity="0.45"/><ellipse cx="318" cy="500" rx="8" ry="8" fill="#dcaa84" opacity="0.6"/><ellipse cx="315" cy="505" rx="7" ry="9" fill="#dcaa84" opacity="0.7"/><ellipse cx="262" cy="520" rx="5" ry="6" fill="#dcaa84" opacity="0.5"/><ellipse cx="270" cy="505" rx="9" ry="9" fill="#dcaa84" opacity="0.9"/><ellipse cx="286" cy="514" rx="9" ry="9" fill="#dcaa84" opacity="0.95"/><ellipse cx="300" cy="510" rx="9" ry="7" fill="#dcaa84" opacity="0.9"/><ellipse cx="308" cy="517" rx="5" ry="5" fill="#dcaa84" opacity="0.7"/><ellipse cx="278" cy="523" rx="7" ry="5" fill="#dcaa84" opacity="0.7"/><ellipse cx="264" cy="497" rx="6" ry="5" fill="#dcaa84" opacity="0.7"/></g><g filter="url(#blur1)" style="mix-blend-mode:multiply"><ellipse cx="272" cy="507" rx="4" ry="5" fill="#c89468" opacity="0.7"/><ellipse cx="288" cy="514" rx="5" ry="5" fill="#c89468" opacity="0.7"/><ellipse cx="300" cy="510" rx="4" ry="4" fill="#c89468" opacity="0.7"/></g>
<ellipse cx="276" cy="497" rx="4.8" ry="5.2" fill="#eee8e6"/>
<rect x="259.0715" y="492.3" width="64.42849999999999" height="48.122000000000014" fill="none" stroke="#333" stroke-width="1"/>
<rect x="223.2" y="547" width="36.5" height="25.5" fill="none" stroke="#222" stroke-width="1.1"/>
<line x1="259.7" y1="572.5" x2="324" y2="541.2" stroke="#333" stroke-width="0.9" stroke-dasharray="2.5,2"/>
</g>
<clipPath id="clip20"><rect x="326.3" y="491.8" width="143.8" height="105.7"/></clipPath>
<g clip-path="url(#clip20)">
<rect x="326.3" y="491.8" width="143.8" height="105.7" fill="#000" filter="url(#ba1)"/>
<g filter="url(#soft)" opacity="0.5"><rect x="326.3" y="491.8" width="143.8" height="105.7" fill="url(#ba1s0)"/><rect x="326.3" y="491.8" width="143.8" height="105.7" fill="url(#ba1s1)"/></g>

<ellipse cx="386.8" cy="529.8" rx="4" ry="3" fill="#eee8e6"/><ellipse cx="413.5" cy="544" rx="2.6" ry="2.4" fill="#eee8e6"/><ellipse cx="377" cy="558.3" rx="2.4" ry="2.7" fill="#eee8e6"/><ellipse cx="438.5" cy="573" rx="2.6" ry="2.6" fill="#eee8e6"/><ellipse cx="368.7" cy="583.7" rx="2.7" ry="3.1" fill="#eee8e6"/><ellipse cx="458" cy="531" rx="1.6" ry="1.6" fill="#eee8e6"/><ellipse cx="430" cy="553" rx="1.4" ry="1.4" fill="#eee8e6"/>
<rect x="404.67100000000005" y="491.8" width="65.42899999999997" height="48.622000000000014" fill="#000" filter="url(#ba1i)"/>
<g filter="url(#soft)" opacity="0.7"><rect x="404.67100000000005" y="491.8" width="65.42899999999997" height="48.622000000000014" fill="url(#ba1is0)"/><rect x="404.67100000000005" y="491.8" width="65.42899999999997" height="48.622000000000014" fill="url(#ba1is1)"/></g>


<rect x="404.67100000000005" y="492.3" width="64.92899999999997" height="48.122000000000014" fill="none" stroke="#333" stroke-width="1"/>
<rect x="341" y="510.2" width="37.30000000000001" height="25.30000000000001" fill="none" stroke="#222" stroke-width="1.1"/>
<line x1="378.3" y1="510.2" x2="403.9" y2="492.5" stroke="#333" stroke-width="0.9" stroke-dasharray="2.5,2"/>
<line x1="378.3" y1="535.5" x2="403.9" y2="540.4" stroke="#333" stroke-width="0.9" stroke-dasharray="2.5,2"/>
</g>
<clipPath id="clip30"><rect x="471.7" y="491.8" width="143.1" height="105.7"/></clipPath>
<g clip-path="url(#clip30)">
<rect x="471.7" y="491.8" width="143.1" height="105.7" fill="#000" filter="url(#aa1)"/>
<g filter="url(#soft)" opacity="0.5"><rect x="471.7" y="491.8" width="143.1" height="105.7" fill="url(#aa1s0)"/><rect x="471.7" y="491.8" width="143.1" height="105.7" fill="url(#aa1s1)"/></g>
<g filter="url(#blur2)"><ellipse cx="525" cy="515" rx="9" ry="5" fill="#a7a0d0" opacity="0.75"/></g>

<rect x="549.6895" y="491.8" width="65.1105" height="48.622000000000014" fill="#000" filter="url(#aa1i)"/>
<g filter="url(#soft)" opacity="0.7"><rect x="549.6895" y="491.8" width="65.1105" height="48.622000000000014" fill="url(#aa1is0)"/><rect x="549.6895" y="491.8" width="65.1105" height="48.622000000000014" fill="url(#aa1is1)"/></g>


<rect x="549.6895" y="492.3" width="64.6105" height="48.122000000000014" fill="none" stroke="#333" stroke-width="1"/>
<rect x="476.6" y="506" width="36.10000000000002" height="25.200000000000045" fill="none" stroke="#222" stroke-width="1.1"/>
<line x1="512.7" y1="506" x2="550" y2="492.5" stroke="#333" stroke-width="0.9" stroke-dasharray="2.5,2"/>
<line x1="512.7" y1="531.2" x2="550" y2="540.4" stroke="#333" stroke-width="0.9" stroke-dasharray="2.5,2"/>
</g>
<clipPath id="clip01"><rect x="35.6" y="603.4" width="143.3" height="104.8"/></clipPath>
<g clip-path="url(#clip01)">
<rect x="35.6" y="603.4" width="143.3" height="104.8" fill="#000" filter="url(#pf2)"/>
<g filter="url(#soft)" opacity="0.5"><rect x="35.6" y="603.4" width="143.3" height="104.8" fill="url(#pf2s0)"/><rect x="35.6" y="603.4" width="143.3" height="104.8" fill="url(#pf2s1)"/></g>

<circle cx="119" cy="688" r="5" fill="none" stroke="#d8d2dc" stroke-width="2" filter="url(#blur1)"/>
<rect x="113.69850000000002" y="603.4" width="65.20149999999998" height="48.20799999999997" fill="#000" filter="url(#pf2i)"/>
<g filter="url(#soft)" opacity="0.7"><rect x="113.69850000000002" y="603.4" width="65.20149999999998" height="48.20799999999997" fill="url(#pf2is0)"/><rect x="113.69850000000002" y="603.4" width="65.20149999999998" height="48.20799999999997" fill="url(#pf2is1)"/></g>


<rect x="113.69850000000002" y="603.9" width="64.70149999999998" height="47.70799999999997" fill="none" stroke="#333" stroke-width="1"/>
<rect x="41" y="617.3" width="36.599999999999994" height="25.300000000000068" fill="none" stroke="#222" stroke-width="1.1"/>
<line x1="77.6" y1="617.3" x2="113.5" y2="603.5" stroke="#333" stroke-width="0.9" stroke-dasharray="2.5,2"/>
<line x1="77.6" y1="642.6" x2="113.5" y2="652.4" stroke="#333" stroke-width="0.9" stroke-dasharray="2.5,2"/>
</g>
<text x="176.5" y="703" font-size="9.8" text-anchor="end" font-weight="normal" fill="#111" stroke="#111" stroke-width="0.18" >50μm</text>
<line x1="163" y1="705.5" x2="175.5" y2="705.5" stroke="#222" stroke-width="1.0" />
<clipPath id="clip11"><rect x="181.3" y="603.4" width="142.7" height="104.8"/></clipPath>
<g clip-path="url(#clip11)">
<rect x="181.3" y="603.4" width="142.7" height="104.8" fill="#000" filter="url(#et2)"/>
<g filter="url(#soft)" opacity="0.5"><rect x="181.3" y="603.4" width="142.7" height="104.8" fill="url(#et2s0)"/><rect x="181.3" y="603.4" width="142.7" height="104.8" fill="url(#et2s1)"/></g>

<g filter="url(#blur2)"><ellipse cx="216" cy="634" rx="8" ry="5" fill="#e4dfd8" opacity="0.9"/><ellipse cx="290" cy="657" rx="8" ry="4" fill="#e4dfd8" opacity="0.9"/></g>
<rect x="259.0715" y="603.4" width="64.92849999999999" height="48.20799999999997" fill="#000" filter="url(#et2i)"/>
<g filter="url(#soft)" opacity="0.7"><rect x="259.0715" y="603.4" width="64.92849999999999" height="48.20799999999997" fill="url(#et2is0)"/><rect x="259.0715" y="603.4" width="64.92849999999999" height="48.20799999999997" fill="url(#et2is1)"/></g>


<rect x="259.0715" y="603.9" width="64.42849999999999" height="47.70799999999997" fill="none" stroke="#333" stroke-width="1"/>
<rect x="183.3" y="643.5" width="36.29999999999998" height="25.100000000000023" fill="none" stroke="#222" stroke-width="1.1"/>
<line x1="219.6" y1="643.5" x2="259" y2="604" stroke="#333" stroke-width="0.9" stroke-dasharray="2.5,2"/>
<line x1="219.6" y1="668.6" x2="259" y2="652.5" stroke="#333" stroke-width="0.9" stroke-dasharray="2.5,2"/>
</g>
<clipPath id="clip21"><rect x="326.3" y="603.4" width="143.8" height="104.8"/></clipPath>
<g clip-path="url(#clip21)">
<rect x="326.3" y="603.4" width="143.8" height="104.8" fill="#000" filter="url(#ba2)"/>
<g filter="url(#soft)" opacity="0.5"><rect x="326.3" y="603.4" width="143.8" height="104.8" fill="url(#ba2s0)"/><rect x="326.3" y="603.4" width="143.8" height="104.8" fill="url(#ba2s1)"/></g>


<rect x="404.67100000000005" y="603.4" width="65.42899999999997" height="48.20799999999997" fill="#000" filter="url(#ba2i)"/>
<g filter="url(#soft)" opacity="0.7"><rect x="404.67100000000005" y="603.4" width="65.42899999999997" height="48.20799999999997" fill="url(#ba2is0)"/><rect x="404.67100000000005" y="603.4" width="65.42899999999997" height="48.20799999999997" fill="url(#ba2is1)"/></g>


<rect x="404.67100000000005" y="603.9" width="64.92899999999997" height="47.70799999999997" fill="none" stroke="#333" stroke-width="1"/>
<rect x="329" y="640" width="36.80000000000001" height="25" fill="none" stroke="#222" stroke-width="1.1"/>
<line x1="365.8" y1="640" x2="404.6" y2="603.5" stroke="#333" stroke-width="0.9" stroke-dasharray="2.5,2"/>
<line x1="365.8" y1="665" x2="404.6" y2="652.5" stroke="#333" stroke-width="0.9" stroke-dasharray="2.5,2"/>
</g>
<clipPath id="clip31"><rect x="471.7" y="603.4" width="143.1" height="104.8"/></clipPath>
<g clip-path="url(#clip31)">
<rect x="471.7" y="603.4" width="143.1" height="104.8" fill="#000" filter="url(#aa2)"/>
<g filter="url(#soft)" opacity="0.5"><rect x="471.7" y="603.4" width="143.1" height="104.8" fill="url(#aa2s0)"/><rect x="471.7" y="603.4" width="143.1" height="104.8" fill="url(#aa2s1)"/></g>

<g filter="url(#blur2)"><ellipse cx="525" cy="660" rx="6" ry="8" fill="#ddd8d2" opacity="0.7"/></g>
<rect x="549.6895" y="603.4" width="65.1105" height="48.20799999999997" fill="#000" filter="url(#aa2i)"/>
<g filter="url(#soft)" opacity="0.7"><rect x="549.6895" y="603.4" width="65.1105" height="48.20799999999997" fill="url(#aa2is0)"/><rect x="549.6895" y="603.4" width="65.1105" height="48.20799999999997" fill="url(#aa2is1)"/></g>


<rect x="549.6895" y="603.9" width="64.6105" height="47.70799999999997" fill="none" stroke="#333" stroke-width="1"/>
<rect x="475" y="635.6" width="37.299999999999955" height="25.899999999999977" fill="none" stroke="#222" stroke-width="1.1"/>
<line x1="512.3" y1="635.6" x2="550" y2="603.5" stroke="#333" stroke-width="0.9" stroke-dasharray="2.5,2"/>
<line x1="512.3" y1="661.5" x2="550" y2="652.5" stroke="#333" stroke-width="0.9" stroke-dasharray="2.5,2"/>
</g>
<line x1="303" y1="595" x2="314" y2="595" stroke="#333" stroke-width="1.0" />
<line x1="454" y1="595" x2="465" y2="595" stroke="#333" stroke-width="1.0" />
<line x1="597" y1="595" x2="608" y2="595" stroke="#333" stroke-width="1.0" />
<line x1="311" y1="705.5" x2="322" y2="705.5" stroke="#333" stroke-width="1.0" />
<line x1="456" y1="705.5" x2="467" y2="705.5" stroke="#333" stroke-width="1.0" />
<line x1="601" y1="705.5" x2="612" y2="705.5" stroke="#333" stroke-width="1.0" />
<text x="0.9" y="726.6" font-size="14" text-anchor="start" font-weight="bold" fill="#111" stroke="#111" stroke-width="0" >F</text>
<text x="208.4" y="726.6" font-size="14" text-anchor="start" font-weight="bold" fill="#111" stroke="#111" stroke-width="0" >G</text>
<text x="415.4" y="726.6" font-size="14" text-anchor="start" font-weight="bold" fill="#111" stroke="#111" stroke-width="0" >H</text>
<line x1="61.8" y1="734.5" x2="61.8" y2="876.1999999999999" stroke="#1a1a1a" stroke-width="1.6" />
<line x1="56.8" y1="875.4" x2="208.6" y2="875.4" stroke="#1a1a1a" stroke-width="1.6" />
<line x1="55.5" y1="734.5" x2="61.8" y2="734.5" stroke="#1a1a1a" stroke-width="1.4" />
<text x="54.3" y="738.4" font-size="11" text-anchor="end" font-weight="normal" fill="#222" stroke="#222" stroke-width="0.3" >40</text>
<line x1="55.5" y1="769.8" x2="61.8" y2="769.8" stroke="#1a1a1a" stroke-width="1.4" />
<text x="54.3" y="773.6999999999999" font-size="11" text-anchor="end" font-weight="normal" fill="#222" stroke="#222" stroke-width="0.3" >30</text>
<line x1="55.5" y1="805" x2="61.8" y2="805" stroke="#1a1a1a" stroke-width="1.4" />
<text x="54.3" y="808.9" font-size="11" text-anchor="end" font-weight="normal" fill="#222" stroke="#222" stroke-width="0.3" >20</text>
<line x1="55.5" y1="840.2" x2="61.8" y2="840.2" stroke="#1a1a1a" stroke-width="1.4" />
<text x="54.3" y="844.1" font-size="11" text-anchor="end" font-weight="normal" fill="#222" stroke="#222" stroke-width="0.3" >10</text>
<line x1="55.5" y1="875.4" x2="61.8" y2="875.4" stroke="#1a1a1a" stroke-width="1.4" />
<text x="54.3" y="879.3" font-size="11" text-anchor="end" font-weight="normal" fill="#222" stroke="#222" stroke-width="0.3" >0</text>
<line x1="83.8" y1="875.4" x2="83.8" y2="881.4" stroke="#1a1a1a" stroke-width="1.4" />
<rect x="72.8" y="861.7" width="22" height="13.699999999999932" fill="#7eaaa6" />
<line x1="83.8" y1="857.9" x2="83.8" y2="861.7" stroke="#a8c4c2" stroke-width="1.2" />
<line x1="78.2" y1="857.9" x2="89.39999999999999" y2="857.9" stroke="#a8c4c2" stroke-width="1.2" />
<line x1="118.2" y1="875.4" x2="118.2" y2="881.4" stroke="#1a1a1a" stroke-width="1.4" />
<rect x="107.2" y="779.4" width="22" height="96.0" fill="#c29d72" />
<line x1="118.2" y1="770.6" x2="118.2" y2="779.4" stroke="#d6c6aa" stroke-width="1.2" />
<line x1="112.60000000000001" y1="770.6" x2="123.8" y2="770.6" stroke="#d6c6aa" stroke-width="1.2" />
<line x1="152.1" y1="875.4" x2="152.1" y2="881.4" stroke="#1a1a1a" stroke-width="1.4" />
<rect x="141.1" y="860.3" width="22" height="15.100000000000023" fill="#2c3a80" />
<line x1="152.1" y1="856.4" x2="152.1" y2="860.3" stroke="#55609a" stroke-width="1.2" />
<line x1="146.5" y1="856.4" x2="157.7" y2="856.4" stroke="#55609a" stroke-width="1.2" />
<line x1="185.9" y1="875.4" x2="185.9" y2="881.4" stroke="#1a1a1a" stroke-width="1.4" />
<rect x="174.9" y="815.9" width="22" height="59.5" fill="#c96887" />
<line x1="185.9" y1="808.5" x2="185.9" y2="815.9" stroke="#d896aa" stroke-width="1.2" />
<line x1="180.3" y1="808.5" x2="191.5" y2="808.5" stroke="#d896aa" stroke-width="1.2" />
<text x="132.4" y="734.3" font-size="11.8" text-anchor="middle" font-weight="normal" fill="#222" stroke="#222" stroke-width="0.3" >Primary hepatocytes</text>
<text x="34.5" y="805.5" font-size="11.8" text-anchor="middle" font-weight="normal" fill="#222" stroke="#222" stroke-width="0.3" transform="rotate(-90 34.5 805.5)" >Apoptosis (%)</text>
<path d="M118.2,764.4 L118.2,756.8 L187.8,756.8 L187.8,764.4" fill="none" stroke="#555" stroke-width="1"/>
<text x="153" y="755.8" font-size="13.5" text-anchor="middle" font-weight="normal" fill="#222" stroke="#222" stroke-width="0.3" >***</text>
<text x="86.8" y="889.3" font-size="11" text-anchor="end" fill="#222" stroke="#222" stroke-width="0.3" transform="rotate(-45 86.8 889.3)">NC</text>
<text x="121.2" y="889.3" font-size="11" text-anchor="end" fill="#222" stroke="#222" stroke-width="0.3" transform="rotate(-45 121.2 889.3)">Ethanol</text>
<text x="155.1" y="889.3" font-size="11" text-anchor="end" fill="#222" stroke="#222" stroke-width="0.3" transform="rotate(-45 155.1 889.3)">OAT</text>
<text x="188.9" y="889.3" font-size="11" text-anchor="end" fill="#222" stroke="#222" stroke-width="0.3" transform="rotate(-45 188.9 889.3)">OAT+Ethanol</text>
<line x1="263.2" y1="733.8" x2="263.2" y2="875.4" stroke="#1a1a1a" stroke-width="1.6" />
<line x1="258.2" y1="874.6" x2="410.3" y2="874.6" stroke="#1a1a1a" stroke-width="1.6" />
<line x1="256.9" y1="733.8" x2="263.2" y2="733.8" stroke="#1a1a1a" stroke-width="1.4" />
<text x="255.7" y="737.6999999999999" font-size="11" text-anchor="end" font-weight="normal" fill="#222" stroke="#222" stroke-width="0.3" >4</text>
<line x1="256.9" y1="769.0" x2="263.2" y2="769.0" stroke="#1a1a1a" stroke-width="1.4" />
<text x="255.7" y="772.9" font-size="11" text-anchor="end" font-weight="normal" fill="#222" stroke="#222" stroke-width="0.3" >3</text>
<line x1="256.9" y1="804.2" x2="263.2" y2="804.2" stroke="#1a1a1a" stroke-width="1.4" />
<text x="255.7" y="808.1" font-size="11" text-anchor="end" font-weight="normal" fill="#222" stroke="#222" stroke-width="0.3" >2</text>
<line x1="256.9" y1="839.4" x2="263.2" y2="839.4" stroke="#1a1a1a" stroke-width="1.4" />
<text x="255.7" y="843.3" font-size="11" text-anchor="end" font-weight="normal" fill="#222" stroke="#222" stroke-width="0.3" >1</text>
<line x1="256.9" y1="874.6" x2="263.2" y2="874.6" stroke="#1a1a1a" stroke-width="1.4" />
<text x="255.7" y="878.5" font-size="11" text-anchor="end" font-weight="normal" fill="#222" stroke="#222" stroke-width="0.3" >0</text>
<line x1="286.2" y1="874.6" x2="286.2" y2="880.6" stroke="#1a1a1a" stroke-width="1.4" />
<rect x="274.7" y="839.6" width="23" height="35.0" fill="#7eaaa6" />
<line x1="286.2" y1="835.5" x2="286.2" y2="839.6" stroke="#a8c4c2" stroke-width="1.2" />
<line x1="280.59999999999997" y1="835.5" x2="291.8" y2="835.5" stroke="#a8c4c2" stroke-width="1.2" />
<line x1="320.4" y1="874.6" x2="320.4" y2="880.6" stroke="#1a1a1a" stroke-width="1.4" />
<rect x="308.9" y="786.8" width="23" height="87.80000000000007" fill="#c29d72" />
<line x1="320.4" y1="783.5" x2="320.4" y2="786.8" stroke="#d6c6aa" stroke-width="1.2" />
<line x1="314.79999999999995" y1="783.5" x2="326.0" y2="783.5" stroke="#d6c6aa" stroke-width="1.2" />
<line x1="354.9" y1="874.6" x2="354.9" y2="880.6" stroke="#1a1a1a" stroke-width="1.4" />
<rect x="343.4" y="837.4" width="23" height="37.200000000000045" fill="#2c3a80" />
<line x1="354.9" y1="834.8" x2="354.9" y2="837.4" stroke="#55609a" stroke-width="1.2" />
<line x1="349.29999999999995" y1="834.8" x2="360.5" y2="834.8" stroke="#55609a" stroke-width="1.2" />
<line x1="389.4" y1="874.6" x2="389.4" y2="880.6" stroke="#1a1a1a" stroke-width="1.4" />
<rect x="377.9" y="811.1" width="23" height="63.5" fill="#c96887" />
<line x1="389.4" y1="808.5" x2="389.4" y2="811.1" stroke="#d896aa" stroke-width="1.2" />
<line x1="383.79999999999995" y1="808.5" x2="395.0" y2="808.5" stroke="#d896aa" stroke-width="1.2" />
<text x="338.8" y="737.2" font-size="11.9" text-anchor="middle" font-weight="normal" fill="#222" stroke="#222" stroke-width="0.3" >Primary hepatocytes</text>
<text x="243.5" y="804.3" font-size="11.9" text-anchor="middle" font-weight="normal" fill="#222" stroke="#222" stroke-width="0.3" transform="rotate(-90 243.5 804.3)" >Cell Ammonia (fold)</text>
<path d="M319.9,774.5 L319.9,767.6 L391.5,767.6 L391.5,774.5" fill="none" stroke="#222" stroke-width="1.5"/>
<text x="355.9" y="766.2" font-size="13.5" text-anchor="middle" font-weight="normal" fill="#222" stroke="#222" stroke-width="0.3" >***</text>
<text x="289.2" y="889.3" font-size="11" text-anchor="end" fill="#222" stroke="#222" stroke-width="0.3" transform="rotate(-45 289.2 889.3)">NC</text>
<text x="323.4" y="889.3" font-size="11" text-anchor="end" fill="#222" stroke="#222" stroke-width="0.3" transform="rotate(-45 323.4 889.3)">Ethanol</text>
<text x="357.9" y="889.3" font-size="11" text-anchor="end" fill="#222" stroke="#222" stroke-width="0.3" transform="rotate(-45 357.9 889.3)">OAT</text>
<text x="392.4" y="889.3" font-size="11" text-anchor="end" fill="#222" stroke="#222" stroke-width="0.3" transform="rotate(-45 392.4 889.3)">OAT+Ethanol</text>
<line x1="473.4" y1="741.4" x2="473.4" y2="877.0999999999999" stroke="#1a1a1a" stroke-width="1.6" />
<line x1="468.4" y1="876.3" x2="618.6" y2="876.3" stroke="#1a1a1a" stroke-width="1.6" />
<line x1="467.09999999999997" y1="741.4" x2="473.4" y2="741.4" stroke="#1a1a1a" stroke-width="1.4" />
<text x="465.9" y="745.3" font-size="11" text-anchor="end" font-weight="normal" fill="#222" stroke="#222" stroke-width="0.3" >1.5</text>
<line x1="467.09999999999997" y1="786.3" x2="473.4" y2="786.3" stroke="#1a1a1a" stroke-width="1.4" />
<text x="465.9" y="790.1999999999999" font-size="11" text-anchor="end" font-weight="normal" fill="#222" stroke="#222" stroke-width="0.3" >1.0</text>
<line x1="467.09999999999997" y1="831.3" x2="473.4" y2="831.3" stroke="#1a1a1a" stroke-width="1.4" />
<text x="465.9" y="835.1999999999999" font-size="11" text-anchor="end" font-weight="normal" fill="#222" stroke="#222" stroke-width="0.3" >0.5</text>
<line x1="467.09999999999997" y1="876.3" x2="473.4" y2="876.3" stroke="#1a1a1a" stroke-width="1.4" />
<text x="465.9" y="880.1999999999999" font-size="11" text-anchor="end" font-weight="normal" fill="#222" stroke="#222" stroke-width="0.3" >0.0</text>
<line x1="495.9" y1="876.3" x2="495.9" y2="882.3" stroke="#1a1a1a" stroke-width="1.4" />
<rect x="484.79999999999995" y="786.3" width="22.2" height="90.0" fill="#7eaaa6" />
<line x1="495.9" y1="781" x2="495.9" y2="786.3" stroke="#a8c4c2" stroke-width="1.2" />
<line x1="490.29999999999995" y1="781" x2="501.5" y2="781" stroke="#a8c4c2" stroke-width="1.2" />
<line x1="529.0" y1="876.3" x2="529.0" y2="882.3" stroke="#1a1a1a" stroke-width="1.4" />
<rect x="517.9" y="819.1" width="22.2" height="57.19999999999993" fill="#c29d72" />
<line x1="529.0" y1="817" x2="529.0" y2="819.1" stroke="#d6c6aa" stroke-width="1.2" />
<line x1="523.4" y1="817" x2="534.6" y2="817" stroke="#d6c6aa" stroke-width="1.2" />
<line x1="562.3" y1="876.3" x2="562.3" y2="882.3" stroke="#1a1a1a" stroke-width="1.4" />
<rect x="551.1999999999999" y="784.2" width="22.2" height="92.09999999999991" fill="#2c3a80" />
<line x1="562.3" y1="782.5" x2="562.3" y2="784.2" stroke="#55609a" stroke-width="1.2" />
<line x1="556.6999999999999" y1="782.5" x2="567.9" y2="782.5" stroke="#55609a" stroke-width="1.2" />
<line x1="595.7" y1="876.3" x2="595.7" y2="882.3" stroke="#1a1a1a" stroke-width="1.4" />
<rect x="584.6" y="803.1" width="22.2" height="73.19999999999993" fill="#c96887" />
<line x1="595.7" y1="799.3" x2="595.7" y2="803.1" stroke="#d896aa" stroke-width="1.2" />
<line x1="590.1" y1="799.3" x2="601.3000000000001" y2="799.3" stroke="#d896aa" stroke-width="1.2" />
<text x="544.5" y="741.2" font-size="11.7" text-anchor="middle" font-weight="normal" fill="#222" stroke="#222" stroke-width="0.3" >Primary hepatocytes</text>
<text x="446.3" y="808.5" font-size="11.3" text-anchor="middle" font-weight="normal" fill="#222" stroke="#222" stroke-width="0.3" transform="rotate(-90 446.3 808.5)" >Cell Gln (fold)</text>
<path d="M526.4,776.6 L526.4,769.5 L596.5,769.5 L596.5,776.6" fill="none" stroke="#444" stroke-width="1"/>
<text x="562" y="768.3" font-size="13.5" text-anchor="middle" font-weight="normal" fill="#222" stroke="#222" stroke-width="0.3" >**</text>
<text x="498.9" y="890.5" font-size="11" text-anchor="end" fill="#222" stroke="#222" stroke-width="0.3" transform="rotate(-45 498.9 890.5)">NC</text>
<text x="532.0" y="890.5" font-size="11" text-anchor="end" fill="#222" stroke="#222" stroke-width="0.3" transform="rotate(-45 532.0 890.5)">Ethanol</text>
<text x="565.3" y="890.5" font-size="11" text-anchor="end" fill="#222" stroke="#222" stroke-width="0.3" transform="rotate(-45 565.3 890.5)">OAT</text>
<text x="598.7" y="890.5" font-size="11" text-anchor="end" fill="#222" stroke="#222" stroke-width="0.3" transform="rotate(-45 598.7 890.5)">OAT+Ethanol</text>
</svg></body></html>
